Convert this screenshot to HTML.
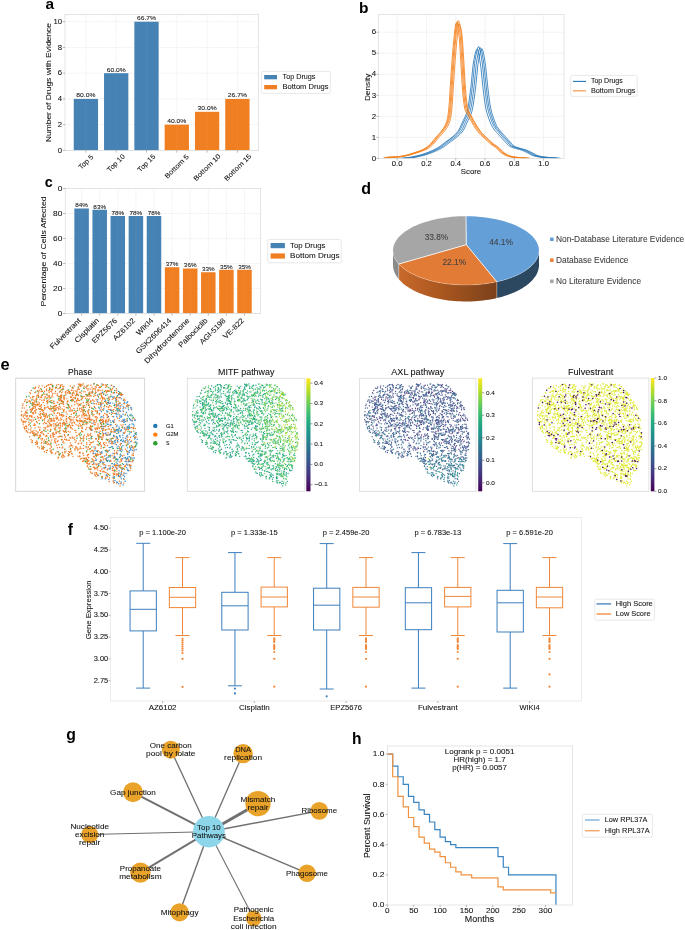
<!DOCTYPE html>
<html><head><meta charset="utf-8"><title>Figure</title>
<style>
html,body{margin:0;padding:0;background:#fff;width:685px;height:930px;overflow:hidden}
svg{display:block;will-change:transform;font-family:"Liberation Sans",sans-serif;fill:#111111}
text{stroke-width:0.07px}
</style></head><body>
<svg width="685" height="930" viewBox="0 0 685 930">
<defs>
<clipPath id="clipb"><rect x="378.5" y="10" width="185.6" height="148.4"/></clipPath>
<linearGradient id="og" x1="398" y1="0" x2="497" y2="0" gradientUnits="userSpaceOnUse"><stop offset="0" stop-color="#c86a2c"/><stop offset="0.45" stop-color="#a9561f"/><stop offset="1" stop-color="#7a401a"/></linearGradient>
<linearGradient id="vg1" x1="0" y1="1" x2="0" y2="0"><stop offset="0" stop-color="#440154"/><stop offset="0.1" stop-color="#482475"/><stop offset="0.2" stop-color="#414487"/><stop offset="0.3" stop-color="#355f8d"/><stop offset="0.4" stop-color="#2a788e"/><stop offset="0.5" stop-color="#21918c"/><stop offset="0.6" stop-color="#22a884"/><stop offset="0.7" stop-color="#44bf70"/><stop offset="0.8" stop-color="#7ad151"/><stop offset="0.9" stop-color="#bddf26"/><stop offset="1" stop-color="#fde725"/></linearGradient>
<linearGradient id="vg2" x1="0" y1="1" x2="0" y2="0"><stop offset="0" stop-color="#440154"/><stop offset="0.1" stop-color="#482475"/><stop offset="0.2" stop-color="#414487"/><stop offset="0.3" stop-color="#355f8d"/><stop offset="0.4" stop-color="#2a788e"/><stop offset="0.5" stop-color="#21918c"/><stop offset="0.6" stop-color="#22a884"/><stop offset="0.7" stop-color="#44bf70"/><stop offset="0.8" stop-color="#7ad151"/><stop offset="0.9" stop-color="#bddf26"/><stop offset="1" stop-color="#fde725"/></linearGradient>
<linearGradient id="vg3" x1="0" y1="1" x2="0" y2="0"><stop offset="0" stop-color="#440154"/><stop offset="0.1" stop-color="#482475"/><stop offset="0.2" stop-color="#414487"/><stop offset="0.3" stop-color="#355f8d"/><stop offset="0.4" stop-color="#2a788e"/><stop offset="0.5" stop-color="#21918c"/><stop offset="0.6" stop-color="#22a884"/><stop offset="0.7" stop-color="#44bf70"/><stop offset="0.8" stop-color="#7ad151"/><stop offset="0.9" stop-color="#bddf26"/><stop offset="1" stop-color="#fde725"/></linearGradient>
</defs>
<rect width="685" height="930" fill="#fff"/>
<line x1="65" y1="150.4" x2="258.4" y2="150.4" stroke="#e2e2e2" stroke-width="0.6" stroke-dasharray="1 0.8"/>
<line x1="65" y1="124.66" x2="258.4" y2="124.66" stroke="#e2e2e2" stroke-width="0.6" stroke-dasharray="1 0.8"/>
<line x1="65" y1="98.92" x2="258.4" y2="98.92" stroke="#e2e2e2" stroke-width="0.6" stroke-dasharray="1 0.8"/>
<line x1="65" y1="73.18" x2="258.4" y2="73.18" stroke="#e2e2e2" stroke-width="0.6" stroke-dasharray="1 0.8"/>
<line x1="65" y1="47.44" x2="258.4" y2="47.44" stroke="#e2e2e2" stroke-width="0.6" stroke-dasharray="1 0.8"/>
<line x1="65" y1="21.7" x2="258.4" y2="21.7" stroke="#e2e2e2" stroke-width="0.6" stroke-dasharray="1 0.8"/>
<line x1="85.9" y1="14.5" x2="85.9" y2="150.4" stroke="#e2e2e2" stroke-width="0.6" stroke-dasharray="1 0.8"/>
<line x1="116.2" y1="14.5" x2="116.2" y2="150.4" stroke="#e2e2e2" stroke-width="0.6" stroke-dasharray="1 0.8"/>
<line x1="146.5" y1="14.5" x2="146.5" y2="150.4" stroke="#e2e2e2" stroke-width="0.6" stroke-dasharray="1 0.8"/>
<line x1="176.8" y1="14.5" x2="176.8" y2="150.4" stroke="#e2e2e2" stroke-width="0.6" stroke-dasharray="1 0.8"/>
<line x1="207.1" y1="14.5" x2="207.1" y2="150.4" stroke="#e2e2e2" stroke-width="0.6" stroke-dasharray="1 0.8"/>
<line x1="237.4" y1="14.5" x2="237.4" y2="150.4" stroke="#e2e2e2" stroke-width="0.6" stroke-dasharray="1 0.8"/>
<rect x="73.75" y="98.92" width="24.3" height="51.48" fill="#4682b4"/>
<line x1="85.9" y1="98.92" x2="85.9" y2="150.4" stroke="#ffffff" stroke-width="0.5" opacity="0.08"/>
<text x="85.9" y="97.42" font-size="6.18" text-anchor="middle" stroke="#111111" textLength="19.06" lengthAdjust="spacingAndGlyphs">80.0%</text>
<rect x="104.05" y="73.18" width="24.3" height="77.22" fill="#4682b4"/>
<line x1="116.2" y1="73.18" x2="116.2" y2="150.4" stroke="#ffffff" stroke-width="0.5" opacity="0.08"/>
<text x="116.2" y="71.68" font-size="6.18" text-anchor="middle" stroke="#111111" textLength="19.06" lengthAdjust="spacingAndGlyphs">60.0%</text>
<rect x="134.35" y="21.7" width="24.3" height="128.7" fill="#4682b4"/>
<line x1="146.5" y1="21.7" x2="146.5" y2="150.4" stroke="#ffffff" stroke-width="0.5" opacity="0.08"/>
<text x="146.5" y="20.2" font-size="6.18" text-anchor="middle" stroke="#111111" textLength="19.06" lengthAdjust="spacingAndGlyphs">66.7%</text>
<rect x="164.65" y="124.66" width="24.3" height="25.74" fill="#f07f22"/>
<line x1="176.8" y1="124.66" x2="176.8" y2="150.4" stroke="#ffffff" stroke-width="0.5" opacity="0.08"/>
<text x="176.8" y="123.16" font-size="6.18" text-anchor="middle" stroke="#111111" textLength="19.06" lengthAdjust="spacingAndGlyphs">40.0%</text>
<rect x="194.95" y="111.79" width="24.3" height="38.61" fill="#f07f22"/>
<line x1="207.1" y1="111.79" x2="207.1" y2="150.4" stroke="#ffffff" stroke-width="0.5" opacity="0.08"/>
<text x="207.1" y="110.29" font-size="6.18" text-anchor="middle" stroke="#111111" textLength="19.06" lengthAdjust="spacingAndGlyphs">30.0%</text>
<rect x="225.25" y="98.92" width="24.3" height="51.48" fill="#f07f22"/>
<line x1="237.4" y1="98.92" x2="237.4" y2="150.4" stroke="#ffffff" stroke-width="0.5" opacity="0.08"/>
<text x="237.4" y="97.42" font-size="6.18" text-anchor="middle" stroke="#111111" textLength="19.06" lengthAdjust="spacingAndGlyphs">26.7%</text>
<rect x="65" y="14.5" width="193.4" height="135.9" fill="none" stroke="#dedede" stroke-width="0.8"/>
<line x1="62.8" y1="150.4" x2="65" y2="150.4" stroke="#8a8a8a" stroke-width="0.6"/>
<text x="62.2" y="152.58" font-size="7" text-anchor="end" stroke="#111111" textLength="4.33" lengthAdjust="spacingAndGlyphs">0</text>
<line x1="62.8" y1="124.66" x2="65" y2="124.66" stroke="#8a8a8a" stroke-width="0.6"/>
<text x="62.2" y="126.84" font-size="7" text-anchor="end" stroke="#111111" textLength="4.33" lengthAdjust="spacingAndGlyphs">2</text>
<line x1="62.8" y1="98.92" x2="65" y2="98.92" stroke="#8a8a8a" stroke-width="0.6"/>
<text x="62.2" y="101.1" font-size="7" text-anchor="end" stroke="#111111" textLength="4.33" lengthAdjust="spacingAndGlyphs">4</text>
<line x1="62.8" y1="73.18" x2="65" y2="73.18" stroke="#8a8a8a" stroke-width="0.6"/>
<text x="62.2" y="75.36" font-size="7" text-anchor="end" stroke="#111111" textLength="4.33" lengthAdjust="spacingAndGlyphs">6</text>
<line x1="62.8" y1="47.44" x2="65" y2="47.44" stroke="#8a8a8a" stroke-width="0.6"/>
<text x="62.2" y="49.62" font-size="7" text-anchor="end" stroke="#111111" textLength="4.33" lengthAdjust="spacingAndGlyphs">8</text>
<line x1="62.8" y1="21.7" x2="65" y2="21.7" stroke="#8a8a8a" stroke-width="0.6"/>
<text x="62.2" y="23.88" font-size="7" text-anchor="end" stroke="#111111" textLength="8.65" lengthAdjust="spacingAndGlyphs">10</text>
<line x1="85.9" y1="150.4" x2="85.9" y2="152.6" stroke="#8a8a8a" stroke-width="0.6"/>
<text x="85.8" y="164.25" font-size="6.9" text-anchor="middle" stroke="#111111" textLength="17.7" lengthAdjust="spacingAndGlyphs" transform="rotate(-45 85.8 161.8)">Top 5</text>
<line x1="116.2" y1="150.4" x2="116.2" y2="152.6" stroke="#8a8a8a" stroke-width="0.6"/>
<text x="115.9" y="165.35" font-size="6.9" text-anchor="middle" stroke="#111111" textLength="21.96" lengthAdjust="spacingAndGlyphs" transform="rotate(-45 115.9 162.9)">Top 10</text>
<line x1="146.5" y1="150.4" x2="146.5" y2="152.6" stroke="#8a8a8a" stroke-width="0.6"/>
<text x="146.4" y="165.35" font-size="6.9" text-anchor="middle" stroke="#111111" textLength="21.96" lengthAdjust="spacingAndGlyphs" transform="rotate(-45 146.4 162.9)">Top 15</text>
<line x1="176.8" y1="150.4" x2="176.8" y2="152.6" stroke="#8a8a8a" stroke-width="0.6"/>
<text x="176.7" y="168.75" font-size="6.9" text-anchor="middle" stroke="#111111" textLength="30.97" lengthAdjust="spacingAndGlyphs" transform="rotate(-45 176.7 166.3)">Bottom 5</text>
<line x1="207.1" y1="150.4" x2="207.1" y2="152.6" stroke="#8a8a8a" stroke-width="0.6"/>
<text x="206.9" y="169.75" font-size="6.9" text-anchor="middle" stroke="#111111" textLength="35.23" lengthAdjust="spacingAndGlyphs" transform="rotate(-45 206.9 167.3)">Bottom 10</text>
<line x1="237.4" y1="150.4" x2="237.4" y2="152.6" stroke="#8a8a8a" stroke-width="0.6"/>
<text x="237.6" y="169.75" font-size="6.9" text-anchor="middle" stroke="#111111" textLength="35.23" lengthAdjust="spacingAndGlyphs" transform="rotate(-45 237.6 167.3)">Bottom 15</text>
<text x="48.4" y="85.34" font-size="7.73" text-anchor="middle" stroke="#111111" textLength="119.21" lengthAdjust="spacingAndGlyphs" transform="rotate(-90 48.4 82.6)">Number of Drugs with Evidence</text>
<rect x="261.5" y="71.5" width="68.9" height="21.9" rx="1.5" fill="#fff" stroke="#e0e0e0" stroke-width="0.7"/>
<rect x="264.2" y="75" width="12.8" height="4.3" fill="#4682b4"/>
<rect x="264.2" y="85" width="12.8" height="4.3" fill="#f07f22"/>
<text x="282.6" y="78.91" font-size="6.8" stroke="#111111" textLength="32.84" lengthAdjust="spacingAndGlyphs">Top Drugs</text>
<text x="282.6" y="89.01" font-size="6.8" stroke="#111111" textLength="45.91" lengthAdjust="spacingAndGlyphs">Bottom Drugs</text>
<text x="45.44" y="9.25" font-size="15.4" font-weight="bold" fill="#000">a</text>
<line x1="397.2" y1="14.4" x2="397.2" y2="158.4" stroke="#ebebeb" stroke-width="0.6"/>
<line x1="426.48" y1="14.4" x2="426.48" y2="158.4" stroke="#ebebeb" stroke-width="0.6"/>
<line x1="455.76" y1="14.4" x2="455.76" y2="158.4" stroke="#ebebeb" stroke-width="0.6"/>
<line x1="485.04" y1="14.4" x2="485.04" y2="158.4" stroke="#ebebeb" stroke-width="0.6"/>
<line x1="514.32" y1="14.4" x2="514.32" y2="158.4" stroke="#ebebeb" stroke-width="0.6"/>
<line x1="543.6" y1="14.4" x2="543.6" y2="158.4" stroke="#ebebeb" stroke-width="0.6"/>
<line x1="378.5" y1="158.4" x2="564.1" y2="158.4" stroke="#ebebeb" stroke-width="0.6"/>
<line x1="378.5" y1="137.37" x2="564.1" y2="137.37" stroke="#ebebeb" stroke-width="0.6"/>
<line x1="378.5" y1="116.34" x2="564.1" y2="116.34" stroke="#ebebeb" stroke-width="0.6"/>
<line x1="378.5" y1="95.31" x2="564.1" y2="95.31" stroke="#ebebeb" stroke-width="0.6"/>
<line x1="378.5" y1="74.28" x2="564.1" y2="74.28" stroke="#ebebeb" stroke-width="0.6"/>
<line x1="378.5" y1="53.25" x2="564.1" y2="53.25" stroke="#ebebeb" stroke-width="0.6"/>
<line x1="378.5" y1="32.22" x2="564.1" y2="32.22" stroke="#ebebeb" stroke-width="0.6"/>
<g clip-path="url(#clipb)">
<path d="M399.1 158.4 L400.09 158.36 L401.07 158.3 L402.06 158.24 L403.04 158.16 L404.03 158.07 L405.01 157.98 L406 157.88 L406.98 157.75 L407.97 157.62 L408.96 157.47 L409.94 157.3 L410.93 157.13 L411.91 156.94 L412.9 156.74 L413.88 156.53 L414.87 156.31 L415.85 156.09 L416.84 155.86 L417.82 155.62 L418.81 155.38 L419.79 155.13 L420.78 154.86 L421.76 154.57 L422.75 154.26 L423.73 153.93 L424.72 153.58 L425.7 153.22 L426.69 152.85 L427.67 152.47 L428.66 152.07 L429.64 151.67 L430.63 151.26 L431.62 150.83 L432.6 150.38 L433.59 149.91 L434.57 149.42 L435.56 148.91 L436.54 148.37 L437.53 147.81 L438.51 147.23 L439.5 146.58 L440.48 145.88 L441.47 145.14 L442.45 144.38 L443.44 143.61 L444.42 142.84 L445.41 142.1 L446.39 141.39 L447.38 140.69 L448.36 139.98 L449.35 139.26 L450.33 138.52 L451.32 137.73 L452.3 136.92 L453.29 136.12 L454.27 135.28 L455.26 134.38 L456.25 133.38 L457.23 132.25 L458.22 130.88 L459.2 129.17 L460.19 127.2 L461.17 125.08 L462.16 122.9 L463.14 120.78 L464.13 118.83 L465.11 116.82 L466.1 114.47 L467.08 111.51 L468.07 107.18 L469.05 101.07 L470.04 93.81 L471.02 86.01 L472.01 75.84 L472.99 65.67 L473.98 59.63 L474.96 54.53 L475.95 50.79 L476.93 49.24 L477.92 50.77 L478.91 54.94 L479.89 60.54 L480.88 67.19 L481.86 77.03 L482.85 86.44 L483.83 94.83 L484.82 102.35 L485.8 108.41 L486.79 112.4 L487.77 115.57 L488.76 118.37 L489.74 121.08 L490.73 123.56 L491.71 125.73 L492.7 127.46 L493.68 128.91 L494.67 130.18 L495.65 131.32 L496.64 132.41 L497.62 133.49 L498.61 134.62 L499.59 135.74 L500.58 136.84 L501.56 137.91 L502.55 138.97 L503.54 140.02 L504.52 141.07 L505.51 142.2 L506.49 143.36 L507.48 144.47 L508.46 145.44 L509.45 146.19 L510.43 146.71 L511.42 147.12 L512.4 147.48 L513.39 147.79 L514.37 148.08 L515.36 148.37 L516.34 148.67 L517.33 148.94 L518.31 149.19 L519.3 149.45 L520.28 149.73 L521.27 150.04 L522.25 150.4 L523.24 150.82 L524.22 151.27 L525.21 151.75 L526.19 152.24 L527.18 152.73 L528.17 153.22 L529.15 153.76 L530.14 154.32 L531.12 154.85 L532.11 155.31 L533.09 155.67 L534.08 155.95 L535.06 156.2 L536.05 156.43 L537.03 156.63 L538.02 156.81 L539 156.96 L539.99 157.1 L540.97 157.2 L541.96 157.3 L542.94 157.38 L543.93 157.45 L544.91 157.51 L545.9 157.57 L546.88 157.62 L547.87 157.68 L548.85 157.74 L549.84 157.8 L550.83 157.87 L551.81 157.95 L552.8 158.04 L553.78 158.15 L554.77 158.27 L555.75 158.4" fill="none" stroke="#2a7ab9" stroke-width="0.85" stroke-linejoin="round"/>
<path d="M400.71 158.4 L401.7 158.36 L402.68 158.3 L403.67 158.23 L404.65 158.15 L405.64 158.06 L406.62 157.97 L407.61 157.86 L408.6 157.74 L409.58 157.6 L410.57 157.44 L411.55 157.27 L412.54 157.09 L413.52 156.9 L414.51 156.7 L415.49 156.48 L416.48 156.26 L417.46 156.03 L418.45 155.79 L419.43 155.55 L420.42 155.3 L421.4 155.05 L422.39 154.77 L423.37 154.47 L424.36 154.15 L425.34 153.81 L426.33 153.46 L427.31 153.09 L428.3 152.71 L429.28 152.32 L430.27 151.91 L431.26 151.5 L432.24 151.08 L433.23 150.64 L434.21 150.18 L435.2 149.69 L436.18 149.19 L437.17 148.67 L438.15 148.12 L439.14 147.54 L440.12 146.94 L441.11 146.28 L442.09 145.56 L443.08 144.8 L444.06 144.02 L445.05 143.23 L446.03 142.45 L447.02 141.69 L448 140.96 L448.99 140.24 L449.97 139.52 L450.96 138.78 L451.94 138.01 L452.93 137.2 L453.91 136.37 L454.9 135.55 L455.89 134.7 L456.87 133.77 L457.86 132.75 L458.84 131.58 L459.83 130.19 L460.81 128.43 L461.8 126.41 L462.78 124.23 L463.77 122 L464.75 119.83 L465.74 117.82 L466.72 115.76 L467.71 113.35 L468.69 110.32 L469.68 105.88 L470.66 99.62 L471.65 92.17 L472.63 84.17 L473.62 73.74 L474.6 63.31 L475.59 57.12 L476.57 51.9 L477.56 48.06 L478.54 46.47 L479.53 48.03 L480.52 52.32 L481.5 58.05 L482.49 64.88 L483.47 74.96 L484.46 84.62 L485.44 93.21 L486.43 100.92 L487.41 107.14 L488.4 111.23 L489.38 114.48 L490.37 117.36 L491.35 120.13 L492.34 122.68 L493.32 124.9 L494.31 126.68 L495.29 128.16 L496.28 129.46 L497.26 130.64 L498.25 131.75 L499.23 132.86 L500.22 134.02 L501.2 135.16 L502.19 136.29 L503.18 137.39 L504.16 138.48 L505.15 139.55 L506.13 140.63 L507.12 141.79 L508.1 142.98 L509.09 144.11 L510.07 145.11 L511.06 145.88 L512.04 146.41 L513.03 146.84 L514.01 147.2 L515 147.52 L515.98 147.81 L516.97 148.12 L517.95 148.42 L518.94 148.7 L519.92 148.96 L520.91 149.22 L521.89 149.51 L522.88 149.82 L523.86 150.2 L524.85 150.62 L525.83 151.09 L526.82 151.59 L527.81 152.09 L528.79 152.58 L529.78 153.09 L530.76 153.65 L531.75 154.21 L532.73 154.76 L533.72 155.23 L534.7 155.6 L535.69 155.89 L536.67 156.14 L537.66 156.38 L538.64 156.58 L539.63 156.77 L540.61 156.93 L541.6 157.06 L542.58 157.17 L543.57 157.27 L544.55 157.35 L545.54 157.42 L546.52 157.49 L547.51 157.55 L548.49 157.6 L549.48 157.66 L550.47 157.72 L551.45 157.78 L552.44 157.85 L553.42 157.94 L554.41 158.03 L555.39 158.14 L556.38 158.27 L557.36 158.4" fill="none" stroke="#2a7ab9" stroke-width="0.85" stroke-linejoin="round"/>
<path d="M402.32 158.4 L403.31 158.36 L404.29 158.3 L405.28 158.23 L406.26 158.15 L407.25 158.07 L408.24 157.97 L409.22 157.87 L410.21 157.74 L411.19 157.61 L412.18 157.45 L413.16 157.29 L414.15 157.11 L415.13 156.91 L416.12 156.71 L417.1 156.5 L418.09 156.28 L419.07 156.05 L420.06 155.82 L421.04 155.58 L422.03 155.33 L423.01 155.08 L424 154.81 L424.98 154.51 L425.97 154.19 L426.95 153.86 L427.94 153.51 L428.92 153.14 L429.91 152.77 L430.9 152.38 L431.88 151.98 L432.87 151.57 L433.85 151.15 L434.84 150.71 L435.82 150.26 L436.81 149.78 L437.79 149.28 L438.78 148.76 L439.76 148.22 L440.75 147.65 L441.73 147.06 L442.72 146.4 L443.7 145.69 L444.69 144.94 L445.67 144.16 L446.66 143.38 L447.64 142.61 L448.63 141.86 L449.61 141.13 L450.6 140.42 L451.58 139.7 L452.57 138.97 L453.55 138.21 L454.54 137.41 L455.53 136.59 L456.51 135.78 L457.5 134.93 L458.48 134.02 L459.47 133 L460.45 131.85 L461.44 130.46 L462.42 128.73 L463.41 126.73 L464.39 124.57 L465.38 122.36 L466.36 120.21 L467.35 118.23 L468.33 116.18 L469.32 113.8 L470.3 110.79 L471.29 106.4 L472.27 100.2 L473.26 92.82 L474.24 84.91 L475.23 74.58 L476.21 64.26 L477.2 58.12 L478.18 52.95 L479.17 49.15 L480.16 47.58 L481.14 49.13 L482.13 53.37 L483.11 59.05 L484.1 65.8 L485.08 75.79 L486.07 85.35 L487.05 93.86 L488.04 101.49 L489.02 107.65 L490.01 111.7 L490.99 114.92 L491.98 117.76 L492.96 120.51 L493.95 123.03 L494.93 125.23 L495.92 126.99 L496.9 128.46 L497.89 129.75 L498.87 130.91 L499.86 132.01 L500.84 133.11 L501.83 134.26 L502.82 135.39 L503.8 136.51 L504.79 137.6 L505.77 138.68 L506.76 139.74 L507.74 140.81 L508.73 141.96 L509.71 143.13 L510.7 144.25 L511.68 145.24 L512.67 146.01 L513.65 146.53 L514.64 146.95 L515.62 147.31 L516.61 147.62 L517.59 147.92 L518.58 148.22 L519.56 148.52 L520.55 148.79 L521.53 149.05 L522.52 149.32 L523.5 149.59 L524.49 149.91 L525.47 150.28 L526.46 150.7 L527.45 151.16 L528.43 151.65 L529.42 152.15 L530.4 152.64 L531.39 153.14 L532.37 153.69 L533.36 154.25 L534.34 154.79 L535.33 155.26 L536.31 155.63 L537.3 155.91 L538.28 156.17 L539.27 156.4 L540.25 156.6 L541.24 156.78 L542.22 156.94 L543.21 157.08 L544.19 157.19 L545.18 157.28 L546.16 157.36 L547.15 157.43 L548.13 157.5 L549.12 157.55 L550.11 157.61 L551.09 157.67 L552.08 157.72 L553.06 157.79 L554.05 157.86 L555.03 157.94 L556.02 158.04 L557 158.15 L557.99 158.27 L558.97 158.4" fill="none" stroke="#2a7ab9" stroke-width="0.85" stroke-linejoin="round"/>
<path d="M403.93 158.4 L404.92 158.36 L405.9 158.3 L406.89 158.23 L407.88 158.16 L408.86 158.07 L409.85 157.98 L410.83 157.87 L411.82 157.75 L412.8 157.61 L413.79 157.46 L414.77 157.3 L415.76 157.12 L416.74 156.93 L417.73 156.73 L418.71 156.52 L419.7 156.3 L420.68 156.08 L421.67 155.85 L422.65 155.61 L423.64 155.36 L424.62 155.11 L425.61 154.84 L426.59 154.55 L427.58 154.24 L428.56 153.9 L429.55 153.56 L430.54 153.2 L431.52 152.82 L432.51 152.44 L433.49 152.04 L434.48 151.64 L435.46 151.22 L436.45 150.79 L437.43 150.34 L438.42 149.87 L439.4 149.37 L440.39 148.86 L441.37 148.32 L442.36 147.76 L443.34 147.17 L444.33 146.52 L445.31 145.82 L446.3 145.07 L447.28 144.31 L448.27 143.53 L449.25 142.76 L450.24 142.02 L451.22 141.3 L452.21 140.6 L453.19 139.89 L454.18 139.17 L455.17 138.41 L456.15 137.62 L457.14 136.81 L458.12 136 L459.11 135.17 L460.09 134.26 L461.08 133.26 L462.06 132.11 L463.05 130.74 L464.03 129.02 L465.02 127.05 L466 124.91 L466.99 122.72 L467.97 120.59 L468.96 118.63 L469.94 116.61 L470.93 114.25 L471.91 111.27 L472.9 106.92 L473.88 100.78 L474.87 93.48 L475.85 85.64 L476.84 75.42 L477.82 65.2 L478.81 59.13 L479.8 54.01 L480.78 50.24 L481.77 48.68 L482.75 50.22 L483.74 54.42 L484.72 60.04 L485.71 66.73 L486.69 76.61 L487.68 86.08 L488.66 94.5 L489.65 102.06 L490.63 108.15 L491.62 112.17 L492.6 115.35 L493.59 118.17 L494.57 120.89 L495.56 123.39 L496.54 125.56 L497.53 127.31 L498.51 128.76 L499.5 130.03 L500.48 131.19 L501.47 132.28 L502.46 133.36 L503.44 134.5 L504.43 135.62 L505.41 136.73 L506.4 137.81 L507.38 138.87 L508.37 139.93 L509.35 140.98 L510.34 142.12 L511.32 143.29 L512.31 144.4 L513.29 145.37 L514.28 146.13 L515.26 146.65 L516.25 147.07 L517.23 147.42 L518.22 147.73 L519.2 148.02 L520.19 148.32 L521.17 148.62 L522.16 148.89 L523.14 149.15 L524.13 149.41 L525.11 149.68 L526.1 149.99 L527.09 150.36 L528.07 150.78 L529.06 151.24 L530.04 151.72 L531.03 152.21 L532.01 152.7 L533 153.19 L533.98 153.74 L534.97 154.3 L535.95 154.83 L536.94 155.29 L537.92 155.66 L538.91 155.94 L539.89 156.19 L540.88 156.42 L541.86 156.62 L542.85 156.8 L543.83 156.96 L544.82 157.09 L545.8 157.2 L546.79 157.29 L547.77 157.37 L548.76 157.44 L549.75 157.5 L550.73 157.56 L551.72 157.62 L552.7 157.67 L553.69 157.73 L554.67 157.79 L555.66 157.86 L556.64 157.95 L557.63 158.04 L558.61 158.15 L559.6 158.27 L560.58 158.4" fill="none" stroke="#2a7ab9" stroke-width="0.85" stroke-linejoin="round"/>
<path d="M383.15 158.4 L384.05 157.81 L384.96 157.53 L385.87 157.43 L386.77 157.36 L387.68 157.3 L388.59 157.25 L389.49 157.22 L390.4 157.19 L391.31 157.16 L392.22 157.13 L393.12 157.09 L394.03 157.05 L394.94 156.99 L395.84 156.92 L396.75 156.83 L397.66 156.73 L398.56 156.61 L399.47 156.48 L400.38 156.33 L401.28 156.18 L402.19 156.01 L403.1 155.84 L404.01 155.66 L404.91 155.47 L405.82 155.28 L406.73 155.07 L407.63 154.84 L408.54 154.58 L409.45 154.31 L410.35 154.02 L411.26 153.72 L412.17 153.41 L413.07 153.1 L413.98 152.79 L414.89 152.48 L415.8 152.18 L416.7 151.88 L417.61 151.58 L418.52 151.27 L419.42 150.95 L420.33 150.61 L421.24 150.24 L422.14 149.85 L423.05 149.42 L423.96 148.94 L424.86 148.4 L425.77 147.8 L426.68 147.14 L427.59 146.42 L428.49 145.66 L429.4 144.86 L430.31 144.02 L431.21 143.07 L432.12 141.98 L433.03 140.81 L433.93 139.62 L434.84 138.45 L435.75 137.36 L436.66 136.36 L437.56 135.41 L438.47 134.47 L439.38 133.49 L440.28 132.44 L441.19 131.28 L442.1 130.08 L443 128.8 L443.91 127.37 L444.82 125.71 L445.72 123.78 L446.63 121.47 L447.54 118.22 L448.45 112.32 L449.35 101.94 L450.26 86.82 L451.17 72.66 L452.07 59.97 L452.98 48.95 L453.89 39.05 L454.79 29.54 L455.7 23.66 L456.61 23.58 L457.51 26.27 L458.42 30.57 L459.33 38.16 L460.24 52.27 L461.14 66.99 L462.05 83.14 L462.96 95.38 L463.86 103.56 L464.77 108.83 L465.68 111.35 L466.58 113.08 L467.49 114.48 L468.4 116.02 L469.31 117.76 L470.21 119.5 L471.12 121.2 L472.03 122.83 L472.93 124.36 L473.84 125.82 L474.75 127.25 L475.65 128.62 L476.56 129.94 L477.47 131.17 L478.37 132.32 L479.28 133.37 L480.19 134.34 L481.1 135.26 L482 136.13 L482.91 136.98 L483.82 137.82 L484.72 138.67 L485.63 139.51 L486.54 140.36 L487.44 141.19 L488.35 142.01 L489.26 142.81 L490.16 143.58 L491.07 144.32 L491.98 145.02 L492.89 145.65 L493.79 146.23 L494.7 146.82 L495.61 147.46 L496.51 148.21 L497.42 149.13 L498.33 150.12 L499.23 151.09 L500.14 151.94 L501.05 152.63 L501.96 153.27 L502.86 153.88 L503.77 154.44 L504.68 154.94 L505.58 155.37 L506.49 155.72 L507.4 156.02 L508.3 156.3 L509.21 156.56 L510.12 156.78 L511.02 156.96 L511.93 157.11 L512.84 157.22 L513.75 157.31 L514.65 157.38 L515.56 157.45 L516.47 157.51 L517.37 157.57 L518.28 157.62 L519.19 157.67 L520.09 157.72 L521 157.77 L521.91 157.83 L522.81 157.9 L523.72 157.97 L524.63 158.06 L525.54 158.17 L526.44 158.28 L527.35 158.4" fill="none" stroke="#f47f1a" stroke-width="0.85" stroke-linejoin="round"/>
<path d="M384.17 158.4 L385.08 157.8 L385.98 157.52 L386.89 157.42 L387.8 157.35 L388.71 157.29 L389.61 157.24 L390.52 157.2 L391.43 157.17 L392.33 157.15 L393.24 157.12 L394.15 157.08 L395.05 157.04 L395.96 156.98 L396.87 156.91 L397.77 156.81 L398.68 156.71 L399.59 156.59 L400.5 156.46 L401.4 156.31 L402.31 156.15 L403.22 155.99 L404.12 155.81 L405.03 155.63 L405.94 155.44 L406.84 155.25 L407.75 155.04 L408.66 154.8 L409.56 154.55 L410.47 154.27 L411.38 153.98 L412.29 153.67 L413.19 153.36 L414.1 153.05 L415.01 152.73 L415.91 152.42 L416.82 152.12 L417.73 151.81 L418.63 151.51 L419.54 151.2 L420.45 150.87 L421.36 150.53 L422.26 150.16 L423.17 149.76 L424.08 149.33 L424.98 148.85 L425.89 148.3 L426.8 147.69 L427.7 147.02 L428.61 146.3 L429.52 145.53 L430.42 144.72 L431.33 143.87 L432.24 142.91 L433.15 141.81 L434.05 140.63 L434.96 139.43 L435.87 138.25 L436.77 137.15 L437.68 136.14 L438.59 135.18 L439.49 134.23 L440.4 133.24 L441.31 132.17 L442.21 131 L443.12 129.79 L444.03 128.5 L444.94 127.05 L445.84 125.38 L446.75 123.43 L447.66 121.09 L448.56 117.81 L449.47 111.85 L450.38 101.37 L451.28 86.09 L452.19 71.79 L453.1 58.98 L454.01 47.85 L454.91 37.84 L455.82 28.23 L456.73 22.3 L457.63 22.22 L458.54 24.93 L459.45 29.28 L460.35 36.95 L461.26 51.2 L462.17 66.06 L463.07 82.38 L463.98 94.74 L464.89 103.01 L465.8 108.33 L466.7 110.87 L467.61 112.62 L468.52 114.04 L469.42 115.59 L470.33 117.35 L471.24 119.11 L472.14 120.83 L473.05 122.47 L473.96 124.02 L474.86 125.5 L475.77 126.94 L476.68 128.32 L477.59 129.65 L478.49 130.89 L479.4 132.05 L480.31 133.11 L481.21 134.1 L482.12 135.03 L483.03 135.91 L483.93 136.76 L484.84 137.61 L485.75 138.47 L486.66 139.32 L487.56 140.18 L488.47 141.02 L489.38 141.85 L490.28 142.65 L491.19 143.43 L492.1 144.18 L493 144.89 L493.91 145.52 L494.82 146.11 L495.72 146.7 L496.63 147.35 L497.54 148.11 L498.45 149.04 L499.35 150.04 L500.26 151.02 L501.17 151.87 L502.07 152.57 L502.98 153.22 L503.89 153.83 L504.79 154.4 L505.7 154.9 L506.61 155.34 L507.51 155.69 L508.42 156 L509.33 156.28 L510.24 156.54 L511.14 156.76 L512.05 156.95 L512.96 157.09 L513.86 157.2 L514.77 157.3 L515.68 157.37 L516.58 157.44 L517.49 157.5 L518.4 157.56 L519.3 157.61 L520.21 157.66 L521.12 157.71 L522.03 157.76 L522.93 157.82 L523.84 157.89 L524.75 157.97 L525.65 158.06 L526.56 158.17 L527.47 158.28 L528.37 158.4" fill="none" stroke="#f47f1a" stroke-width="0.85" stroke-linejoin="round"/>
<path d="M385.2 158.4 L386.1 157.8 L387.01 157.51 L387.92 157.41 L388.82 157.34 L389.73 157.28 L390.64 157.23 L391.54 157.19 L392.45 157.16 L393.36 157.13 L394.26 157.1 L395.17 157.07 L396.08 157.02 L396.99 156.97 L397.89 156.89 L398.8 156.8 L399.71 156.69 L400.61 156.57 L401.52 156.44 L402.43 156.29 L403.33 156.13 L404.24 155.96 L405.15 155.79 L406.05 155.6 L406.96 155.41 L407.87 155.22 L408.78 155.01 L409.68 154.77 L410.59 154.51 L411.5 154.23 L412.4 153.93 L413.31 153.63 L414.22 153.31 L415.12 152.99 L416.03 152.68 L416.94 152.36 L417.85 152.05 L418.75 151.75 L419.66 151.44 L420.57 151.12 L421.47 150.8 L422.38 150.45 L423.29 150.08 L424.19 149.67 L425.1 149.24 L426.01 148.75 L426.91 148.2 L427.82 147.58 L428.73 146.91 L429.64 146.18 L430.54 145.4 L431.45 144.58 L432.36 143.72 L433.26 142.76 L434.17 141.65 L435.08 140.46 L435.98 139.24 L436.89 138.04 L437.8 136.93 L438.7 135.92 L439.61 134.95 L440.52 133.98 L441.43 132.99 L442.33 131.91 L443.24 130.73 L444.15 129.51 L445.05 128.2 L445.96 126.74 L446.87 125.05 L447.77 123.08 L448.68 120.72 L449.59 117.41 L450.5 111.39 L451.4 100.8 L452.31 85.37 L453.22 70.92 L454.12 57.98 L455.03 46.74 L455.94 36.64 L456.84 26.93 L457.75 20.94 L458.66 20.86 L459.56 23.6 L460.47 27.99 L461.38 35.73 L462.29 50.13 L463.19 65.14 L464.1 81.62 L465.01 94.1 L465.91 102.45 L466.82 107.83 L467.73 110.4 L468.63 112.16 L469.54 113.6 L470.45 115.16 L471.35 116.94 L472.26 118.71 L473.17 120.45 L474.08 122.11 L474.98 123.67 L475.89 125.17 L476.8 126.62 L477.7 128.02 L478.61 129.36 L479.52 130.62 L480.42 131.79 L481.33 132.86 L482.24 133.86 L483.15 134.79 L484.05 135.68 L484.96 136.55 L485.87 137.4 L486.77 138.27 L487.68 139.13 L488.59 139.99 L489.49 140.84 L490.4 141.68 L491.31 142.49 L492.21 143.28 L493.12 144.03 L494.03 144.75 L494.94 145.39 L495.84 145.99 L496.75 146.58 L497.66 147.24 L498.56 148.01 L499.47 148.94 L500.38 149.96 L501.28 150.95 L502.19 151.81 L503.1 152.51 L504 153.17 L504.91 153.79 L505.82 154.36 L506.73 154.87 L507.63 155.31 L508.54 155.67 L509.45 155.98 L510.35 156.26 L511.26 156.52 L512.17 156.74 L513.07 156.93 L513.98 157.08 L514.89 157.19 L515.8 157.28 L516.7 157.36 L517.61 157.43 L518.52 157.49 L519.42 157.55 L520.33 157.6 L521.24 157.65 L522.14 157.7 L523.05 157.76 L523.96 157.82 L524.86 157.89 L525.77 157.96 L526.68 158.06 L527.59 158.16 L528.49 158.28 L529.4 158.4" fill="none" stroke="#f47f1a" stroke-width="0.85" stroke-linejoin="round"/>
<path d="M386.22 158.4 L387.13 157.81 L388.03 157.54 L388.94 157.44 L389.85 157.36 L390.75 157.3 L391.66 157.26 L392.57 157.22 L393.48 157.19 L394.38 157.16 L395.29 157.13 L396.2 157.1 L397.1 157.06 L398.01 157 L398.92 156.93 L399.82 156.84 L400.73 156.73 L401.64 156.62 L402.54 156.49 L403.45 156.34 L404.36 156.19 L405.27 156.03 L406.17 155.85 L407.08 155.67 L407.99 155.49 L408.89 155.3 L409.8 155.09 L410.71 154.86 L411.61 154.6 L412.52 154.33 L413.43 154.04 L414.34 153.74 L415.24 153.44 L416.15 153.13 L417.06 152.82 L417.96 152.51 L418.87 152.21 L419.78 151.91 L420.68 151.61 L421.59 151.3 L422.5 150.98 L423.4 150.64 L424.31 150.28 L425.22 149.89 L426.13 149.46 L427.03 148.99 L427.94 148.45 L428.85 147.85 L429.75 147.19 L430.66 146.48 L431.57 145.72 L432.47 144.92 L433.38 144.09 L434.29 143.14 L435.19 142.06 L436.1 140.9 L437.01 139.71 L437.92 138.55 L438.82 137.47 L439.73 136.47 L440.64 135.53 L441.54 134.59 L442.45 133.62 L443.36 132.57 L444.26 131.42 L445.17 130.22 L446.08 128.95 L446.99 127.52 L447.89 125.87 L448.8 123.96 L449.71 121.65 L450.61 118.42 L451.52 112.55 L452.43 102.22 L453.33 87.18 L454.24 73.09 L455.15 60.47 L456.05 49.51 L456.96 39.65 L457.87 30.19 L458.78 24.34 L459.68 24.26 L460.59 26.94 L461.5 31.22 L462.4 38.77 L463.31 52.81 L464.22 67.45 L465.12 83.52 L466.03 95.7 L466.94 103.84 L467.84 109.08 L468.75 111.59 L469.66 113.31 L470.57 114.7 L471.47 116.23 L472.38 117.96 L473.29 119.69 L474.19 121.39 L475.1 123.01 L476.01 124.53 L476.91 125.99 L477.82 127.41 L478.73 128.78 L479.64 130.08 L480.54 131.31 L481.45 132.45 L482.36 133.49 L483.26 134.46 L484.17 135.38 L485.08 136.24 L485.98 137.09 L486.89 137.92 L487.8 138.76 L488.7 139.61 L489.61 140.45 L490.52 141.28 L491.43 142.09 L492.33 142.89 L493.24 143.65 L494.15 144.39 L495.05 145.09 L495.96 145.71 L496.87 146.29 L497.77 146.88 L498.68 147.51 L499.59 148.27 L500.49 149.18 L501.4 150.17 L502.31 151.13 L503.22 151.97 L504.12 152.65 L505.03 153.3 L505.94 153.9 L506.84 154.46 L507.75 154.95 L508.66 155.38 L509.56 155.73 L510.47 156.04 L511.38 156.32 L512.29 156.57 L513.19 156.79 L514.1 156.97 L515.01 157.11 L515.91 157.22 L516.82 157.31 L517.73 157.39 L518.63 157.46 L519.54 157.52 L520.45 157.57 L521.35 157.62 L522.26 157.67 L523.17 157.72 L524.08 157.77 L524.98 157.83 L525.89 157.9 L526.8 157.98 L527.7 158.07 L528.61 158.17 L529.52 158.28 L530.42 158.4" fill="none" stroke="#f47f1a" stroke-width="0.85" stroke-linejoin="round"/>
</g>
<rect x="378.5" y="14.4" width="185.6" height="144" fill="none" stroke="#dedede" stroke-width="0.8"/>
<line x1="376.3" y1="158.4" x2="378.5" y2="158.4" stroke="#8a8a8a" stroke-width="0.6"/>
<text x="376.2" y="160.61" font-size="7.11" text-anchor="end" stroke="#111111" textLength="4.39" lengthAdjust="spacingAndGlyphs">0</text>
<line x1="376.3" y1="137.37" x2="378.5" y2="137.37" stroke="#8a8a8a" stroke-width="0.6"/>
<text x="376.2" y="139.58" font-size="7.11" text-anchor="end" stroke="#111111" textLength="4.39" lengthAdjust="spacingAndGlyphs">1</text>
<line x1="376.3" y1="116.34" x2="378.5" y2="116.34" stroke="#8a8a8a" stroke-width="0.6"/>
<text x="376.2" y="118.55" font-size="7.11" text-anchor="end" stroke="#111111" textLength="4.39" lengthAdjust="spacingAndGlyphs">2</text>
<line x1="376.3" y1="95.31" x2="378.5" y2="95.31" stroke="#8a8a8a" stroke-width="0.6"/>
<text x="376.2" y="97.52" font-size="7.11" text-anchor="end" stroke="#111111" textLength="4.39" lengthAdjust="spacingAndGlyphs">3</text>
<line x1="376.3" y1="74.28" x2="378.5" y2="74.28" stroke="#8a8a8a" stroke-width="0.6"/>
<text x="376.2" y="76.49" font-size="7.11" text-anchor="end" stroke="#111111" textLength="4.39" lengthAdjust="spacingAndGlyphs">4</text>
<line x1="376.3" y1="53.25" x2="378.5" y2="53.25" stroke="#8a8a8a" stroke-width="0.6"/>
<text x="376.2" y="55.46" font-size="7.11" text-anchor="end" stroke="#111111" textLength="4.39" lengthAdjust="spacingAndGlyphs">5</text>
<line x1="376.3" y1="32.22" x2="378.5" y2="32.22" stroke="#8a8a8a" stroke-width="0.6"/>
<text x="376.2" y="34.43" font-size="7.11" text-anchor="end" stroke="#111111" textLength="4.39" lengthAdjust="spacingAndGlyphs">6</text>
<line x1="397.2" y1="158.4" x2="397.2" y2="160.6" stroke="#8a8a8a" stroke-width="0.6"/>
<text x="397.2" y="165.54" font-size="6.9" text-anchor="middle" stroke="#111111" textLength="10.66" lengthAdjust="spacingAndGlyphs">0.0</text>
<line x1="426.48" y1="158.4" x2="426.48" y2="160.6" stroke="#8a8a8a" stroke-width="0.6"/>
<text x="426.48" y="165.54" font-size="6.9" text-anchor="middle" stroke="#111111" textLength="10.66" lengthAdjust="spacingAndGlyphs">0.2</text>
<line x1="455.76" y1="158.4" x2="455.76" y2="160.6" stroke="#8a8a8a" stroke-width="0.6"/>
<text x="455.76" y="165.54" font-size="6.9" text-anchor="middle" stroke="#111111" textLength="10.66" lengthAdjust="spacingAndGlyphs">0.4</text>
<line x1="485.04" y1="158.4" x2="485.04" y2="160.6" stroke="#8a8a8a" stroke-width="0.6"/>
<text x="485.04" y="165.54" font-size="6.9" text-anchor="middle" stroke="#111111" textLength="10.66" lengthAdjust="spacingAndGlyphs">0.6</text>
<line x1="514.32" y1="158.4" x2="514.32" y2="160.6" stroke="#8a8a8a" stroke-width="0.6"/>
<text x="514.32" y="165.54" font-size="6.9" text-anchor="middle" stroke="#111111" textLength="10.66" lengthAdjust="spacingAndGlyphs">0.8</text>
<line x1="543.6" y1="158.4" x2="543.6" y2="160.6" stroke="#8a8a8a" stroke-width="0.6"/>
<text x="543.6" y="165.54" font-size="6.9" text-anchor="middle" stroke="#111111" textLength="10.66" lengthAdjust="spacingAndGlyphs">1.0</text>
<text x="471" y="173.94" font-size="7.52" text-anchor="middle" stroke="#111111" textLength="20.45" lengthAdjust="spacingAndGlyphs">Score</text>
<text x="367.2" y="89.93" font-size="7.42" text-anchor="middle" stroke="#111111" textLength="27.37" lengthAdjust="spacingAndGlyphs" transform="rotate(-90 367.2 87.3)">Density</text>
<rect x="570.6" y="75.4" width="66.6" height="21" rx="1.5" fill="#fff" stroke="#e0e0e0" stroke-width="0.7"/>
<line x1="572.9" y1="81.4" x2="586" y2="81.4" stroke="#1f77b4" stroke-width="1.1"/>
<line x1="572.9" y1="90.8" x2="586" y2="90.8" stroke="#f5a868" stroke-width="1.4"/>
<text x="590.9" y="83.45" font-size="6.59" stroke="#111111" textLength="31.85" lengthAdjust="spacingAndGlyphs">Top Drugs</text>
<text x="590.9" y="92.85" font-size="6.59" stroke="#111111" textLength="44.52" lengthAdjust="spacingAndGlyphs">Bottom Drugs</text>
<text x="358.99" y="12.75" font-size="15.5" font-weight="bold" fill="#000">b</text>
<line x1="65.3" y1="313.5" x2="260.5" y2="313.5" stroke="#e2e2e2" stroke-width="0.6" stroke-dasharray="1 0.8"/>
<line x1="65.3" y1="288.5" x2="260.5" y2="288.5" stroke="#e2e2e2" stroke-width="0.6" stroke-dasharray="1 0.8"/>
<line x1="65.3" y1="263.5" x2="260.5" y2="263.5" stroke="#e2e2e2" stroke-width="0.6" stroke-dasharray="1 0.8"/>
<line x1="65.3" y1="238.5" x2="260.5" y2="238.5" stroke="#e2e2e2" stroke-width="0.6" stroke-dasharray="1 0.8"/>
<line x1="65.3" y1="213.5" x2="260.5" y2="213.5" stroke="#e2e2e2" stroke-width="0.6" stroke-dasharray="1 0.8"/>
<line x1="65.3" y1="188.5" x2="260.5" y2="188.5" stroke="#e2e2e2" stroke-width="0.6" stroke-dasharray="1 0.8"/>
<line x1="81.6" y1="188.5" x2="81.6" y2="313.5" stroke="#e2e2e2" stroke-width="0.6" stroke-dasharray="1 0.8"/>
<line x1="99.7" y1="188.5" x2="99.7" y2="313.5" stroke="#e2e2e2" stroke-width="0.6" stroke-dasharray="1 0.8"/>
<line x1="117.8" y1="188.5" x2="117.8" y2="313.5" stroke="#e2e2e2" stroke-width="0.6" stroke-dasharray="1 0.8"/>
<line x1="135.9" y1="188.5" x2="135.9" y2="313.5" stroke="#e2e2e2" stroke-width="0.6" stroke-dasharray="1 0.8"/>
<line x1="154" y1="188.5" x2="154" y2="313.5" stroke="#e2e2e2" stroke-width="0.6" stroke-dasharray="1 0.8"/>
<line x1="172.1" y1="188.5" x2="172.1" y2="313.5" stroke="#e2e2e2" stroke-width="0.6" stroke-dasharray="1 0.8"/>
<line x1="190.2" y1="188.5" x2="190.2" y2="313.5" stroke="#e2e2e2" stroke-width="0.6" stroke-dasharray="1 0.8"/>
<line x1="208.3" y1="188.5" x2="208.3" y2="313.5" stroke="#e2e2e2" stroke-width="0.6" stroke-dasharray="1 0.8"/>
<line x1="226.4" y1="188.5" x2="226.4" y2="313.5" stroke="#e2e2e2" stroke-width="0.6" stroke-dasharray="1 0.8"/>
<line x1="244.5" y1="188.5" x2="244.5" y2="313.5" stroke="#e2e2e2" stroke-width="0.6" stroke-dasharray="1 0.8"/>
<rect x="74.35" y="208.5" width="14.5" height="105" fill="#4682b4"/>
<line x1="81.6" y1="208.5" x2="81.6" y2="313.5" stroke="#ffffff" stroke-width="0.5" opacity="0.08"/>
<text x="81.6" y="207.4" font-size="5.87" text-anchor="middle" stroke="#111111" textLength="12.67" lengthAdjust="spacingAndGlyphs">84%</text>
<rect x="92.45" y="209.75" width="14.5" height="103.75" fill="#4682b4"/>
<line x1="99.7" y1="209.75" x2="99.7" y2="313.5" stroke="#ffffff" stroke-width="0.5" opacity="0.08"/>
<text x="99.7" y="208.65" font-size="5.87" text-anchor="middle" stroke="#111111" textLength="12.67" lengthAdjust="spacingAndGlyphs">83%</text>
<rect x="110.55" y="216" width="14.5" height="97.5" fill="#4682b4"/>
<line x1="117.8" y1="216" x2="117.8" y2="313.5" stroke="#ffffff" stroke-width="0.5" opacity="0.08"/>
<text x="117.8" y="214.9" font-size="5.87" text-anchor="middle" stroke="#111111" textLength="12.67" lengthAdjust="spacingAndGlyphs">78%</text>
<rect x="128.65" y="216" width="14.5" height="97.5" fill="#4682b4"/>
<line x1="135.9" y1="216" x2="135.9" y2="313.5" stroke="#ffffff" stroke-width="0.5" opacity="0.08"/>
<text x="135.9" y="214.9" font-size="5.87" text-anchor="middle" stroke="#111111" textLength="12.67" lengthAdjust="spacingAndGlyphs">78%</text>
<rect x="146.75" y="216" width="14.5" height="97.5" fill="#4682b4"/>
<line x1="154" y1="216" x2="154" y2="313.5" stroke="#ffffff" stroke-width="0.5" opacity="0.08"/>
<text x="154" y="214.9" font-size="5.87" text-anchor="middle" stroke="#111111" textLength="12.67" lengthAdjust="spacingAndGlyphs">78%</text>
<rect x="164.85" y="267.25" width="14.5" height="46.25" fill="#f07f22"/>
<line x1="172.1" y1="267.25" x2="172.1" y2="313.5" stroke="#ffffff" stroke-width="0.5" opacity="0.08"/>
<text x="172.1" y="266.15" font-size="5.87" text-anchor="middle" stroke="#111111" textLength="12.67" lengthAdjust="spacingAndGlyphs">37%</text>
<rect x="182.95" y="268.5" width="14.5" height="45" fill="#f07f22"/>
<line x1="190.2" y1="268.5" x2="190.2" y2="313.5" stroke="#ffffff" stroke-width="0.5" opacity="0.08"/>
<text x="190.2" y="267.4" font-size="5.87" text-anchor="middle" stroke="#111111" textLength="12.67" lengthAdjust="spacingAndGlyphs">36%</text>
<rect x="201.05" y="272.25" width="14.5" height="41.25" fill="#f07f22"/>
<line x1="208.3" y1="272.25" x2="208.3" y2="313.5" stroke="#ffffff" stroke-width="0.5" opacity="0.08"/>
<text x="208.3" y="271.15" font-size="5.87" text-anchor="middle" stroke="#111111" textLength="12.67" lengthAdjust="spacingAndGlyphs">33%</text>
<rect x="219.15" y="269.75" width="14.5" height="43.75" fill="#f07f22"/>
<line x1="226.4" y1="269.75" x2="226.4" y2="313.5" stroke="#ffffff" stroke-width="0.5" opacity="0.08"/>
<text x="226.4" y="268.65" font-size="5.87" text-anchor="middle" stroke="#111111" textLength="12.67" lengthAdjust="spacingAndGlyphs">35%</text>
<rect x="237.25" y="269.75" width="14.5" height="43.75" fill="#f07f22"/>
<line x1="244.5" y1="269.75" x2="244.5" y2="313.5" stroke="#ffffff" stroke-width="0.5" opacity="0.08"/>
<text x="244.5" y="268.65" font-size="5.87" text-anchor="middle" stroke="#111111" textLength="12.67" lengthAdjust="spacingAndGlyphs">35%</text>
<rect x="65.3" y="188.5" width="195.2" height="125" fill="none" stroke="#dedede" stroke-width="0.8"/>
<line x1="63.1" y1="313.5" x2="65.3" y2="313.5" stroke="#8a8a8a" stroke-width="0.6"/>
<text x="62.4" y="315.84" font-size="7.52" text-anchor="end" stroke="#111111" textLength="4.64" lengthAdjust="spacingAndGlyphs">0</text>
<line x1="63.1" y1="288.5" x2="65.3" y2="288.5" stroke="#8a8a8a" stroke-width="0.6"/>
<text x="62.4" y="290.84" font-size="7.52" text-anchor="end" stroke="#111111" textLength="9.29" lengthAdjust="spacingAndGlyphs">20</text>
<line x1="63.1" y1="263.5" x2="65.3" y2="263.5" stroke="#8a8a8a" stroke-width="0.6"/>
<text x="62.4" y="265.84" font-size="7.52" text-anchor="end" stroke="#111111" textLength="9.29" lengthAdjust="spacingAndGlyphs">40</text>
<line x1="63.1" y1="238.5" x2="65.3" y2="238.5" stroke="#8a8a8a" stroke-width="0.6"/>
<text x="62.4" y="240.84" font-size="7.52" text-anchor="end" stroke="#111111" textLength="9.29" lengthAdjust="spacingAndGlyphs">60</text>
<line x1="63.1" y1="213.5" x2="65.3" y2="213.5" stroke="#8a8a8a" stroke-width="0.6"/>
<text x="62.4" y="215.84" font-size="7.52" text-anchor="end" stroke="#111111" textLength="9.29" lengthAdjust="spacingAndGlyphs">80</text>
<line x1="63.1" y1="188.5" x2="65.3" y2="188.5" stroke="#8a8a8a" stroke-width="0.6"/>
<text x="62.4" y="190.84" font-size="7.52" text-anchor="end" stroke="#111111" textLength="4.64" lengthAdjust="spacingAndGlyphs">0</text>
<line x1="81.6" y1="313.5" x2="81.6" y2="315.7" stroke="#8a8a8a" stroke-width="0.6"/>
<text x="81.4" y="321.1" font-size="7.42" text-anchor="end" stroke="#111111" textLength="40.33" lengthAdjust="spacingAndGlyphs" transform="rotate(-45 81.4 321.1)">Fulvestrant</text>
<line x1="99.7" y1="313.5" x2="99.7" y2="315.7" stroke="#8a8a8a" stroke-width="0.6"/>
<text x="99.5" y="321.1" font-size="7.42" text-anchor="end" stroke="#111111" textLength="31.15" lengthAdjust="spacingAndGlyphs" transform="rotate(-45 99.5 321.1)">Cisplatin</text>
<line x1="117.8" y1="313.5" x2="117.8" y2="315.7" stroke="#8a8a8a" stroke-width="0.6"/>
<text x="117.6" y="321.1" font-size="7.42" text-anchor="end" stroke="#111111" textLength="32.15" lengthAdjust="spacingAndGlyphs" transform="rotate(-45 117.6 321.1)">EPZ5676</text>
<line x1="135.9" y1="313.5" x2="135.9" y2="315.7" stroke="#8a8a8a" stroke-width="0.6"/>
<text x="135.7" y="321.1" font-size="7.42" text-anchor="end" stroke="#111111" textLength="28.18" lengthAdjust="spacingAndGlyphs" transform="rotate(-45 135.7 321.1)">AZ6102</text>
<line x1="154" y1="313.5" x2="154" y2="315.7" stroke="#8a8a8a" stroke-width="0.6"/>
<text x="153.8" y="321.1" font-size="7.42" text-anchor="end" stroke="#111111" textLength="20.67" lengthAdjust="spacingAndGlyphs" transform="rotate(-45 153.8 321.1)">WIKI4</text>
<line x1="172.1" y1="313.5" x2="172.1" y2="315.7" stroke="#8a8a8a" stroke-width="0.6"/>
<text x="171.9" y="321.1" font-size="7.42" text-anchor="end" stroke="#111111" textLength="46.94" lengthAdjust="spacingAndGlyphs" transform="rotate(-45 171.9 321.1)">GSK2606414</text>
<line x1="190.2" y1="313.5" x2="190.2" y2="315.7" stroke="#8a8a8a" stroke-width="0.6"/>
<text x="190" y="321.1" font-size="7.42" text-anchor="end" stroke="#111111" textLength="60.57" lengthAdjust="spacingAndGlyphs" transform="rotate(-45 190 321.1)">Dihydrorotenone</text>
<line x1="208.3" y1="313.5" x2="208.3" y2="315.7" stroke="#8a8a8a" stroke-width="0.6"/>
<text x="208.1" y="321.1" font-size="7.42" text-anchor="end" stroke="#111111" textLength="37.9" lengthAdjust="spacingAndGlyphs" transform="rotate(-45 208.1 321.1)">Palbociclib</text>
<line x1="226.4" y1="313.5" x2="226.4" y2="315.7" stroke="#8a8a8a" stroke-width="0.6"/>
<text x="226.2" y="321.1" font-size="7.42" text-anchor="end" stroke="#111111" textLength="33.42" lengthAdjust="spacingAndGlyphs" transform="rotate(-45 226.2 321.1)">AGI-5198</text>
<line x1="244.5" y1="313.5" x2="244.5" y2="315.7" stroke="#8a8a8a" stroke-width="0.6"/>
<text x="244.3" y="321.1" font-size="7.42" text-anchor="end" stroke="#111111" textLength="25.82" lengthAdjust="spacingAndGlyphs" transform="rotate(-45 244.3 321.1)">VE-822</text>
<text x="43.3" y="254.25" font-size="8.03" text-anchor="middle" stroke="#111111" textLength="110.08" lengthAdjust="spacingAndGlyphs" transform="rotate(-90 43.3 251.4)">Percentage of Cells Affected</text>
<rect x="267.7" y="239.5" width="73.5" height="23.3" rx="1.5" fill="#fff" stroke="#e0e0e0" stroke-width="0.7"/>
<rect x="270.6" y="243" width="14.3" height="5.2" fill="#4682b4"/>
<rect x="270.6" y="253.4" width="14.3" height="5.2" fill="#f07f22"/>
<text x="290.1" y="247.87" font-size="7.31" stroke="#111111" textLength="35.33" lengthAdjust="spacingAndGlyphs">Top Drugs</text>
<text x="290.1" y="258.27" font-size="7.31" stroke="#111111" textLength="49.39" lengthAdjust="spacingAndGlyphs">Bottom Drugs</text>
<text x="44.73" y="186.7" font-size="14.3" font-weight="bold" fill="#000">c</text>
<path d="M539 250.6 L538.97 251.58 L538.88 252.55 L538.74 253.52 L538.53 254.49 L538.27 255.46 L537.95 256.43 L537.57 257.38 L537.13 258.34 L536.63 259.29 L536.08 260.23 L535.48 261.16 L534.81 262.08 L534.09 263 L533.32 263.9 L532.49 264.8 L531.61 265.68 L530.68 266.55 L529.69 267.41 L528.66 268.25 L527.57 269.08 L526.43 269.9 L525.24 270.7 L524.01 271.48 L522.73 272.25 L521.41 273 L520.04 273.73 L518.62 274.44 L517.17 275.14 L515.67 275.81 L514.13 276.46 L512.56 277.1 L510.94 277.71 L509.29 278.3 L507.61 278.86 L505.89 279.41 L504.14 279.93 L502.36 280.43 L500.55 280.9 L498.71 281.35 L496.85 281.78 L496.85 298.07 L498.71 297.62 L500.55 297.14 L502.36 296.64 L504.14 296.11 L505.89 295.55 L507.61 294.97 L509.29 294.37 L510.94 293.74 L512.56 293.09 L514.13 292.42 L515.67 291.72 L517.17 291 L518.62 290.27 L520.04 289.51 L521.41 288.73 L522.73 287.93 L524.01 287.12 L525.24 286.28 L526.43 285.43 L527.57 284.57 L528.66 283.68 L529.69 282.78 L530.68 281.87 L531.61 280.94 L532.49 280.01 L533.32 279.05 L534.09 278.09 L534.81 277.12 L535.48 276.13 L536.08 275.14 L536.63 274.14 L537.13 273.13 L537.57 272.12 L537.95 271.1 L538.27 270.07 L538.53 269.04 L538.74 268.01 L538.88 266.97 L538.97 265.94 L539 264.9Z" fill="#2c4760" stroke="none" stroke-width="1"/>
<path d="M496.85 281.78 L494.17 282.34 L491.45 282.84 L488.68 283.3 L485.88 283.7 L483.04 284.05 L480.18 284.34 L477.29 284.59 L474.39 284.77 L471.47 284.9 L468.55 284.98 L465.62 285 L462.69 284.96 L459.76 284.87 L456.85 284.73 L453.95 284.53 L451.07 284.27 L448.22 283.96 L445.39 283.6 L442.6 283.18 L439.84 282.72 L437.13 282.19 L434.46 281.62 L431.84 281 L429.28 280.33 L426.78 279.61 L424.34 278.85 L421.97 278.04 L419.66 277.18 L417.44 276.28 L415.29 275.35 L413.22 274.37 L411.24 273.35 L409.35 272.3 L407.55 271.21 L405.84 270.08 L404.23 268.93 L402.72 267.75 L401.31 266.54 L400 265.3 L398.8 264.04 L398.8 279.2 L400 280.54 L401.31 281.86 L402.72 283.14 L404.23 284.4 L405.84 285.63 L407.55 286.82 L409.35 287.98 L411.24 289.1 L413.22 290.19 L415.29 291.23 L417.44 292.23 L419.66 293.18 L421.97 294.09 L424.34 294.95 L426.78 295.77 L429.28 296.53 L431.84 297.25 L434.46 297.91 L437.13 298.52 L439.84 299.07 L442.6 299.57 L445.39 300.01 L448.22 300.4 L451.07 300.73 L453.95 301 L456.85 301.21 L459.76 301.37 L462.69 301.46 L465.62 301.5 L468.55 301.48 L471.47 301.4 L474.39 301.26 L477.29 301.06 L480.18 300.8 L483.04 300.49 L485.88 300.12 L488.68 299.69 L491.45 299.2 L494.17 298.66 L496.85 298.07Z" fill="url(#og)" stroke="none" stroke-width="1"/>
<path d="M398.8 264.04 L398.52 263.72 L398.24 263.4 L397.97 263.08 L397.71 262.76 L397.46 262.44 L397.21 262.11 L396.97 261.79 L396.73 261.46 L396.5 261.13 L396.28 260.8 L396.07 260.47 L395.86 260.14 L395.66 259.81 L395.47 259.47 L395.29 259.14 L395.11 258.81 L394.94 258.47 L394.77 258.13 L394.62 257.8 L394.47 257.46 L394.32 257.12 L394.19 256.78 L394.06 256.44 L393.94 256.1 L393.83 255.76 L393.72 255.42 L393.62 255.08 L393.53 254.73 L393.44 254.39 L393.37 254.05 L393.3 253.7 L393.24 253.36 L393.18 253.01 L393.13 252.67 L393.09 252.33 L393.06 251.98 L393.03 251.64 L393.01 251.29 L393 250.95 L393 250.6 L393 264.9 L393 265.27 L393.01 265.63 L393.03 266 L393.06 266.37 L393.09 266.74 L393.13 267.1 L393.18 267.47 L393.24 267.84 L393.3 268.2 L393.37 268.57 L393.44 268.93 L393.53 269.3 L393.62 269.66 L393.72 270.03 L393.83 270.39 L393.94 270.75 L394.06 271.11 L394.19 271.48 L394.32 271.84 L394.47 272.2 L394.62 272.56 L394.77 272.92 L394.94 273.27 L395.11 273.63 L395.29 273.99 L395.47 274.34 L395.66 274.7 L395.86 275.05 L396.07 275.4 L396.28 275.75 L396.5 276.1 L396.73 276.45 L396.97 276.8 L397.21 277.15 L397.46 277.49 L397.71 277.84 L397.97 278.18 L398.24 278.52 L398.52 278.86 L398.8 279.2Z" fill="#8a8a8a" stroke="none" stroke-width="1"/>
<path d="M466.3 244.7 L466 216.2 L470.93 216.28 L475.84 216.51 L480.71 216.91 L485.51 217.45 L490.22 218.15 L494.82 218.99 L499.28 219.98 L503.6 221.11 L507.74 222.38 L511.69 223.77 L515.44 225.29 L518.95 226.92 L522.23 228.66 L525.24 230.5 L527.99 232.43 L530.46 234.45 L532.62 236.54 L534.49 238.69 L536.04 240.9 L537.27 243.15 L538.17 245.44 L538.75 247.75 L538.99 250.07 L538.9 252.4 L538.48 254.72 L537.72 257.02 L536.63 259.29 L535.23 261.52 L533.5 263.69 L531.47 265.81 L529.14 267.86 L526.52 269.84 L523.62 271.72 L520.46 273.51 L517.05 275.19 L513.41 276.76 L509.55 278.21 L505.49 279.53 L501.25 280.72 L496.85 281.78Z" fill="#649fd8" stroke="none" stroke-width="1"/>
<path d="M466.3 244.7 L496.85 281.78 L494.17 282.34 L491.45 282.84 L488.68 283.3 L485.88 283.7 L483.04 284.05 L480.18 284.34 L477.29 284.59 L474.39 284.77 L471.47 284.9 L468.55 284.98 L465.62 285 L462.69 284.96 L459.76 284.87 L456.85 284.73 L453.95 284.53 L451.07 284.27 L448.22 283.96 L445.39 283.6 L442.6 283.18 L439.84 282.72 L437.13 282.19 L434.46 281.62 L431.84 281 L429.28 280.33 L426.78 279.61 L424.34 278.85 L421.97 278.04 L419.66 277.18 L417.44 276.28 L415.29 275.35 L413.22 274.37 L411.24 273.35 L409.35 272.3 L407.55 271.21 L405.84 270.08 L404.23 268.93 L402.72 267.75 L401.31 266.54 L400 265.3 L398.8 264.04Z" fill="#e27b36" stroke="none" stroke-width="1"/>
<path d="M466.3 244.7 L398.8 264.04 L397.48 262.46 L396.32 260.86 L395.33 259.23 L394.52 257.58 L393.87 255.91 L393.41 254.23 L393.12 252.54 L393 250.84 L393.07 249.14 L393.31 247.45 L393.72 245.77 L394.32 244.1 L395.08 242.44 L396.02 240.8 L397.13 239.19 L398.41 237.6 L399.85 236.05 L401.46 234.53 L403.21 233.05 L405.13 231.61 L407.19 230.22 L409.39 228.88 L411.73 227.59 L414.2 226.36 L416.8 225.19 L419.52 224.08 L422.35 223.03 L425.28 222.05 L428.32 221.14 L431.45 220.3 L434.66 219.53 L437.95 218.84 L441.3 218.23 L444.72 217.69 L448.19 217.24 L451.7 216.87 L455.24 216.58 L458.81 216.37 L462.4 216.24 L466 216.2Z" fill="#a6a6a6" stroke="none" stroke-width="1"/>
<line x1="466.3" y1="244.7" x2="466" y2="216.2" stroke="#ffffff" stroke-width="0.8"/>
<line x1="466.3" y1="244.7" x2="496.85" y2="281.78" stroke="#ffffff" stroke-width="0.8"/>
<line x1="466.3" y1="244.7" x2="398.8" y2="264.04" stroke="#ffffff" stroke-width="0.8"/>
<line x1="496.85" y1="281.78" x2="496.85" y2="298.07" stroke="#ffffff" stroke-width="0.5" opacity="0.6"/>
<line x1="398.8" y1="264.04" x2="398.8" y2="279.2" stroke="#ffffff" stroke-width="0.5" opacity="0.6"/>
<path d="M539 250.6 L538.77 253.3 L538.1 255.98 L536.98 258.63 L535.43 261.23 L533.44 263.76 L531.04 266.22 L528.24 268.57 L525.06 270.82 L521.51 272.94 L517.62 274.92 L513.41 276.76 L508.91 278.43 L504.14 279.93 L499.14 281.25 L493.94 282.38 L488.56 283.32 L483.04 284.05 L477.42 284.58 L471.73 284.89 L466 285 L460.27 284.89 L454.58 284.58 L448.96 284.05 L443.44 283.32 L438.06 282.38 L432.86 281.25 L427.86 279.93 L423.09 278.43 L418.59 276.76 L414.38 274.92 L410.49 272.94 L406.94 270.82 L403.76 268.57 L400.96 266.22 L398.56 263.76 L396.57 261.23 L395.02 258.63 L393.9 255.98 L393.23 253.3 L393 250.6" fill="none" stroke="#ffffff" stroke-width="0.5" opacity="0.5"/>
<text x="436.4" y="239.96" font-size="8.3" text-anchor="middle" fill="#404040" stroke="#404040">33.8%</text>
<text x="501" y="245.29" font-size="8.4" text-anchor="middle" fill="#404040" stroke="#404040">44.1%</text>
<text x="454.3" y="264.79" font-size="8.4" text-anchor="middle" fill="#404040" stroke="#404040">22.1%</text>
<rect x="550.1" y="237.55" width="3.5" height="3.5" fill="#5b9bd5"/>
<text x="556" y="241.98" font-size="8.37" fill="#404040" stroke="#404040">Non-Database Literature Evidence</text>
<rect x="550.1" y="258.45" width="3.5" height="3.5" fill="#ed7d31"/>
<text x="556" y="262.88" font-size="8.37" fill="#404040" stroke="#404040">Database Evidence</text>
<rect x="550.1" y="279.55" width="3.5" height="3.5" fill="#a5a5a5"/>
<text x="556" y="283.98" font-size="8.37" fill="#404040" stroke="#404040">No Literature Evidence</text>
<text x="361.16" y="194.05" font-size="16" font-weight="bold" fill="#000">d</text>
<rect x="15.7" y="378.2" width="128.7" height="113.1" fill="none" stroke="#d9d9d9" stroke-width="0.8"/>
<path d="M113.21 458.26h0M56.17 409.2h0M27.33 415.87h0M109.06 403.01h0M116.94 397.57h0M82.81 412.71h0M28.57 429.14h0M124.42 466.63h0M98.94 389.89h0M116.45 397.66h0" stroke="#ef7b26" stroke-width="1.45" stroke-linecap="round" fill="none"/>
<path d="M127.24 435.42h0M110.23 420.81h0" stroke="#3d8bcb" stroke-width="1.45" stroke-linecap="round" fill="none"/>
<path d="M117.22 410.05h0M30.21 422.96h0M120.68 440.47h0" stroke="#3aa845" stroke-width="1.45" stroke-linecap="round" fill="none"/>
<path d="M94.71 403.71h0M77.46 420.48h0M102.86 435.27h0M96.81 399.93h0M93.58 384.03h0M64.23 409.46h0M80.05 408.62h0M72.11 409.93h0" stroke="#ef7b26" stroke-width="1.45" stroke-linecap="round" fill="none"/>
<path d="M93.14 403.3h0" stroke="#3d8bcb" stroke-width="1.45" stroke-linecap="round" fill="none"/>
<path d="M32.28 442.35h0M60.72 399.51h0M61.81 397.89h0M90.52 426.37h0M120.02 454.74h0M38.26 393.7h0M80.42 458.95h0M124 455.26h0" stroke="#ef7b26" stroke-width="1.45" stroke-linecap="round" fill="none"/>
<path d="M42.83 447.77h0M92.88 392.37h0M116.81 433.58h0M35.9 391.91h0" stroke="#3aa845" stroke-width="1.45" stroke-linecap="round" fill="none"/>
<path d="M123.11 408.65h0M127.57 453.84h0M133.35 436.25h0M116.39 444.73h0" stroke="#3d8bcb" stroke-width="1.45" stroke-linecap="round" fill="none"/>
<path d="M108.28 402.74h0M33.02 413.44h0M131.5 441.08h0M62.16 408.95h0" stroke="#ef7b26" stroke-width="1.45" stroke-linecap="round" fill="none"/>
<path d="M75.42 398.52h0M80.7 385.12h0M85.9 422.07h0M38.26 397.22h0" stroke="#3aa845" stroke-width="1.45" stroke-linecap="round" fill="none"/>
<path d="M47.64 401.74h0M97.25 428.51h0M75.18 450.03h0M84.14 396.41h0M91.12 461.89h0M98.14 454.82h0M79.46 452.53h0M45.45 443.35h0M50.4 444.87h0" stroke="#ef7b26" stroke-width="1.45" stroke-linecap="round" fill="none"/>
<path d="M120.96 483.48h0M97.54 395.09h0M129.52 464.92h0" stroke="#3d8bcb" stroke-width="1.45" stroke-linecap="round" fill="none"/>
<path d="M33.23 435.6h0M53.75 401.33h0M91.46 403.36h0" stroke="#3aa845" stroke-width="1.45" stroke-linecap="round" fill="none"/>
<path d="M68.57 455.4h0M108.9 468.86h0M46.66 401.3h0M114.48 469.68h0M32.01 410.19h0M30 433.04h0M33.85 404.18h0M58.52 424.24h0M76.32 440.85h0" stroke="#ef7b26" stroke-width="1.45" stroke-linecap="round" fill="none"/>
<path d="M121.01 415.4h0M100.01 410.18h0" stroke="#3d8bcb" stroke-width="1.45" stroke-linecap="round" fill="none"/>
<path d="M98.98 437.62h0M49.21 401.83h0" stroke="#3aa845" stroke-width="1.45" stroke-linecap="round" fill="none"/>
<path d="M132.1 461.79h0M105.82 477.33h0M106.59 406.49h0M57.16 422.36h0M72.75 387.72h0M51.09 420.27h0M34.56 425.39h0M75.14 397.39h0" stroke="#ef7b26" stroke-width="1.45" stroke-linecap="round" fill="none"/>
<path d="M121.05 473.98h0" stroke="#3d8bcb" stroke-width="1.45" stroke-linecap="round" fill="none"/>
<path d="M90.98 427.24h0M107.64 450.85h0M126.14 461.05h0M96.89 431.7h0M79.64 423.19h0M96.52 404.05h0M63.02 388.47h0M69.8 419.01h0M108.57 455.69h0M93.65 456.51h0M37.1 442.29h0" stroke="#ef7b26" stroke-width="1.45" stroke-linecap="round" fill="none"/>
<path d="M110.65 394.85h0M91.64 450.74h0M58.85 427.69h0M81.99 421.9h0M46.35 413.68h0M78.49 384.13h0M47.89 395.43h0" stroke="#ef7b26" stroke-width="1.45" stroke-linecap="round" fill="none"/>
<path d="M101.85 419.89h0M118.81 465.22h0" stroke="#3d8bcb" stroke-width="1.45" stroke-linecap="round" fill="none"/>
<path d="M98.92 407.33h0M86.84 385.96h0M104.7 401.6h0" stroke="#3aa845" stroke-width="1.45" stroke-linecap="round" fill="none"/>
<path d="M133.86 431.11h0" stroke="#3aa845" stroke-width="1.45" stroke-linecap="round" fill="none"/>
<path d="M77.38 389.8h0M42.59 394.71h0M51.74 384.29h0M89.08 415.06h0M37.63 446.65h0M27.91 418.91h0" stroke="#ef7b26" stroke-width="1.45" stroke-linecap="round" fill="none"/>
<path d="M109.81 461.38h0M111.51 440.12h0M120.97 440.49h0M127.49 458.18h0M106.85 422.93h0" stroke="#3d8bcb" stroke-width="1.45" stroke-linecap="round" fill="none"/>
<path d="M52.41 394.98h0M37.84 404.36h0M41.45 445.92h0M131.27 409.53h0M70.76 438.34h0M47.09 385.58h0M39.19 437.11h0M44.5 408.74h0" stroke="#ef7b26" stroke-width="1.45" stroke-linecap="round" fill="none"/>
<path d="M42.53 420.58h0M116.14 461.99h0" stroke="#3aa845" stroke-width="1.45" stroke-linecap="round" fill="none"/>
<path d="M132.71 450.58h0M107.81 411.4h0" stroke="#3d8bcb" stroke-width="1.45" stroke-linecap="round" fill="none"/>
<path d="M112.86 448.24h0" stroke="#3d8bcb" stroke-width="1.45" stroke-linecap="round" fill="none"/>
<path d="M41.42 442.95h0M29.89 415.89h0M34.79 434.55h0M45.21 416.62h0M83.31 406.08h0M77.79 398.57h0M101.94 403.29h0M86.56 463.11h0" stroke="#ef7b26" stroke-width="1.45" stroke-linecap="round" fill="none"/>
<path d="M110.2 388.3h0M101.54 424.56h0M65.91 427.24h0" stroke="#3aa845" stroke-width="1.45" stroke-linecap="round" fill="none"/>
<path d="M73.28 400.25h0M135.54 442.05h0M100.41 403.15h0M58.06 425.5h0" stroke="#3aa845" stroke-width="1.45" stroke-linecap="round" fill="none"/>
<path d="M100.91 405.33h0M108.75 442.05h0M71.07 416.78h0M125.18 466.47h0M26.93 419.21h0M29.64 436.67h0M113.46 386.65h0M97.17 410.64h0" stroke="#ef7b26" stroke-width="1.45" stroke-linecap="round" fill="none"/>
<path d="M98.72 404.57h0M83.69 422.2h0M77.77 421.55h0M60.55 407.1h0M34.54 404.45h0M53.89 403.53h0M36.83 405.57h0M44.26 447.5h0" stroke="#ef7b26" stroke-width="1.45" stroke-linecap="round" fill="none"/>
<path d="M101.78 451.76h0M130.96 432.5h0" stroke="#3d8bcb" stroke-width="1.45" stroke-linecap="round" fill="none"/>
<path d="M98.48 397.06h0M49.9 418.32h0" stroke="#3aa845" stroke-width="1.45" stroke-linecap="round" fill="none"/>
<path d="M89.78 393.55h0M51.04 450.95h0M89.89 392.67h0M71.41 444.91h0M89.41 448.96h0M59.5 414.95h0M90.03 392.05h0M116.18 407.74h0" stroke="#ef7b26" stroke-width="1.45" stroke-linecap="round" fill="none"/>
<path d="M113.9 443.46h0M91.13 437.38h0" stroke="#3d8bcb" stroke-width="1.45" stroke-linecap="round" fill="none"/>
<path d="M91.94 414.52h0M72.82 393.17h0" stroke="#3aa845" stroke-width="1.45" stroke-linecap="round" fill="none"/>
<path d="M123.46 464.43h0" stroke="#3d8bcb" stroke-width="1.45" stroke-linecap="round" fill="none"/>
<path d="M60.93 390.25h0M107.47 439.69h0M81.93 415.22h0M116.63 482.97h0M48.77 390.41h0M33.41 412.66h0M85.67 418.81h0M45.95 423.41h0M113.8 409.52h0" stroke="#ef7b26" stroke-width="1.45" stroke-linecap="round" fill="none"/>
<path d="M65.73 431.46h0M123.6 468.47h0" stroke="#3aa845" stroke-width="1.45" stroke-linecap="round" fill="none"/>
<path d="M121.86 467.56h0M101.4 445.91h0M47.18 442.01h0M86.61 451.67h0M123.42 411.58h0M33.79 404.61h0M90.86 400.79h0M129.86 465.85h0M91.58 407.89h0M88.83 394.32h0" stroke="#ef7b26" stroke-width="1.45" stroke-linecap="round" fill="none"/>
<path d="M94.36 383.79h0" stroke="#3aa845" stroke-width="1.45" stroke-linecap="round" fill="none"/>
<path d="M100.4 462.61h0" stroke="#3d8bcb" stroke-width="1.45" stroke-linecap="round" fill="none"/>
<path d="M70.21 445.44h0M116.93 437.32h0M91.16 419.89h0M83.15 422.97h0M95.57 390.98h0M118.27 413.09h0M120.02 394.63h0M95.56 468.54h0M86.6 423.99h0" stroke="#ef7b26" stroke-width="1.45" stroke-linecap="round" fill="none"/>
<path d="M97.3 451.03h0M118.46 391.39h0M108.54 416.43h0" stroke="#3d8bcb" stroke-width="1.45" stroke-linecap="round" fill="none"/>
<path d="M50.02 448.83h0M72.17 394.22h0M35.51 407.91h0M70.2 425.65h0M41.63 448.16h0M76.81 391.97h0M49.01 399.1h0M97.98 463.9h0M50.72 418.63h0M54.96 410.41h0M75.61 395.7h0M21.9 420.8h0" stroke="#ef7b26" stroke-width="1.45" stroke-linecap="round" fill="none"/>
<path d="M125.29 442.06h0M92.63 426.18h0" stroke="#3aa845" stroke-width="1.45" stroke-linecap="round" fill="none"/>
<path d="M47.83 421.48h0M94.88 388.82h0M119.5 465.41h0M64.17 399.77h0M58.7 409.85h0M133.14 427.37h0M134.61 437.22h0M133.46 455.59h0" stroke="#ef7b26" stroke-width="1.45" stroke-linecap="round" fill="none"/>
<path d="M120.62 430.79h0M117.4 438.17h0" stroke="#3d8bcb" stroke-width="1.45" stroke-linecap="round" fill="none"/>
<path d="M60.9 400.87h0M42.44 391.28h0M85.36 407.29h0M112.48 388.58h0M63.08 455.61h0M105.67 401.91h0M55.96 407.94h0M48.52 384.89h0M113.46 431.94h0" stroke="#ef7b26" stroke-width="1.45" stroke-linecap="round" fill="none"/>
<path d="M126.55 412.48h0M111.32 385.38h0" stroke="#3d8bcb" stroke-width="1.45" stroke-linecap="round" fill="none"/>
<path d="M119.79 393.58h0" stroke="#3aa845" stroke-width="1.45" stroke-linecap="round" fill="none"/>
<path d="M51.74 439.96h0M61.84 403.58h0M53.72 423.8h0M81.21 396.48h0M134.97 446.83h0M104.96 399.28h0M61.17 414.42h0M88.09 446.91h0M129.56 405.53h0M62.57 386.55h0" stroke="#ef7b26" stroke-width="1.45" stroke-linecap="round" fill="none"/>
<path d="M108.85 401.86h0" stroke="#3d8bcb" stroke-width="1.45" stroke-linecap="round" fill="none"/>
<path d="M127.03 451.56h0" stroke="#3aa845" stroke-width="1.45" stroke-linecap="round" fill="none"/>
<path d="M128.91 443.02h0M121.43 429.36h0" stroke="#3d8bcb" stroke-width="1.45" stroke-linecap="round" fill="none"/>
<path d="M46.95 394.01h0M79.27 434.27h0M95.24 410.46h0M30.81 432.55h0M120.51 483.47h0M33.68 419.92h0M125.47 449.22h0M98.16 437.04h0M89.07 438.59h0" stroke="#ef7b26" stroke-width="1.45" stroke-linecap="round" fill="none"/>
<path d="M56.1 425.78h0" stroke="#3aa845" stroke-width="1.45" stroke-linecap="round" fill="none"/>
<path d="M42.83 394.61h0M22.86 421.89h0M115.81 466h0M135.46 432.98h0M34.99 404.38h0M73.07 399.45h0M54.34 413.28h0" stroke="#ef7b26" stroke-width="1.45" stroke-linecap="round" fill="none"/>
<path d="M74.38 410.36h0M128.45 407.87h0" stroke="#3aa845" stroke-width="1.45" stroke-linecap="round" fill="none"/>
<path d="M117.85 441.36h0M119.36 428.39h0M118.29 432.93h0" stroke="#3d8bcb" stroke-width="1.45" stroke-linecap="round" fill="none"/>
<path d="M124.53 427.66h0" stroke="#3d8bcb" stroke-width="1.45" stroke-linecap="round" fill="none"/>
<path d="M135.42 446.75h0M69.63 416.47h0" stroke="#3aa845" stroke-width="1.45" stroke-linecap="round" fill="none"/>
<path d="M36.46 409.6h0M79.5 409.89h0M123.71 482.94h0M70.96 420.71h0M40.07 427.61h0M53.02 435.74h0M102.82 426.16h0M52.31 433.44h0M55.93 452.85h0" stroke="#ef7b26" stroke-width="1.45" stroke-linecap="round" fill="none"/>
<path d="M111.16 391.62h0M124.93 429.15h0" stroke="#3d8bcb" stroke-width="1.45" stroke-linecap="round" fill="none"/>
<path d="M85.49 398.14h0M25.21 422.6h0M64.61 439.31h0M81.32 443.64h0M28.65 424.98h0M58.88 444.63h0M83.98 413.59h0M62.85 424.69h0M79.76 420.47h0M106.27 435.33h0" stroke="#ef7b26" stroke-width="1.45" stroke-linecap="round" fill="none"/>
<path d="M113.87 435.9h0M97.41 401.83h0M95.32 453.6h0M111.65 446.7h0M107.79 402.51h0M123.47 440.17h0" stroke="#3d8bcb" stroke-width="1.45" stroke-linecap="round" fill="none"/>
<path d="M89.54 407.46h0M127.7 404.38h0M36.54 401.76h0M60.28 387.56h0M56.95 418.33h0" stroke="#ef7b26" stroke-width="1.45" stroke-linecap="round" fill="none"/>
<path d="M64.78 449.55h0" stroke="#3aa845" stroke-width="1.45" stroke-linecap="round" fill="none"/>
<path d="M126.64 406.03h0M68.41 431.51h0M62.85 454.21h0M26.87 416.69h0M41.83 409.63h0M93.3 467.36h0M33.34 404.38h0M48.19 433.39h0M88.36 412.95h0M111.63 442.06h0" stroke="#ef7b26" stroke-width="1.45" stroke-linecap="round" fill="none"/>
<path d="M137.23 439.24h0M113.64 435.42h0" stroke="#3d8bcb" stroke-width="1.45" stroke-linecap="round" fill="none"/>
<path d="M73.54 413.24h0M91.11 426.56h0M51.71 453.36h0M78.78 405.74h0M115.04 432.62h0M31.02 428.05h0M116.52 401.98h0M114.95 436.68h0M88.12 461.38h0" stroke="#ef7b26" stroke-width="1.45" stroke-linecap="round" fill="none"/>
<path d="M133.52 424.27h0" stroke="#3d8bcb" stroke-width="1.45" stroke-linecap="round" fill="none"/>
<path d="M96.56 385.01h0M64.17 395.65h0" stroke="#3aa845" stroke-width="1.45" stroke-linecap="round" fill="none"/>
<path d="M115.84 410.65h0M47.26 417.27h0M70.53 426.91h0M45.97 441.85h0M81.26 393.61h0M33.84 425.39h0M66.12 451.11h0M126.46 459.19h0M129.67 439.71h0M67.97 435.48h0M95.39 455.29h0M83.53 436.76h0" stroke="#ef7b26" stroke-width="1.45" stroke-linecap="round" fill="none"/>
<path d="M100.8 461.49h0" stroke="#3d8bcb" stroke-width="1.45" stroke-linecap="round" fill="none"/>
<path d="M81.45 434.71h0M92 461.48h0M90.4 448.84h0" stroke="#3aa845" stroke-width="1.45" stroke-linecap="round" fill="none"/>
<path d="M121.34 474h0M124 399.31h0M96 439.06h0M47.96 407.01h0M63.47 410.72h0M34.09 400.44h0M57.2 451.65h0M121.07 393.36h0" stroke="#ef7b26" stroke-width="1.45" stroke-linecap="round" fill="none"/>
<path d="M127.3 443.07h0M60.42 386.63h0M49.62 423.41h0M107.4 473.37h0M95.75 422.82h0M83.28 402.69h0M32.77 412.86h0M117.2 450.67h0M91.86 429.14h0" stroke="#ef7b26" stroke-width="1.45" stroke-linecap="round" fill="none"/>
<path d="M105.14 426.23h0M111.13 424.7h0M113.64 421.42h0" stroke="#3d8bcb" stroke-width="1.45" stroke-linecap="round" fill="none"/>
<path d="M114.69 453.33h0M95.71 417h0M71.29 414.22h0M26.63 430.65h0M63.75 411.72h0M49.38 416.7h0M114.24 453.57h0M88.12 417.11h0M106.29 460.87h0" stroke="#ef7b26" stroke-width="1.45" stroke-linecap="round" fill="none"/>
<path d="M121.28 472.36h0M126.03 473.52h0M127.37 458.77h0" stroke="#3d8bcb" stroke-width="1.45" stroke-linecap="round" fill="none"/>
<path d="M125.24 424.43h0M132.26 420.4h0M136.08 445.04h0M94.72 407.39h0" stroke="#3d8bcb" stroke-width="1.45" stroke-linecap="round" fill="none"/>
<path d="M70.07 392.45h0M79.62 385.81h0M121.35 394.84h0M104.7 467.53h0M69.3 393.52h0M59.31 404.39h0M131.63 431.82h0" stroke="#ef7b26" stroke-width="1.45" stroke-linecap="round" fill="none"/>
<path d="M103.14 410.28h0" stroke="#3aa845" stroke-width="1.45" stroke-linecap="round" fill="none"/>
<path d="M81.72 409.3h0M79.7 404.1h0M26.71 428.35h0M106.28 392.84h0M46.04 407.4h0M24.31 413.87h0" stroke="#ef7b26" stroke-width="1.45" stroke-linecap="round" fill="none"/>
<path d="M50.97 443.78h0M110.08 434.5h0M101.37 386.26h0" stroke="#3aa845" stroke-width="1.45" stroke-linecap="round" fill="none"/>
<path d="M130.76 441.77h0M121.28 430.74h0M99.27 408.14h0" stroke="#3d8bcb" stroke-width="1.45" stroke-linecap="round" fill="none"/>
<path d="M97.31 412.53h0" stroke="#3aa845" stroke-width="1.45" stroke-linecap="round" fill="none"/>
<path d="M46.58 439.1h0M102.62 398.22h0M35.55 410.17h0M85.97 414.37h0M90.84 419.22h0M95.05 428.18h0M70.51 427.57h0M46.64 390.54h0M66.32 407.44h0M118.28 475.81h0M127.23 439.35h0" stroke="#ef7b26" stroke-width="1.45" stroke-linecap="round" fill="none"/>
<path d="M118.76 476.25h0M115.34 398.5h0M116.45 413.25h0" stroke="#3d8bcb" stroke-width="1.45" stroke-linecap="round" fill="none"/>
<path d="M99.32 443.53h0M104.57 391.51h0M51.62 408.65h0" stroke="#3aa845" stroke-width="1.45" stroke-linecap="round" fill="none"/>
<path d="M45.74 441.54h0M67.04 414.04h0M108.6 390.94h0M21.57 415.76h0M117.59 442.28h0M89.36 421.17h0" stroke="#ef7b26" stroke-width="1.45" stroke-linecap="round" fill="none"/>
<path d="M110.28 455.2h0M130.98 414.15h0" stroke="#3d8bcb" stroke-width="1.45" stroke-linecap="round" fill="none"/>
<path d="M87.45 459.84h0M35.66 419.22h0" stroke="#3aa845" stroke-width="1.45" stroke-linecap="round" fill="none"/>
<path d="M50.29 384.53h0M134.21 442.47h0M25.76 411.41h0M25.52 426.29h0M45.24 396.77h0M74.39 412.67h0M105.72 422.74h0M42.2 413.71h0" stroke="#ef7b26" stroke-width="1.45" stroke-linecap="round" fill="none"/>
<path d="M108.81 479.47h0M105.28 478.74h0" stroke="#3d8bcb" stroke-width="1.45" stroke-linecap="round" fill="none"/>
<path d="M83.47 407.7h0M126.76 419.97h0M31.83 419.96h0M98.56 466.38h0M50.07 388.46h0M71.67 397.19h0M51.68 406.61h0M51.61 389.5h0M100.32 454.5h0M65.97 393.68h0" stroke="#ef7b26" stroke-width="1.45" stroke-linecap="round" fill="none"/>
<path d="M63.86 431.45h0M32.2 431.57h0M85.11 415.39h0M90.4 429.07h0M130.85 458.09h0M125.11 440.6h0M91.54 436.16h0M37.6 395.19h0M74.17 393.86h0M39.03 420.19h0M100.18 390.61h0" stroke="#ef7b26" stroke-width="1.45" stroke-linecap="round" fill="none"/>
<path d="M129.59 424.58h0" stroke="#3d8bcb" stroke-width="1.45" stroke-linecap="round" fill="none"/>
<path d="M90.53 471.92h0M37.68 442.81h0M87.25 419.62h0M95.98 399.1h0M61.42 392.61h0M94.11 401.3h0M37.33 404.96h0M55.11 408.82h0M38.5 426.93h0" stroke="#ef7b26" stroke-width="1.45" stroke-linecap="round" fill="none"/>
<path d="M115.66 413.74h0M103.84 408.71h0" stroke="#3d8bcb" stroke-width="1.45" stroke-linecap="round" fill="none"/>
<path d="M68.19 408.85h0" stroke="#3aa845" stroke-width="1.45" stroke-linecap="round" fill="none"/>
<path d="M114.97 457.2h0M117.64 459.13h0" stroke="#3d8bcb" stroke-width="1.45" stroke-linecap="round" fill="none"/>
<path d="M80.93 395.84h0" stroke="#3aa845" stroke-width="1.45" stroke-linecap="round" fill="none"/>
<path d="M55.08 405.46h0M66.88 440.32h0M113.67 428.32h0M122.49 456.01h0M58.62 457.33h0M26.03 412.44h0M29.38 400.7h0M81.86 409.48h0M102.16 390.16h0" stroke="#ef7b26" stroke-width="1.45" stroke-linecap="round" fill="none"/>
<path d="M86.14 461.65h0M94.22 422.06h0M105.6 421.44h0M118.94 397.68h0M104.81 413.49h0M56.87 445.23h0M33.67 406.65h0" stroke="#ef7b26" stroke-width="1.45" stroke-linecap="round" fill="none"/>
<path d="M121.3 421.12h0M117.25 410.9h0M98.43 475.27h0M113.04 420.72h0M110.61 410.05h0" stroke="#3d8bcb" stroke-width="1.45" stroke-linecap="round" fill="none"/>
<path d="M50.33 401.02h0M39.47 409.26h0M97.53 411.21h0M87.37 398.85h0M75.78 390.92h0M97.38 385.17h0M111.12 406.45h0M116.76 399.26h0" stroke="#ef7b26" stroke-width="1.45" stroke-linecap="round" fill="none"/>
<path d="M116.41 429.9h0M102.8 462.31h0M128.6 461.8h0" stroke="#3d8bcb" stroke-width="1.45" stroke-linecap="round" fill="none"/>
<path d="M35.42 434.77h0" stroke="#3aa845" stroke-width="1.45" stroke-linecap="round" fill="none"/>
<path d="M97.68 451.65h0" stroke="#3aa845" stroke-width="1.45" stroke-linecap="round" fill="none"/>
<path d="M116.79 414.84h0" stroke="#3d8bcb" stroke-width="1.45" stroke-linecap="round" fill="none"/>
<path d="M86.37 458.55h0M86.03 423.71h0M44.12 427.79h0M125.3 465.5h0M128.45 405.44h0M54.37 428.38h0M135.28 428.51h0M80.1 384.31h0M86.51 396.01h0M102.18 397.67h0" stroke="#ef7b26" stroke-width="1.45" stroke-linecap="round" fill="none"/>
<path d="M101.4 436.9h0M99.42 413.52h0M58.49 424.19h0M59.86 428.77h0M88.1 418.84h0M124.49 469.22h0M103.12 422.57h0M114.78 471.74h0M40.62 432.58h0" stroke="#ef7b26" stroke-width="1.45" stroke-linecap="round" fill="none"/>
<path d="M103.45 423.84h0" stroke="#3aa845" stroke-width="1.45" stroke-linecap="round" fill="none"/>
<path d="M117.62 430.08h0M101.56 404.23h0" stroke="#3d8bcb" stroke-width="1.45" stroke-linecap="round" fill="none"/>
<path d="M97.09 467.14h0M102.03 477.53h0M102.45 463.87h0" stroke="#3aa845" stroke-width="1.45" stroke-linecap="round" fill="none"/>
<path d="M100.26 398.55h0M83.78 460.18h0M63.57 401.65h0M66.98 398.86h0M69.14 410.9h0M43.64 447.63h0" stroke="#ef7b26" stroke-width="1.45" stroke-linecap="round" fill="none"/>
<path d="M107.64 461.57h0M109.6 440.94h0M119.01 426.93h0" stroke="#3d8bcb" stroke-width="1.45" stroke-linecap="round" fill="none"/>
<path d="M61.47 396.87h0M83 458.13h0M87.92 395.31h0M97.54 475.42h0M24.39 427.68h0M36.56 421.43h0M56.07 431.99h0M66.85 407.68h0M21.25 414.89h0M57.31 413.23h0M121.25 449.36h0" stroke="#ef7b26" stroke-width="1.45" stroke-linecap="round" fill="none"/>
<path d="M108.99 403.47h0" stroke="#3d8bcb" stroke-width="1.45" stroke-linecap="round" fill="none"/>
<path d="M113.92 441.86h0" stroke="#3d8bcb" stroke-width="1.45" stroke-linecap="round" fill="none"/>
<path d="M46.38 386.56h0M62.36 452.43h0M111.74 385.16h0M116.1 473.74h0M62.5 391.89h0M62.12 414.78h0M31.36 411.56h0M120.19 449.25h0M42.28 431.77h0" stroke="#ef7b26" stroke-width="1.45" stroke-linecap="round" fill="none"/>
<path d="M60.13 391.47h0M32.46 409.24h0" stroke="#3aa845" stroke-width="1.45" stroke-linecap="round" fill="none"/>
<path d="M92.98 453.27h0M87.72 435.04h0M103.35 421.85h0M88.88 468.08h0M35.02 428.09h0" stroke="#ef7b26" stroke-width="1.45" stroke-linecap="round" fill="none"/>
<path d="M108.52 397.94h0M119.83 397.81h0M113.51 481.13h0M96.26 438.83h0" stroke="#3d8bcb" stroke-width="1.45" stroke-linecap="round" fill="none"/>
<path d="M46.78 394.86h0M113.23 448.49h0M69.03 454.55h0" stroke="#3aa845" stroke-width="1.45" stroke-linecap="round" fill="none"/>
<path d="M83.21 441.02h0" stroke="#3aa845" stroke-width="1.45" stroke-linecap="round" fill="none"/>
<path d="M99.71 451.89h0M38.6 404.78h0M101.57 420.18h0M90.14 442.71h0M129.63 446.19h0M38.74 387.64h0M72.21 425.41h0M38.87 391.91h0M40.23 411.71h0M44.5 420.1h0" stroke="#ef7b26" stroke-width="1.45" stroke-linecap="round" fill="none"/>
<path d="M117.52 440.42h0" stroke="#3d8bcb" stroke-width="1.45" stroke-linecap="round" fill="none"/>
<path d="M135.94 436.85h0M120.63 445.13h0M94.55 467.62h0M95.59 447.11h0" stroke="#ef7b26" stroke-width="1.45" stroke-linecap="round" fill="none"/>
<path d="M132.26 415.84h0M122.96 414.28h0M123.02 410.87h0M129 428.23h0M118.12 410.03h0" stroke="#3d8bcb" stroke-width="1.45" stroke-linecap="round" fill="none"/>
<path d="M90.08 422.16h0M86.69 415.45h0M113.84 422.43h0" stroke="#3aa845" stroke-width="1.45" stroke-linecap="round" fill="none"/>
<path d="M95.07 393.44h0" stroke="#3aa845" stroke-width="1.45" stroke-linecap="round" fill="none"/>
<path d="M63.92 398.41h0M60.8 395.52h0M52.24 385.56h0M54.07 421.37h0M79.37 434.13h0M77.82 399.8h0M125.13 400.29h0M104.69 464.38h0M96.56 428.08h0" stroke="#ef7b26" stroke-width="1.45" stroke-linecap="round" fill="none"/>
<path d="M122.09 450.09h0M113 453.4h0" stroke="#3d8bcb" stroke-width="1.45" stroke-linecap="round" fill="none"/>
<path d="M27.13 431.86h0M44.95 394.28h0M121.15 394.82h0M51.96 419.97h0M93.72 467.13h0M106.08 429.8h0M72.1 422.45h0M64.52 432.03h0M108.48 474.57h0M69.24 392.81h0" stroke="#ef7b26" stroke-width="1.45" stroke-linecap="round" fill="none"/>
<path d="M52.67 386.53h0M106.27 439.29h0" stroke="#3aa845" stroke-width="1.45" stroke-linecap="round" fill="none"/>
<path d="M47.55 402.3h0M88.86 460.68h0M93.58 461.93h0M57.22 393.71h0M108.3 407.16h0M66.38 432.41h0M90.42 426.63h0M84.05 410.3h0M94.61 469.06h0" stroke="#ef7b26" stroke-width="1.45" stroke-linecap="round" fill="none"/>
<path d="M61.39 439.84h0" stroke="#3aa845" stroke-width="1.45" stroke-linecap="round" fill="none"/>
<path d="M119.04 414.8h0M110.34 433.81h0" stroke="#3d8bcb" stroke-width="1.45" stroke-linecap="round" fill="none"/>
<path d="M116.88 471.1h0M76.09 448.13h0M69.19 440.34h0M116.18 426.89h0M98.49 385.62h0M92.64 399.9h0M99.32 387.56h0M50 419.81h0" stroke="#ef7b26" stroke-width="1.45" stroke-linecap="round" fill="none"/>
<path d="M81.97 438.42h0M112.42 441.7h0M53.19 449.25h0" stroke="#3aa845" stroke-width="1.45" stroke-linecap="round" fill="none"/>
<path d="M114.95 458.11h0" stroke="#3d8bcb" stroke-width="1.45" stroke-linecap="round" fill="none"/>
<path d="M119.66 392.34h0M32.05 403.79h0M29.22 420.1h0" stroke="#3aa845" stroke-width="1.45" stroke-linecap="round" fill="none"/>
<path d="M67.51 392.74h0M96.06 476.6h0M87.55 419.3h0M56.23 415.74h0M79.85 392.27h0M44.49 440.08h0M87.91 433.9h0M86.64 436.67h0M25.29 415.03h0" stroke="#ef7b26" stroke-width="1.45" stroke-linecap="round" fill="none"/>
<path d="M113.85 435.79h0" stroke="#3d8bcb" stroke-width="1.45" stroke-linecap="round" fill="none"/>
<path d="M77.03 438.24h0M86.48 402.57h0M103.3 447.84h0" stroke="#3aa845" stroke-width="1.45" stroke-linecap="round" fill="none"/>
<path d="M83.11 383.74h0M103.11 397.7h0M80.13 385.37h0M51.74 449.96h0M36.8 399.27h0M127 420.93h0M35.45 412.01h0M80.99 411.54h0" stroke="#ef7b26" stroke-width="1.45" stroke-linecap="round" fill="none"/>
<path d="M127.92 431.31h0" stroke="#3aa845" stroke-width="1.45" stroke-linecap="round" fill="none"/>
<path d="M44.82 397.9h0M28.77 422.22h0M103.1 435.85h0M103.17 402.94h0M130.87 465.3h0M66.57 428.81h0M108.1 432.76h0M21.79 414.63h0M59.76 422.91h0M54.64 434.19h0" stroke="#ef7b26" stroke-width="1.45" stroke-linecap="round" fill="none"/>
<path d="M118.71 476.23h0" stroke="#3d8bcb" stroke-width="1.45" stroke-linecap="round" fill="none"/>
<path d="M46.46 452.45h0M54.19 408.16h0M90.44 451.77h0M36.15 430.99h0M106.15 420h0M55.34 428.08h0M108.9 407.09h0M41.3 407.33h0M43.48 423.84h0M58.1 458.05h0M92.04 387.2h0" stroke="#ef7b26" stroke-width="1.45" stroke-linecap="round" fill="none"/>
<path d="M118.59 432.31h0" stroke="#3d8bcb" stroke-width="1.45" stroke-linecap="round" fill="none"/>
<path d="M64.8 397.88h0M101.5 426.13h0M49.98 391.51h0M98.2 402.72h0M49.72 409.01h0M90.24 435.35h0M47.18 403.83h0M79.92 448.81h0M113.31 476.07h0M69.66 452.38h0" stroke="#ef7b26" stroke-width="1.45" stroke-linecap="round" fill="none"/>
<path d="M134.98 433.63h0" stroke="#3d8bcb" stroke-width="1.45" stroke-linecap="round" fill="none"/>
<path d="M46.77 398.83h0" stroke="#3aa845" stroke-width="1.45" stroke-linecap="round" fill="none"/>
<path d="M77.72 450.02h0M69.45 391.43h0M83.24 411.7h0M49.81 414.35h0M93.99 414.45h0" stroke="#ef7b26" stroke-width="1.45" stroke-linecap="round" fill="none"/>
<path d="M107.12 394.85h0M41.98 395.14h0M86.73 400h0" stroke="#3aa845" stroke-width="1.45" stroke-linecap="round" fill="none"/>
<path d="M100.65 417.1h0M103.92 462.38h0M94.97 450.67h0M114.23 386.69h0" stroke="#3d8bcb" stroke-width="1.45" stroke-linecap="round" fill="none"/>
<path d="M130.87 408.08h0M114.61 405.49h0M102.5 430.95h0M121.95 469.55h0M123.19 406.63h0" stroke="#3d8bcb" stroke-width="1.45" stroke-linecap="round" fill="none"/>
<path d="M130.1 467.02h0M68.93 440.27h0M109.35 390.95h0M99.16 387.63h0M104.88 468.41h0" stroke="#ef7b26" stroke-width="1.45" stroke-linecap="round" fill="none"/>
<path d="M52.78 415.28h0M89.71 428.39h0" stroke="#3aa845" stroke-width="1.45" stroke-linecap="round" fill="none"/>
<path d="M101.66 439.15h0" stroke="#3aa845" stroke-width="1.45" stroke-linecap="round" fill="none"/>
<path d="M117.6 405.08h0" stroke="#3d8bcb" stroke-width="1.45" stroke-linecap="round" fill="none"/>
<path d="M131.81 420.34h0M93.47 420.97h0M66.04 419.72h0M34.03 434.91h0M50.58 408.25h0M94.27 456.94h0M52.52 389.78h0M105.68 420.47h0M91.61 430.04h0M114.2 455.1h0" stroke="#ef7b26" stroke-width="1.45" stroke-linecap="round" fill="none"/>
<path d="M112.27 399.35h0M39.71 429.48h0M105.78 458.72h0M126.62 450.72h0M35.96 444.5h0M76.42 395.6h0M51.84 402.38h0M63.28 388.78h0M122.98 428.12h0" stroke="#ef7b26" stroke-width="1.45" stroke-linecap="round" fill="none"/>
<path d="M78.72 428.18h0M114.4 478.08h0" stroke="#3aa845" stroke-width="1.45" stroke-linecap="round" fill="none"/>
<path d="M128.48 470.76h0" stroke="#3d8bcb" stroke-width="1.45" stroke-linecap="round" fill="none"/>
<path d="M93.32 453.8h0M37.08 444.04h0M80 418.66h0M80.19 421.22h0M91.68 447.07h0M126.55 464.48h0M84.54 405.61h0M43.35 433.95h0M100.09 431.34h0" stroke="#ef7b26" stroke-width="1.45" stroke-linecap="round" fill="none"/>
<path d="M101.11 460.83h0M125.3 457.58h0M121.25 478.71h0" stroke="#3d8bcb" stroke-width="1.45" stroke-linecap="round" fill="none"/>
<path d="M55.92 417.9h0M40.02 399.12h0M39.05 437.51h0M124.03 472.65h0M46.25 450.38h0M30.55 393.6h0M84.09 410.65h0M55.5 391.29h0M121.74 471.37h0" stroke="#ef7b26" stroke-width="1.45" stroke-linecap="round" fill="none"/>
<path d="M121.65 416.78h0M129.31 433.98h0M112.85 466.58h0" stroke="#3d8bcb" stroke-width="1.45" stroke-linecap="round" fill="none"/>
<path d="M119.49 481.2h0M134.37 446.49h0M64.74 449.11h0M107.03 417.85h0M60.27 384.99h0M79.54 405.05h0" stroke="#ef7b26" stroke-width="1.45" stroke-linecap="round" fill="none"/>
<path d="M127.55 470.34h0M107.48 469.84h0" stroke="#3d8bcb" stroke-width="1.45" stroke-linecap="round" fill="none"/>
<path d="M58.4 451.67h0M60.54 387.55h0M112.28 463.53h0M58.74 396.67h0" stroke="#3aa845" stroke-width="1.45" stroke-linecap="round" fill="none"/>
<path d="M34.65 388.48h0M59.08 400.29h0M62.16 448.03h0M89.11 396.18h0M65.85 391.64h0M43.88 434.69h0M62.78 442.27h0M25.36 399.82h0" stroke="#ef7b26" stroke-width="1.45" stroke-linecap="round" fill="none"/>
<path d="M52.85 385.65h0" stroke="#3aa845" stroke-width="1.45" stroke-linecap="round" fill="none"/>
<path d="M103.26 467.99h0M127.35 401.98h0M121.73 447h0" stroke="#3d8bcb" stroke-width="1.45" stroke-linecap="round" fill="none"/>
<path d="M40.16 397.19h0M45.24 415.57h0M84.19 415.97h0M88.46 435.84h0M95.79 392.53h0M89.05 440.68h0M90.79 433.53h0M91.59 410.96h0M73.05 388.26h0" stroke="#ef7b26" stroke-width="1.45" stroke-linecap="round" fill="none"/>
<path d="M63.17 402.64h0" stroke="#3aa845" stroke-width="1.45" stroke-linecap="round" fill="none"/>
<path d="M114.63 404.32h0M101.91 384.07h0" stroke="#3d8bcb" stroke-width="1.45" stroke-linecap="round" fill="none"/>
<path d="M107.72 391.4h0" stroke="#3aa845" stroke-width="1.45" stroke-linecap="round" fill="none"/>
<path d="M42.07 410.49h0M38.46 395.79h0M49.13 392.41h0M62.85 447.07h0M55.29 453.84h0M119.82 462.08h0M114.37 474.24h0M49.56 388.11h0" stroke="#ef7b26" stroke-width="1.45" stroke-linecap="round" fill="none"/>
<path d="M127.49 420.87h0M117.82 395.43h0M126.64 436.53h0" stroke="#3d8bcb" stroke-width="1.45" stroke-linecap="round" fill="none"/>
<path d="M40.19 436.6h0M58.16 384.42h0M34.32 424.05h0M121.52 471.22h0M104.66 447.17h0M77.14 403.75h0M69.93 437.41h0M59.25 400.8h0M23.3 422.72h0M95.78 458.31h0" stroke="#ef7b26" stroke-width="1.45" stroke-linecap="round" fill="none"/>
<path d="M105.58 467.45h0M136.22 449.58h0" stroke="#3d8bcb" stroke-width="1.45" stroke-linecap="round" fill="none"/>
<path d="M118.02 466.02h0M125.47 438.31h0M113.22 477.5h0M96.96 454.73h0" stroke="#3d8bcb" stroke-width="1.45" stroke-linecap="round" fill="none"/>
<path d="M127.27 427.72h0M124.15 433.43h0M117.65 418.32h0M49.91 444.69h0M94.53 467.38h0M71.8 419.52h0M72.39 428.95h0M127.81 441.17h0" stroke="#ef7b26" stroke-width="1.45" stroke-linecap="round" fill="none"/>
<path d="M112.35 446.75h0" stroke="#3d8bcb" stroke-width="1.45" stroke-linecap="round" fill="none"/>
<path d="M80.63 404.88h0M129.68 431.67h0M55.87 430.05h0" stroke="#3aa845" stroke-width="1.45" stroke-linecap="round" fill="none"/>
<path d="M34.89 392.48h0M67.27 401.46h0M84.18 388.42h0M52.08 452.67h0M57.15 417.31h0M41 408.9h0M52.97 396.86h0M43.44 414.94h0" stroke="#ef7b26" stroke-width="1.45" stroke-linecap="round" fill="none"/>
<path d="M126.4 459.05h0M131.09 447.46h0" stroke="#3d8bcb" stroke-width="1.45" stroke-linecap="round" fill="none"/>
<path d="M68.19 453.43h0M66.68 418.9h0M76.28 436.07h0M116.45 392.59h0M91.91 423.16h0M50.78 437.23h0M53.54 401.64h0M83.99 410h0M52.91 407.5h0M108.92 397.06h0" stroke="#ef7b26" stroke-width="1.45" stroke-linecap="round" fill="none"/>
<path d="M106.18 474.92h0M107.25 398.73h0" stroke="#3aa845" stroke-width="1.45" stroke-linecap="round" fill="none"/>
<path d="M29.27 424.3h0M95.07 472.63h0M124.34 432.71h0M67.21 390.57h0M88.57 454.49h0M122.39 426.75h0M96.52 472.75h0M84.76 410.1h0M33.79 430.73h0M78.08 394.11h0" stroke="#ef7b26" stroke-width="1.45" stroke-linecap="round" fill="none"/>
<path d="M106.88 410.68h0M130.81 449.71h0" stroke="#3d8bcb" stroke-width="1.45" stroke-linecap="round" fill="none"/>
<path d="M92.03 393.18h0M113.2 473.32h0M97.91 450.84h0M105.43 429.9h0M43.28 446.44h0M67.76 401.78h0M82.56 410.62h0" stroke="#ef7b26" stroke-width="1.45" stroke-linecap="round" fill="none"/>
<path d="M32.43 404.43h0M38.24 438.46h0M41.43 389.45h0" stroke="#3aa845" stroke-width="1.45" stroke-linecap="round" fill="none"/>
<path d="M84.27 458.43h0M33.13 388.02h0" stroke="#3aa845" stroke-width="1.45" stroke-linecap="round" fill="none"/>
<path d="M34.42 435.58h0M83.34 414.89h0M96.3 387.15h0M133.21 453.19h0M121.33 459.08h0M37.95 433h0M82.6 461.33h0M60.89 400.61h0M90.13 389.06h0M50.89 451.98h0" stroke="#ef7b26" stroke-width="1.45" stroke-linecap="round" fill="none"/>
<path d="M85.92 461.45h0" stroke="#3aa845" stroke-width="1.45" stroke-linecap="round" fill="none"/>
<path d="M102.69 421.38h0M88.13 411.88h0M44.45 430.69h0M88.49 447.1h0M50.04 408.65h0M54.6 403.37h0M115.72 459.25h0M76.68 417.39h0M110.8 431.21h0M33.72 433.77h0M37.13 435.5h0" stroke="#ef7b26" stroke-width="1.45" stroke-linecap="round" fill="none"/>
<path d="M106 425.14h0M81.34 399.76h0" stroke="#3aa845" stroke-width="1.45" stroke-linecap="round" fill="none"/>
<path d="M128.05 440.87h0M123.43 421.91h0" stroke="#3d8bcb" stroke-width="1.45" stroke-linecap="round" fill="none"/>
<path d="M78 456.34h0M32.24 409h0M39.15 403.94h0M60.08 409.07h0M86.4 401.98h0M112.94 413.3h0M54.79 438.94h0M42.03 449.02h0" stroke="#ef7b26" stroke-width="1.45" stroke-linecap="round" fill="none"/>
<path d="M116.35 459h0M30.54 426.07h0M45.05 442.94h0" stroke="#3aa845" stroke-width="1.45" stroke-linecap="round" fill="none"/>
<path d="M102.54 397.1h0M36.93 434.42h0M103.42 420.38h0M72.59 392.91h0M34.13 432.83h0M81.71 396.71h0M43.16 448.7h0M82.97 420.95h0M106.86 391.43h0" stroke="#ef7b26" stroke-width="1.45" stroke-linecap="round" fill="none"/>
<path d="M51.91 420.88h0M58.03 437.08h0M34.83 401.94h0M84.51 420.63h0M114.06 422.07h0M32.22 408.4h0M40.69 413.7h0M36.73 440.98h0M32.4 440.66h0M109.09 419.23h0M63.06 455.53h0" stroke="#ef7b26" stroke-width="1.45" stroke-linecap="round" fill="none"/>
<path d="M111.8 396.34h0" stroke="#3d8bcb" stroke-width="1.45" stroke-linecap="round" fill="none"/>
<path d="M116.38 406.04h0M119.23 448.57h0" stroke="#3d8bcb" stroke-width="1.45" stroke-linecap="round" fill="none"/>
<path d="M130.62 465.48h0M60.75 417.95h0M86.01 457.78h0M91.27 430.16h0M130.29 461.49h0M49.13 397.08h0M56.55 385.22h0M93.35 441.72h0M30.19 415.9h0M108.36 426.48h0" stroke="#ef7b26" stroke-width="1.45" stroke-linecap="round" fill="none"/>
<path d="M69.6 418.18h0M66.98 403.24h0M47.2 397.42h0M77.33 447.96h0M58.29 420.06h0M108.16 428.9h0" stroke="#ef7b26" stroke-width="1.45" stroke-linecap="round" fill="none"/>
<path d="M77.37 394.83h0M83.9 410.09h0M66.97 425.55h0" stroke="#3aa845" stroke-width="1.45" stroke-linecap="round" fill="none"/>
<path d="M107.04 411.93h0M114.51 392.83h0M131.67 409.24h0" stroke="#3d8bcb" stroke-width="1.45" stroke-linecap="round" fill="none"/>
<path d="M31.13 439.73h0M80.98 448.38h0M115.62 424.36h0M44.5 405.35h0M37.15 404.05h0M91.89 458.77h0M96.17 419.74h0M33.21 433.51h0M108.88 398.8h0M82.72 431.67h0M97.39 454.74h0" stroke="#ef7b26" stroke-width="1.45" stroke-linecap="round" fill="none"/>
<path d="M115.91 467.54h0" stroke="#3d8bcb" stroke-width="1.45" stroke-linecap="round" fill="none"/>
<path d="M93.11 423.11h0" stroke="#3d8bcb" stroke-width="1.45" stroke-linecap="round" fill="none"/>
<path d="M55.74 409.99h0M90.58 429.79h0M22.09 408.04h0M73.98 421.9h0M63.22 423.66h0M73.89 408.39h0" stroke="#ef7b26" stroke-width="1.45" stroke-linecap="round" fill="none"/>
<path d="M98.94 444.7h0M50.49 405.88h0M93.66 408.93h0M72.79 387.13h0M83.77 407.49h0" stroke="#3aa845" stroke-width="1.45" stroke-linecap="round" fill="none"/>
<path d="M44.59 391.3h0M123.14 424.9h0M41.7 442.51h0M41.97 440.01h0M34.56 411h0M98.85 463.64h0M72.71 400.35h0M61.59 419.59h0" stroke="#ef7b26" stroke-width="1.45" stroke-linecap="round" fill="none"/>
<path d="M108.14 400.53h0M133.39 428.58h0M103.77 424.09h0M43.57 430.11h0" stroke="#3aa845" stroke-width="1.45" stroke-linecap="round" fill="none"/>
<path d="M120.56 453.9h0M114.69 456.71h0" stroke="#3d8bcb" stroke-width="1.45" stroke-linecap="round" fill="none"/>
<path d="M132.93 418.24h0M131.58 445.75h0M96.25 455.35h0" stroke="#3aa845" stroke-width="1.45" stroke-linecap="round" fill="none"/>
<path d="M94.12 424.23h0M30.98 410.11h0M111.09 390.12h0M111.73 443.79h0M107.06 414.56h0M89.51 463.55h0M92.89 459.55h0" stroke="#ef7b26" stroke-width="1.45" stroke-linecap="round" fill="none"/>
<path d="M80.61 386.47h0M60.84 385.4h0M114.46 450.79h0M60.14 403.42h0M104.33 444.58h0M66.15 411.94h0M124.97 427.93h0M89.52 415.53h0M23.22 424.6h0M83.92 391.73h0" stroke="#ef7b26" stroke-width="1.45" stroke-linecap="round" fill="none"/>
<path d="M70.63 448.44h0" stroke="#3aa845" stroke-width="1.45" stroke-linecap="round" fill="none"/>
<path d="M129.95 428.09h0" stroke="#3d8bcb" stroke-width="1.45" stroke-linecap="round" fill="none"/>
<path d="M66.44 416.51h0M135.81 437.59h0M58.66 431.99h0M57.92 412.61h0M36.77 401.9h0M93.03 415.68h0M106.51 453.94h0M55.09 393.27h0M106.26 414.47h0M49.05 441.08h0M127.11 437.86h0" stroke="#ef7b26" stroke-width="1.45" stroke-linecap="round" fill="none"/>
<path d="M118.95 393.9h0" stroke="#3d8bcb" stroke-width="1.45" stroke-linecap="round" fill="none"/>
<path d="M103.11 416.98h0" stroke="#3d8bcb" stroke-width="1.45" stroke-linecap="round" fill="none"/>
<path d="M35.79 386.93h0M107.67 390.65h0M62.48 457.47h0M93.02 400.12h0M53.83 436.46h0M102.63 430.49h0M105.36 429.95h0M63.32 422.49h0M84.34 434.91h0" stroke="#ef7b26" stroke-width="1.45" stroke-linecap="round" fill="none"/>
<path d="M86.7 451.09h0M82.13 396.47h0" stroke="#3aa845" stroke-width="1.45" stroke-linecap="round" fill="none"/>
<path d="M123.87 407.7h0M26.54 427.06h0M59.07 436.57h0M95.28 475.38h0M46.32 413.97h0M87.59 461.85h0M107.77 417.34h0" stroke="#ef7b26" stroke-width="1.45" stroke-linecap="round" fill="none"/>
<path d="M45.77 441.65h0M50.24 431.28h0M61.67 401.46h0" stroke="#3aa845" stroke-width="1.45" stroke-linecap="round" fill="none"/>
<path d="M121.61 398.85h0M117.12 425.11h0" stroke="#3d8bcb" stroke-width="1.45" stroke-linecap="round" fill="none"/>
<path d="M110.62 409.92h0M115.21 440.57h0" stroke="#3aa845" stroke-width="1.45" stroke-linecap="round" fill="none"/>
<path d="M50.35 424.59h0M118.68 473.29h0M108.17 421.74h0M95.89 392.56h0M41.74 397.42h0M85.86 387.26h0M82.14 384.97h0M105.89 390.77h0M58.5 408.52h0M59.72 396.5h0" stroke="#ef7b26" stroke-width="1.45" stroke-linecap="round" fill="none"/>
<path d="M122.99 437.72h0M130.81 466.87h0" stroke="#3d8bcb" stroke-width="1.45" stroke-linecap="round" fill="none"/>
<path d="M101.25 407.82h0M51.22 447.15h0M39.47 448.09h0M90.84 385.15h0M61.96 439.64h0M63.23 430.72h0M76.42 394.53h0M57.06 425.75h0M72.07 401.19h0M31.8 442.16h0" stroke="#ef7b26" stroke-width="1.45" stroke-linecap="round" fill="none"/>
<path d="M100.47 387.5h0M70.95 396.12h0M51.38 425.86h0M42.23 385.85h0M75.94 432.45h0M95.19 386.74h0M116.83 465.48h0M72.39 437.05h0" stroke="#ef7b26" stroke-width="1.45" stroke-linecap="round" fill="none"/>
<path d="M29.66 406.98h0M64.96 425.02h0" stroke="#3aa845" stroke-width="1.45" stroke-linecap="round" fill="none"/>
<path d="M128.27 416.89h0M123.4 400.52h0" stroke="#3d8bcb" stroke-width="1.45" stroke-linecap="round" fill="none"/>
<path d="M118.1 431.34h0M88.55 405.36h0" stroke="#3aa845" stroke-width="1.45" stroke-linecap="round" fill="none"/>
<path d="M44.4 451.69h0M97.74 469.92h0M106.37 455.16h0M89.44 399.05h0M60.46 425.65h0M49.03 396.5h0M61.72 415.56h0M108.37 420.34h0M53.17 433.85h0" stroke="#ef7b26" stroke-width="1.45" stroke-linecap="round" fill="none"/>
<path d="M93.7 453.22h0" stroke="#3d8bcb" stroke-width="1.45" stroke-linecap="round" fill="none"/>
<path d="M106.93 475.02h0" stroke="#3d8bcb" stroke-width="1.45" stroke-linecap="round" fill="none"/>
<path d="M47.74 400.44h0M78.12 425.2h0M71.01 445.84h0M78.82 383.99h0M68.68 406h0M120.03 476.13h0M112.37 416.62h0M111.77 431.25h0M70.37 409.06h0" stroke="#ef7b26" stroke-width="1.45" stroke-linecap="round" fill="none"/>
<path d="M79.98 435.74h0M86.88 460.01h0" stroke="#3aa845" stroke-width="1.45" stroke-linecap="round" fill="none"/>
<path d="M110.93 422.46h0M68.67 405.47h0" stroke="#3aa845" stroke-width="1.45" stroke-linecap="round" fill="none"/>
<path d="M60.86 395.92h0M26.07 431.03h0M70.4 385.96h0M106.59 402.93h0M119.28 466.91h0M98.15 435.87h0M83.53 445.53h0M68.53 404.61h0M122.14 474.89h0M91.88 438.56h0" stroke="#ef7b26" stroke-width="1.45" stroke-linecap="round" fill="none"/>
<path d="M106.84 460.42h0M116.78 482.06h0M130.43 448.58h0" stroke="#3d8bcb" stroke-width="1.45" stroke-linecap="round" fill="none"/>
<path d="M100.59 471.03h0M107.51 476.52h0M108.14 451.16h0M41.63 391.49h0M41.77 432h0M31.38 390.38h0M44.09 399.72h0M54.83 429.52h0M30.77 409.44h0" stroke="#ef7b26" stroke-width="1.45" stroke-linecap="round" fill="none"/>
<path d="M124.17 403.28h0M123.79 420.77h0M91.18 396h0M53.11 436.92h0M71.76 405.94h0M40.38 408.85h0M71.2 451.11h0M122.23 421.27h0M116.89 429.36h0M127.14 405.86h0" stroke="#ef7b26" stroke-width="1.45" stroke-linecap="round" fill="none"/>
<path d="M107.19 404.21h0M92.24 391.2h0" stroke="#3aa845" stroke-width="1.45" stroke-linecap="round" fill="none"/>
<path d="M122.39 468.7h0" stroke="#3d8bcb" stroke-width="1.45" stroke-linecap="round" fill="none"/>
<path d="M51.77 400.45h0M113.83 482.72h0M88.2 385.12h0M107.1 435.15h0M114.75 453.6h0M100.73 409.76h0M95.85 454.71h0M35.75 413.08h0M120.02 485.89h0M79.08 389.19h0" stroke="#ef7b26" stroke-width="1.45" stroke-linecap="round" fill="none"/>
<path d="M37.86 391.36h0" stroke="#3aa845" stroke-width="1.45" stroke-linecap="round" fill="none"/>
<path d="M93.81 463.3h0M134.05 426.02h0" stroke="#3d8bcb" stroke-width="1.45" stroke-linecap="round" fill="none"/>
<path d="M98.75 465.55h0M111.09 432.36h0" stroke="#3aa845" stroke-width="1.45" stroke-linecap="round" fill="none"/>
<path d="M74.09 412.91h0M94.71 474.17h0M97.02 474.21h0M27.12 399.87h0M105.74 478.54h0M71.03 410.9h0M85.83 429.42h0M110.21 465.84h0" stroke="#ef7b26" stroke-width="1.45" stroke-linecap="round" fill="none"/>
<path d="M94.97 449.03h0M33.87 403.04h0M77.09 415.87h0M50.88 421.53h0M32.72 433.16h0" stroke="#ef7b26" stroke-width="1.45" stroke-linecap="round" fill="none"/>
<path d="M135.41 437.88h0M127.78 454.59h0M121.18 481.96h0" stroke="#3d8bcb" stroke-width="1.45" stroke-linecap="round" fill="none"/>
<path d="M52.94 408.13h0M110.31 447.37h0M82.67 424.55h0M65.72 424.07h0" stroke="#3aa845" stroke-width="1.45" stroke-linecap="round" fill="none"/>
<path d="M30.41 403.28h0M120.31 465.05h0M50.48 398h0" stroke="#3aa845" stroke-width="1.45" stroke-linecap="round" fill="none"/>
<path d="M55.28 424.29h0M63.82 420.72h0M74.72 401.6h0M50.91 410.12h0M71.99 445.43h0M114.44 482.63h0M33.81 413.61h0M103.54 415.31h0M56.3 387.61h0" stroke="#ef7b26" stroke-width="1.45" stroke-linecap="round" fill="none"/>
<path d="M105.26 450.57h0M110.3 396.97h0M58.42 399.03h0" stroke="#3aa845" stroke-width="1.45" stroke-linecap="round" fill="none"/>
<path d="M105.67 395.26h0M122.81 435.27h0M118.73 483.69h0" stroke="#3d8bcb" stroke-width="1.45" stroke-linecap="round" fill="none"/>
<path d="M43.97 412.89h0M72.83 425.41h0M78.76 426.33h0M63.79 396.51h0M84.12 386.25h0M26.45 405.64h0" stroke="#ef7b26" stroke-width="1.45" stroke-linecap="round" fill="none"/>
<path d="M108.28 387.49h0" stroke="#3aa845" stroke-width="1.45" stroke-linecap="round" fill="none"/>
<path d="M83.74 438.2h0M76.23 424.63h0M95.8 408.37h0M47.89 425.25h0M61.51 456.17h0M114.2 461.06h0M87.38 463.29h0M57.33 402.32h0M119.82 410.67h0M90.24 395.52h0" stroke="#ef7b26" stroke-width="1.45" stroke-linecap="round" fill="none"/>
<path d="M112.76 397.25h0" stroke="#3d8bcb" stroke-width="1.45" stroke-linecap="round" fill="none"/>
<path d="M127.72 469.13h0M105.45 433.38h0" stroke="#3d8bcb" stroke-width="1.45" stroke-linecap="round" fill="none"/>
<path d="M80.96 438.44h0M69.18 446.89h0M116.71 392.6h0M44.57 387.33h0M88.09 418.46h0M76.7 401.69h0M101.67 428.53h0M98.04 390.95h0M97.17 429.23h0" stroke="#ef7b26" stroke-width="1.45" stroke-linecap="round" fill="none"/>
<path d="M42.92 414.39h0" stroke="#3aa845" stroke-width="1.45" stroke-linecap="round" fill="none"/>
<path d="M28.93 396.3h0M103.7 394.31h0" stroke="#3aa845" stroke-width="1.45" stroke-linecap="round" fill="none"/>
<path d="M99.8 461.65h0M120.11 392.76h0M80.35 447.06h0M42.91 419.6h0M100.05 470.78h0M95.21 416.84h0M29.5 416.09h0M44.54 422.19h0" stroke="#ef7b26" stroke-width="1.45" stroke-linecap="round" fill="none"/>
<path d="M129.4 450.71h0M117.08 468.39h0" stroke="#3d8bcb" stroke-width="1.45" stroke-linecap="round" fill="none"/>
<path d="M116.76 426h0M99 432.45h0M132.9 457.88h0M113.79 396.86h0M127.08 428.9h0" stroke="#3d8bcb" stroke-width="1.45" stroke-linecap="round" fill="none"/>
<path d="M70 410.85h0M110.7 441.11h0M57.13 407.46h0M109.37 399.68h0M105.55 387.14h0M83.19 448.43h0M73.1 419.91h0" stroke="#ef7b26" stroke-width="1.45" stroke-linecap="round" fill="none"/>
<path d="M114.72 390.39h0M101.3 426.52h0M92 436.35h0" stroke="#3aa845" stroke-width="1.45" stroke-linecap="round" fill="none"/>
<path d="M97.37 417.74h0M114.85 413.42h0M105.25 433.85h0M61.81 395.03h0M92.61 391.17h0M45.47 417.04h0M82.01 427.59h0M81.91 428.28h0M100.57 427.02h0" stroke="#ef7b26" stroke-width="1.45" stroke-linecap="round" fill="none"/>
<path d="M125.66 408.05h0M118.34 473.45h0M136.18 434.59h0M123.8 475.19h0" stroke="#3d8bcb" stroke-width="1.45" stroke-linecap="round" fill="none"/>
<path d="M111.33 429.48h0M51.47 418.65h0M92.5 473.3h0M71.65 390.32h0M100.66 460.02h0M52.22 411.2h0M107.17 415.83h0M100.87 466.37h0" stroke="#ef7b26" stroke-width="1.45" stroke-linecap="round" fill="none"/>
<path d="M119.81 403.42h0M123.05 484.92h0M110.17 443.13h0" stroke="#3d8bcb" stroke-width="1.45" stroke-linecap="round" fill="none"/>
<path d="M101.89 469.17h0M79.85 452.93h0M107.58 445.57h0M93.46 388.62h0M119.47 446.99h0M32.97 399.17h0M88.82 393.09h0M89.82 444.65h0" stroke="#ef7b26" stroke-width="1.45" stroke-linecap="round" fill="none"/>
<path d="M59.36 431.71h0" stroke="#3aa845" stroke-width="1.45" stroke-linecap="round" fill="none"/>
<path d="M110.2 456.97h0M114.95 470.54h0M31.82 399.94h0" stroke="#3aa845" stroke-width="1.45" stroke-linecap="round" fill="none"/>
<path d="M118.76 405.26h0M116.3 429.76h0" stroke="#3d8bcb" stroke-width="1.45" stroke-linecap="round" fill="none"/>
<path d="M81.72 431.64h0M97.65 413.1h0M36.09 400.68h0M63.99 442.97h0M100.5 453.98h0M76.59 400.58h0M69.99 407.52h0" stroke="#ef7b26" stroke-width="1.45" stroke-linecap="round" fill="none"/>
<path d="M62.4 426.14h0M102.79 398.04h0M98.07 424.01h0M68.88 451.47h0M31.86 421.75h0M53.83 425.95h0M57.95 396.09h0M71.96 423.65h0M124.12 479.4h0" stroke="#ef7b26" stroke-width="1.45" stroke-linecap="round" fill="none"/>
<path d="M107.02 457.7h0M125.69 457.96h0" stroke="#3d8bcb" stroke-width="1.45" stroke-linecap="round" fill="none"/>
<path d="M118.24 429.17h0" stroke="#3aa845" stroke-width="1.45" stroke-linecap="round" fill="none"/>
<path d="M131.91 458.93h0M86.58 439.02h0M126.69 445.82h0M110.48 468.87h0M133.14 417.26h0" stroke="#3aa845" stroke-width="1.45" stroke-linecap="round" fill="none"/>
<path d="M71.96 387.87h0M78.18 449.17h0M103.18 430.03h0M87.82 390.14h0M104.73 398.34h0M60.03 398.49h0M83.06 406.22h0" stroke="#ef7b26" stroke-width="1.45" stroke-linecap="round" fill="none"/>
<path d="M99.94 421.14h0" stroke="#3aa845" stroke-width="1.45" stroke-linecap="round" fill="none"/>
<path d="M72.67 395.56h0M102.94 457.21h0M101.62 401.07h0M32.78 404.66h0M111.64 438.8h0M89.97 434.62h0M113.64 392.5h0M60.44 423.22h0M106.31 385.32h0" stroke="#ef7b26" stroke-width="1.45" stroke-linecap="round" fill="none"/>
<path d="M98.74 464.07h0M110.25 424.81h0" stroke="#3d8bcb" stroke-width="1.45" stroke-linecap="round" fill="none"/>
<path d="M45.95 431.16h0M133.32 460.23h0M52.06 403.01h0" stroke="#3aa845" stroke-width="1.45" stroke-linecap="round" fill="none"/>
<path d="M59.66 447.5h0M81.52 443.06h0M106.48 450.56h0M88.54 457.46h0M91.47 442.77h0M87.87 422.88h0M64.62 456.1h0M65 452.84h0" stroke="#ef7b26" stroke-width="1.45" stroke-linecap="round" fill="none"/>
<path d="M137.27 443.12h0" stroke="#3d8bcb" stroke-width="1.45" stroke-linecap="round" fill="none"/>
<path d="M120.07 431.6h0M60.13 436.58h0M115.9 400.27h0M40.35 417.67h0M31.68 416.4h0M70.13 421.91h0M98.06 425.97h0M98.9 435.06h0" stroke="#ef7b26" stroke-width="1.45" stroke-linecap="round" fill="none"/>
<path d="M121.44 443.45h0M100.66 406.02h0M123.32 432.97h0" stroke="#3d8bcb" stroke-width="1.45" stroke-linecap="round" fill="none"/>
<path d="M116.03 402h0" stroke="#3aa845" stroke-width="1.45" stroke-linecap="round" fill="none"/>
<path d="M41.14 416.82h0M103.23 459.82h0M48.31 420.3h0M40.74 418.29h0M48.71 408.24h0M79.73 408.26h0M100.6 420.26h0M96.77 474.08h0" stroke="#ef7b26" stroke-width="1.45" stroke-linecap="round" fill="none"/>
<path d="M113.5 411.23h0M100.37 473.65h0M120.97 393.11h0M65.48 429.06h0" stroke="#3aa845" stroke-width="1.45" stroke-linecap="round" fill="none"/>
<path d="M121.15 455.42h0M126.87 463.93h0" stroke="#3d8bcb" stroke-width="1.45" stroke-linecap="round" fill="none"/>
<path d="M85.55 411.72h0M89.14 469.2h0" stroke="#3aa845" stroke-width="1.45" stroke-linecap="round" fill="none"/>
<path d="M29.95 392.52h0M115.93 404.86h0M65.46 436.96h0M102.27 476.36h0M99.67 433.47h0M110.72 460.52h0M40.67 417.95h0M75.68 411.19h0" stroke="#ef7b26" stroke-width="1.45" stroke-linecap="round" fill="none"/>
<path d="M133.07 460.43h0M116.73 436.48h0M127.47 447.87h0M117.74 429.67h0" stroke="#3d8bcb" stroke-width="1.45" stroke-linecap="round" fill="none"/>
<path d="M64.79 424.76h0M32.52 402.57h0M32.47 397h0M59.42 388.07h0M89.41 419.17h0M43.3 449.01h0M32.59 404.42h0M81.28 384.84h0" stroke="#ef7b26" stroke-width="1.45" stroke-linecap="round" fill="none"/>
<path d="M130.99 450.12h0M132.17 424.08h0M119.49 435.54h0M122.21 468.45h0" stroke="#3d8bcb" stroke-width="1.45" stroke-linecap="round" fill="none"/>
<path d="M85.39 391.87h0M87.71 410.97h0M77.99 416.71h0M70.44 449.57h0M102.74 409.84h0M113.39 398.49h0M35.27 388.06h0" stroke="#ef7b26" stroke-width="1.45" stroke-linecap="round" fill="none"/>
<path d="M96.8 432.1h0" stroke="#3aa845" stroke-width="1.45" stroke-linecap="round" fill="none"/>
<path d="M48.38 438.01h0M27.58 412.86h0" stroke="#3aa845" stroke-width="1.45" stroke-linecap="round" fill="none"/>
<path d="M64.86 423.54h0M103.94 458.88h0M86.68 388.15h0M111.65 431.8h0M27.07 410.28h0M26.83 401.94h0M56.37 405.48h0M101.68 396.71h0M40.05 406.44h0M116.91 469.26h0" stroke="#ef7b26" stroke-width="1.45" stroke-linecap="round" fill="none"/>
<path d="M127.22 418.82h0M107.4 439.69h0M117.13 396.17h0M99.46 420.43h0" stroke="#3aa845" stroke-width="1.45" stroke-linecap="round" fill="none"/>
<path d="M35.53 442.56h0M120.98 461.49h0M63.4 404.55h0M70.35 419.84h0M40.21 414.64h0M78.23 443.76h0M38.82 417.62h0" stroke="#ef7b26" stroke-width="1.45" stroke-linecap="round" fill="none"/>
<path d="M129.41 426.67h0" stroke="#3d8bcb" stroke-width="1.45" stroke-linecap="round" fill="none"/>
<path d="M30.51 401.36h0M43.53 413.03h0M26.32 416.26h0M83.51 437.11h0M49.32 395.36h0M37.81 432.07h0M89.63 416.32h0" stroke="#ef7b26" stroke-width="1.45" stroke-linecap="round" fill="none"/>
<path d="M30.89 412.25h0M122.28 427.35h0M100.6 433.71h0" stroke="#3aa845" stroke-width="1.45" stroke-linecap="round" fill="none"/>
<path d="M123.53 478.76h0M129.42 461.2h0" stroke="#3d8bcb" stroke-width="1.45" stroke-linecap="round" fill="none"/>
<path d="M116.64 405.41h0M42.52 438.81h0M96.64 464.12h0M52.84 387.69h0M109.47 413.17h0M46.49 423.52h0M47.3 416.66h0M81.65 430.78h0M106.06 443h0" stroke="#ef7b26" stroke-width="1.45" stroke-linecap="round" fill="none"/>
<path d="M109.24 447.53h0M97.9 399.83h0" stroke="#3d8bcb" stroke-width="1.45" stroke-linecap="round" fill="none"/>
<path d="M98.47 441.66h0" stroke="#3aa845" stroke-width="1.45" stroke-linecap="round" fill="none"/>
<path d="M80.33 432.94h0" stroke="#3aa845" stroke-width="1.45" stroke-linecap="round" fill="none"/>
<path d="M133.81 451h0M68.52 417.8h0M32.75 397.05h0M87.68 459.94h0M49.24 396.94h0" stroke="#ef7b26" stroke-width="1.45" stroke-linecap="round" fill="none"/>
<path d="M121.84 404.87h0M123.05 420.06h0M118.08 446.21h0M124.13 441.98h0M124.4 422.15h0M129.51 456.77h0" stroke="#3d8bcb" stroke-width="1.45" stroke-linecap="round" fill="none"/>
<path d="M106.88 403.51h0M106.19 459.33h0M116.94 453.15h0M65.75 430.47h0M87.3 395.9h0M60.66 414.97h0M104.03 426.49h0M39.48 406.26h0M99.94 393.48h0M98.59 439.39h0" stroke="#ef7b26" stroke-width="1.45" stroke-linecap="round" fill="none"/>
<path d="M84.13 421.89h0" stroke="#3aa845" stroke-width="1.45" stroke-linecap="round" fill="none"/>
<path d="M118.61 475.51h0" stroke="#3d8bcb" stroke-width="1.45" stroke-linecap="round" fill="none"/>
<path d="M77.38 408.16h0M86.18 459.23h0M61.52 389.6h0M83.58 461.1h0M81.77 458.54h0M114.46 474.03h0M100.93 394.46h0M112.19 443.41h0M55.99 439.03h0M66.75 421.21h0" stroke="#ef7b26" stroke-width="1.45" stroke-linecap="round" fill="none"/>
<path d="M118.99 394.25h0M128.64 425.99h0" stroke="#3d8bcb" stroke-width="1.45" stroke-linecap="round" fill="none"/>
<path d="M57.77 431.52h0M89.85 406.1h0M109.66 405.39h0M47.86 444.42h0M118.16 401.27h0M84.59 413.66h0M64.95 431.42h0M45.9 427.46h0M81 403.64h0M106.88 450.02h0" stroke="#ef7b26" stroke-width="1.45" stroke-linecap="round" fill="none"/>
<path d="M70.77 400.46h0M81.67 390.91h0" stroke="#3aa845" stroke-width="1.45" stroke-linecap="round" fill="none"/>
<path d="M99.42 436.56h0M93.2 451.16h0M83.55 439.98h0M120.73 465.66h0M86.59 404.8h0M72.44 410.72h0M51.52 390.11h0" stroke="#ef7b26" stroke-width="1.45" stroke-linecap="round" fill="none"/>
<path d="M110.94 410.42h0M129.14 452.59h0M123.97 473.86h0M124.55 476.65h0" stroke="#3d8bcb" stroke-width="1.45" stroke-linecap="round" fill="none"/>
<path d="M76.3 413.82h0" stroke="#3aa845" stroke-width="1.45" stroke-linecap="round" fill="none"/>
<path d="M55.87 426.98h0M118.49 393.68h0M99.91 386.98h0M31.94 431.47h0M41.08 391.22h0M87.68 463.73h0M102.97 384.53h0M111.8 389.84h0M51.57 391.82h0M58.75 408.08h0" stroke="#ef7b26" stroke-width="1.45" stroke-linecap="round" fill="none"/>
<path d="M125.3 421.5h0M114.72 440.86h0" stroke="#3d8bcb" stroke-width="1.45" stroke-linecap="round" fill="none"/>
<path d="M116.31 474.92h0M107.48 469.21h0M83.12 453.73h0M95.69 395.37h0M74.19 386.09h0M60.01 436.14h0M113.2 480.98h0M79.15 415.54h0M121.72 460.53h0M37.56 416.74h0" stroke="#ef7b26" stroke-width="1.45" stroke-linecap="round" fill="none"/>
<path d="M111.9 463.84h0M130.64 420.09h0" stroke="#3d8bcb" stroke-width="1.45" stroke-linecap="round" fill="none"/>
<path d="M113.92 429.7h0M62.08 412.63h0" stroke="#3aa845" stroke-width="1.45" stroke-linecap="round" fill="none"/>
<path d="M54.73 440.8h0M38.44 408.61h0M109.84 409.52h0M107.73 417.18h0M119.66 416.14h0M103.94 442.58h0" stroke="#ef7b26" stroke-width="1.45" stroke-linecap="round" fill="none"/>
<path d="M115.94 400.27h0M128.16 451.89h0M103.69 433.43h0M130.68 457.43h0" stroke="#3d8bcb" stroke-width="1.45" stroke-linecap="round" fill="none"/>
<path d="M76.76 393.21h0M114.39 465.74h0M43.61 410.47h0M45.78 436.42h0M37.27 422.74h0M117.49 474.53h0M113.92 474.42h0M125.69 430.08h0M80.64 438.86h0M113.51 467.45h0M53.12 434.49h0" stroke="#ef7b26" stroke-width="1.45" stroke-linecap="round" fill="none"/>
<path d="M117.19 454.02h0" stroke="#3d8bcb" stroke-width="1.45" stroke-linecap="round" fill="none"/>
<path d="M51.3 414.1h0M78.75 388.97h0M43.86 441.76h0M39.26 435.49h0M55.97 424.06h0M33.12 413.76h0M26.71 412.94h0M78.01 403.91h0M127.14 406.49h0M40.88 405.38h0" stroke="#ef7b26" stroke-width="1.45" stroke-linecap="round" fill="none"/>
<path d="M120.73 416.95h0M127.26 427.74h0" stroke="#3d8bcb" stroke-width="1.45" stroke-linecap="round" fill="none"/>
<path d="M119.28 409.8h0M118.99 429.92h0M124.44 419.92h0" stroke="#3d8bcb" stroke-width="1.45" stroke-linecap="round" fill="none"/>
<path d="M78.72 443.19h0M63.93 456.99h0M51.79 424.71h0M74.69 448.88h0M50.65 430.25h0M63.1 415.28h0M108.7 465.84h0" stroke="#ef7b26" stroke-width="1.45" stroke-linecap="round" fill="none"/>
<path d="M110.23 439.08h0M56.33 387.33h0" stroke="#3aa845" stroke-width="1.45" stroke-linecap="round" fill="none"/>
<path d="M127.91 436.86h0M100.6 419.18h0M49.48 387.42h0M73.76 392.6h0M104.26 472.05h0M93.16 464.41h0M87.85 449.29h0" stroke="#ef7b26" stroke-width="1.45" stroke-linecap="round" fill="none"/>
<path d="M125.13 414.99h0M130.97 415.78h0M111.46 414.6h0M104.65 405.32h0" stroke="#3aa845" stroke-width="1.45" stroke-linecap="round" fill="none"/>
<path d="M120.38 474.94h0" stroke="#3d8bcb" stroke-width="1.45" stroke-linecap="round" fill="none"/>
<path d="M127.89 444.54h0" stroke="#3aa845" stroke-width="1.45" stroke-linecap="round" fill="none"/>
<path d="M70.38 443.06h0M34.74 435.88h0M99.97 454.32h0M98.56 435.76h0M129.62 447.36h0M115.26 443.86h0M81.9 407.82h0M63.67 404.15h0" stroke="#ef7b26" stroke-width="1.45" stroke-linecap="round" fill="none"/>
<path d="M132.54 446.94h0M127.32 426.36h0M110.2 467.19h0" stroke="#3d8bcb" stroke-width="1.45" stroke-linecap="round" fill="none"/>
<path d="M78.4 386.88h0" stroke="#3aa845" stroke-width="1.45" stroke-linecap="round" fill="none"/>
<path d="M30.59 398.05h0M92.74 450.42h0M39.12 402.8h0M103.83 417.89h0M120.81 443.41h0M108.53 409.35h0M80.14 392.53h0M99 427.84h0M102.85 437.7h0M116.58 390.58h0M114.57 419.83h0" stroke="#ef7b26" stroke-width="1.45" stroke-linecap="round" fill="none"/>
<path d="M94.31 420.39h0M46.93 415.34h0M103.64 428.74h0M35.98 433.43h0M85 460.01h0M63.58 410.14h0M86.41 415.46h0M93.85 396.42h0M44.07 416.53h0" stroke="#ef7b26" stroke-width="1.45" stroke-linecap="round" fill="none"/>
<path d="M103.15 427.08h0M102.11 453.06h0" stroke="#3d8bcb" stroke-width="1.45" stroke-linecap="round" fill="none"/>
<path d="M61.81 444.68h0" stroke="#3aa845" stroke-width="1.45" stroke-linecap="round" fill="none"/>
<path d="M114.83 407.54h0M103.78 421.79h0M83.89 455.61h0M77.4 435.61h0M44 443.37h0M69.38 454.6h0M80.61 426.01h0M134.9 437.58h0M42.69 410.93h0M44.65 418.78h0" stroke="#ef7b26" stroke-width="1.45" stroke-linecap="round" fill="none"/>
<path d="M119.1 470.8h0M134.58 438.97h0" stroke="#3d8bcb" stroke-width="1.45" stroke-linecap="round" fill="none"/>
<path d="M86.75 421.77h0M79.87 456.72h0M99.29 414.76h0M102.72 399.71h0M88.02 401.58h0" stroke="#ef7b26" stroke-width="1.45" stroke-linecap="round" fill="none"/>
<path d="M114.28 457.33h0M110.59 403h0M109.03 435.14h0" stroke="#3d8bcb" stroke-width="1.45" stroke-linecap="round" fill="none"/>
<path d="M100.48 402.6h0M32.3 405.42h0M90.56 428.86h0M88.75 409.89h0" stroke="#3aa845" stroke-width="1.45" stroke-linecap="round" fill="none"/>
<path d="M106.99 475.62h0" stroke="#3d8bcb" stroke-width="1.45" stroke-linecap="round" fill="none"/>
<path d="M66.39 421.87h0M95.44 429.13h0M23.04 404.07h0M131.33 427.58h0M46.37 435.52h0M95.86 454.9h0M56.03 432.83h0M50.49 435.98h0M33.54 403.07h0" stroke="#ef7b26" stroke-width="1.45" stroke-linecap="round" fill="none"/>
<path d="M115.82 459.66h0M59.39 454.96h0" stroke="#3aa845" stroke-width="1.45" stroke-linecap="round" fill="none"/>
<path d="M98.75 438.44h0M90.63 469.56h0M94.15 394.94h0M98.33 445.46h0M49.81 425.97h0M101.14 446.11h0M23.81 415.4h0M93.03 460.6h0" stroke="#ef7b26" stroke-width="1.45" stroke-linecap="round" fill="none"/>
<path d="M67.48 404.54h0" stroke="#3aa845" stroke-width="1.45" stroke-linecap="round" fill="none"/>
<path d="M100.58 422.7h0M114.28 464.51h0M106.28 459.04h0" stroke="#3d8bcb" stroke-width="1.45" stroke-linecap="round" fill="none"/>
<path d="M91.19 429.31h0M53.36 408.31h0M102.15 456.58h0M31.71 415.61h0M101 393.55h0M115.34 429.86h0M39.04 414.1h0M40.03 435.32h0M113.09 393.09h0M32.61 408.77h0M96.54 419.12h0" stroke="#ef7b26" stroke-width="1.45" stroke-linecap="round" fill="none"/>
<path d="M111.44 391.92h0" stroke="#3aa845" stroke-width="1.45" stroke-linecap="round" fill="none"/>
<path d="M90.88 469.03h0M112.32 470.24h0M54.03 418.62h0M26.14 421.33h0M60.16 420.09h0M44.14 400.38h0M45.97 423.39h0M32.72 432.99h0M68.48 391.44h0" stroke="#ef7b26" stroke-width="1.45" stroke-linecap="round" fill="none"/>
<path d="M26.42 396.68h0" stroke="#3aa845" stroke-width="1.45" stroke-linecap="round" fill="none"/>
<path d="M128.4 409.72h0M136.24 432.76h0" stroke="#3d8bcb" stroke-width="1.45" stroke-linecap="round" fill="none"/>
<path d="M35.21 407.07h0M88.29 457.6h0M112.27 413.38h0M97.59 440.88h0M50.94 425.48h0M57.22 425.21h0" stroke="#ef7b26" stroke-width="1.45" stroke-linecap="round" fill="none"/>
<path d="M117.18 437.82h0M106.2 451.4h0M120.99 476.88h0" stroke="#3d8bcb" stroke-width="1.45" stroke-linecap="round" fill="none"/>
<path d="M83.78 387.9h0M120.36 467.68h0M60.87 397.21h0" stroke="#3aa845" stroke-width="1.45" stroke-linecap="round" fill="none"/>
<path d="M116.72 416.77h0M126.9 461.65h0" stroke="#3d8bcb" stroke-width="1.45" stroke-linecap="round" fill="none"/>
<path d="M92.29 413.62h0M75.32 397.93h0M74.65 430.38h0M105.64 390.53h0M80.12 384.39h0M88.33 403.87h0M124.01 400.05h0M46.69 443.17h0M112.07 455.76h0M33.05 407.14h0" stroke="#ef7b26" stroke-width="1.45" stroke-linecap="round" fill="none"/>
<path d="M120.54 411.15h0" stroke="#3d8bcb" stroke-width="1.45" stroke-linecap="round" fill="none"/>
<path d="M136.39 443.8h0M130.43 459.19h0" stroke="#3aa845" stroke-width="1.45" stroke-linecap="round" fill="none"/>
<path d="M70.48 397.27h0M78.38 395.46h0M102.47 456.79h0M96.59 416.89h0M87.44 465.9h0M76.19 412.09h0M94.97 431.82h0M54.53 420.54h0M21.68 411.58h0" stroke="#ef7b26" stroke-width="1.45" stroke-linecap="round" fill="none"/>
<path d="M101.79 476.67h0M58.74 454.61h0M133.78 428.02h0M94.36 460.85h0M75.92 447.01h0M108.25 439.67h0M61.95 439.41h0M101.08 452.98h0M70.22 451.82h0M26.77 402.59h0" stroke="#ef7b26" stroke-width="1.45" stroke-linecap="round" fill="none"/>
<path d="M107.68 424.38h0M129.61 461.39h0" stroke="#3d8bcb" stroke-width="1.45" stroke-linecap="round" fill="none"/>
<path d="M112.87 421.41h0" stroke="#3d8bcb" stroke-width="1.45" stroke-linecap="round" fill="none"/>
<path d="M61.29 436.28h0" stroke="#3aa845" stroke-width="1.45" stroke-linecap="round" fill="none"/>
<path d="M39.22 390.28h0M86.11 447.83h0M71.5 390.38h0M127.69 452.05h0M68.69 425.67h0M60.25 398.06h0M65.32 392.31h0M101.54 395.73h0M44.36 414.75h0M125.37 442.12h0" stroke="#ef7b26" stroke-width="1.45" stroke-linecap="round" fill="none"/>
<path d="M121.45 447.98h0M129.88 415.32h0" stroke="#3aa845" stroke-width="1.45" stroke-linecap="round" fill="none"/>
<path d="M134.25 458.01h0M115.24 442.32h0" stroke="#3d8bcb" stroke-width="1.45" stroke-linecap="round" fill="none"/>
<path d="M96.41 454.98h0M62.35 401.71h0M97.22 444.36h0M102.71 385.1h0M66.49 418.46h0M48.95 422.34h0M73.27 417.87h0M53.78 411.99h0" stroke="#ef7b26" stroke-width="1.45" stroke-linecap="round" fill="none"/>
<path d="M118.97 473.19h0" stroke="#3aa845" stroke-width="1.45" stroke-linecap="round" fill="none"/>
<path d="M109.26 481.45h0M116.59 464.91h0M37.43 390.82h0M128.51 429.59h0M55.8 442.9h0M37.98 418.18h0M50.19 450.94h0M46.47 388.93h0M92.08 442.4h0M132.39 446.71h0" stroke="#ef7b26" stroke-width="1.45" stroke-linecap="round" fill="none"/>
<path d="M134.98 420.02h0" stroke="#3d8bcb" stroke-width="1.45" stroke-linecap="round" fill="none"/>
<path d="M132.78 460.65h0M52.8 393.56h0M102.49 419.39h0M119.5 476.64h0M67.85 401.01h0M39.4 437.61h0M114.24 457.7h0M60.06 430.59h0" stroke="#ef7b26" stroke-width="1.45" stroke-linecap="round" fill="none"/>
<path d="M122.58 441.51h0" stroke="#3d8bcb" stroke-width="1.45" stroke-linecap="round" fill="none"/>
<path d="M90.49 466.53h0M27.15 402.56h0M112.66 438.34h0" stroke="#3aa845" stroke-width="1.45" stroke-linecap="round" fill="none"/>
<path d="M127.46 415.34h0M127.7 465.14h0M114.4 476.84h0M104.74 456.08h0" stroke="#3d8bcb" stroke-width="1.45" stroke-linecap="round" fill="none"/>
<path d="M53.31 432.67h0M116.69 452.53h0M42.17 409.38h0M128.53 460.77h0M85.17 420.81h0M133.88 447.84h0M128.4 459.3h0M59.39 413.27h0" stroke="#ef7b26" stroke-width="1.45" stroke-linecap="round" fill="none"/>
<path d="M119.51 403.14h0" stroke="#3aa845" stroke-width="1.45" stroke-linecap="round" fill="none"/>
<path d="M101.71 416.66h0M121.64 395.53h0M124.03 458.04h0" stroke="#3d8bcb" stroke-width="1.45" stroke-linecap="round" fill="none"/>
<path d="M82.36 398.49h0M82.45 428.36h0M50.75 429.26h0M85.96 394.54h0M86.1 415.58h0M133.08 455.25h0M68.15 426.94h0M47.58 426.72h0" stroke="#ef7b26" stroke-width="1.45" stroke-linecap="round" fill="none"/>
<path d="M43.57 392.94h0" stroke="#3aa845" stroke-width="1.45" stroke-linecap="round" fill="none"/>
<path d="M117.83 459.59h0M105.95 433.05h0" stroke="#3d8bcb" stroke-width="1.45" stroke-linecap="round" fill="none"/>
<path d="M86.59 427.79h0M108.98 434.71h0M87.35 385.97h0M67.03 423.33h0M109.54 477.7h0M130.75 468.56h0M68.36 425.21h0M57.97 388.7h0M116.55 403.99h0" stroke="#ef7b26" stroke-width="1.45" stroke-linecap="round" fill="none"/>
<path d="M120.24 437.04h0" stroke="#3d8bcb" stroke-width="1.45" stroke-linecap="round" fill="none"/>
<path d="M101.77 422.64h0M53.41 418.23h0M64.89 451.71h0M41.8 400.17h0M113.14 438.32h0M86.73 442.78h0M72.99 438.21h0M81.39 399.19h0M77.92 420.96h0M75.94 446.67h0M100.98 448.22h0" stroke="#ef7b26" stroke-width="1.45" stroke-linecap="round" fill="none"/>
<path d="M50.53 435.26h0M55.1 441.37h0M24.23 407.95h0M59.4 392.08h0M60.03 433.58h0M57.51 447.83h0M71.4 399.69h0M117.48 465.28h0M70.06 431.91h0" stroke="#ef7b26" stroke-width="1.45" stroke-linecap="round" fill="none"/>
<path d="M87.53 400.95h0M107.35 384.63h0M99.98 436.53h0" stroke="#3aa845" stroke-width="1.45" stroke-linecap="round" fill="none"/>
<path d="M53.18 420.27h0M86.72 444.52h0M104.12 406.69h0M89.68 417.76h0M44.55 407.83h0M71.29 427.99h0M97.66 428.14h0" stroke="#ef7b26" stroke-width="1.45" stroke-linecap="round" fill="none"/>
<path d="M130.1 419.84h0M122.33 458.73h0M134.62 449.89h0M128.03 456.88h0M105.45 400.55h0" stroke="#3d8bcb" stroke-width="1.45" stroke-linecap="round" fill="none"/>
<path d="M55.64 387.92h0M100.88 437.67h0M27.02 415.67h0M112.43 442.05h0M81.73 420.94h0M59.69 398.65h0M91.16 472.98h0M102.35 471.67h0M89.13 394.48h0M36.05 399.2h0" stroke="#ef7b26" stroke-width="1.45" stroke-linecap="round" fill="none"/>
<path d="M70.51 393.13h0M107.42 452.09h0" stroke="#3aa845" stroke-width="1.45" stroke-linecap="round" fill="none"/>
<path d="M114.21 457.09h0M115.95 430.92h0" stroke="#3d8bcb" stroke-width="1.45" stroke-linecap="round" fill="none"/>
<path d="M92.64 411.48h0M24.98 428.79h0M118.86 403.75h0M76.96 391.1h0M98.57 438.91h0M89.68 444.46h0M60.1 427.26h0" stroke="#ef7b26" stroke-width="1.45" stroke-linecap="round" fill="none"/>
<path d="M128.78 427.69h0M96.33 456.2h0M39.49 423.71h0" stroke="#3aa845" stroke-width="1.45" stroke-linecap="round" fill="none"/>
<path d="M112.78 403.1h0" stroke="#3d8bcb" stroke-width="1.45" stroke-linecap="round" fill="none"/>
<path d="M68.4 434.59h0M75.84 415.26h0M119 411.04h0M135.7 433.71h0" stroke="#3aa845" stroke-width="1.45" stroke-linecap="round" fill="none"/>
<path d="M81.94 416.9h0M78.41 400.61h0M100.08 402.8h0M122.7 394.44h0M90.12 428.51h0M120.75 405.69h0M88.16 388.72h0" stroke="#ef7b26" stroke-width="1.45" stroke-linecap="round" fill="none"/>
<path d="M114.2 405.45h0" stroke="#3aa845" stroke-width="1.45" stroke-linecap="round" fill="none"/>
<path d="M117.14 463.43h0" stroke="#3d8bcb" stroke-width="1.45" stroke-linecap="round" fill="none"/>
<path d="M63.45 441.11h0M56.44 433.27h0M101.83 393.31h0M101.94 456.86h0M92.02 419.63h0M62.74 403h0M95.42 448.37h0M103.75 393.88h0M40.33 435.21h0M64.42 434.66h0" stroke="#ef7b26" stroke-width="1.45" stroke-linecap="round" fill="none"/>
<path d="M114.65 430.29h0M99.27 428.47h0M97.62 455.01h0M53.67 406.49h0M95.96 411.34h0M66.15 439.71h0M55.49 387.54h0M115.22 465.19h0M36.51 398.31h0" stroke="#ef7b26" stroke-width="1.45" stroke-linecap="round" fill="none"/>
<path d="M136.03 441.92h0" stroke="#3d8bcb" stroke-width="1.45" stroke-linecap="round" fill="none"/>
<path d="M91.83 412.68h0M49.05 415.3h0" stroke="#3aa845" stroke-width="1.45" stroke-linecap="round" fill="none"/>
<path d="M89.12 427.6h0M116.28 388.8h0M59.31 406.16h0M83.03 397.02h0M97.15 413.35h0M51.29 446.1h0M119.17 420.53h0M60.98 396.68h0M117.96 406.1h0M96.61 420.92h0" stroke="#ef7b26" stroke-width="1.45" stroke-linecap="round" fill="none"/>
<path d="M49.61 389.49h0" stroke="#3aa845" stroke-width="1.45" stroke-linecap="round" fill="none"/>
<path d="M102.03 478.8h0" stroke="#3d8bcb" stroke-width="1.45" stroke-linecap="round" fill="none"/>
<path d="M88.9 464.19h0M74.46 416.9h0M45.32 429.03h0M97.63 467.19h0M57.13 395.13h0M107.29 440.25h0M123.95 403.67h0M27.76 432.52h0M51.37 396.95h0" stroke="#ef7b26" stroke-width="1.45" stroke-linecap="round" fill="none"/>
<path d="M91.99 430.01h0M96.57 460.02h0" stroke="#3d8bcb" stroke-width="1.45" stroke-linecap="round" fill="none"/>
<path d="M99.17 394.54h0" stroke="#3aa845" stroke-width="1.45" stroke-linecap="round" fill="none"/>
<path d="M103.11 435.69h0M133.33 428.5h0M48.64 443.77h0M87.68 402.7h0M120.07 444.35h0M82.94 453.25h0M33.71 408.35h0M60.53 425.31h0M71.56 453.41h0M37.05 443.59h0" stroke="#ef7b26" stroke-width="1.45" stroke-linecap="round" fill="none"/>
<path d="M135.12 420.15h0M109.14 450.32h0" stroke="#3d8bcb" stroke-width="1.45" stroke-linecap="round" fill="none"/>
<path d="M120.85 459.78h0M105.65 401.6h0M97.94 389.99h0M95.55 429.11h0M41.41 395.9h0M107.26 476.87h0M79.58 455.88h0M102.49 439.41h0M101.42 423.95h0" stroke="#ef7b26" stroke-width="1.45" stroke-linecap="round" fill="none"/>
<path d="M96.66 451.3h0M114.63 463.9h0" stroke="#3d8bcb" stroke-width="1.45" stroke-linecap="round" fill="none"/>
<path d="M100.97 457.15h0" stroke="#3aa845" stroke-width="1.45" stroke-linecap="round" fill="none"/>
<path d="M105.78 465.68h0M117.16 409.03h0M122.89 445.72h0M119.02 450.6h0" stroke="#3d8bcb" stroke-width="1.45" stroke-linecap="round" fill="none"/>
<path d="M64.59 422.68h0M122.13 468.51h0M133.08 448.63h0M98.16 396.16h0M28.88 418.1h0M74.87 402.08h0M65.56 394.98h0M48.25 426.58h0" stroke="#ef7b26" stroke-width="1.45" stroke-linecap="round" fill="none"/>
<path d="M109.45 468.67h0M123.28 419.97h0" stroke="#3d8bcb" stroke-width="1.45" stroke-linecap="round" fill="none"/>
<path d="M87.34 455.81h0M100.95 460.57h0M51.28 408.85h0M100.67 444.18h0M90.79 401.77h0M68.23 455.7h0M75.37 442.22h0M24.71 401.15h0M102.51 433.09h0" stroke="#ef7b26" stroke-width="1.45" stroke-linecap="round" fill="none"/>
<path d="M54.79 410.56h0" stroke="#3aa845" stroke-width="1.45" stroke-linecap="round" fill="none"/>
<path d="M126.37 403.01h0M113.55 416.84h0" stroke="#3d8bcb" stroke-width="1.45" stroke-linecap="round" fill="none"/>
<path d="M97.66 434.76h0M113.25 470.67h0M24.68 418.46h0M33.8 396.46h0M46.99 436.08h0M106.81 386.44h0M126.69 429.5h0M62.12 436.69h0M73 456.37h0" stroke="#ef7b26" stroke-width="1.45" stroke-linecap="round" fill="none"/>
<path d="M68.71 389.82h0" stroke="#3aa845" stroke-width="1.45" stroke-linecap="round" fill="none"/>
<path d="M71.11 400.43h0M102.93 392.12h0" stroke="#3aa845" stroke-width="1.45" stroke-linecap="round" fill="none"/>
<path d="M120.25 456.4h0" stroke="#3d8bcb" stroke-width="1.45" stroke-linecap="round" fill="none"/>
<path d="M69.29 407h0M79.01 433.99h0M95.16 464.05h0M75.77 430.57h0M91.86 392.58h0M40.96 438.73h0M74.55 422.92h0M24.67 428.7h0M80.18 440.77h0" stroke="#ef7b26" stroke-width="1.45" stroke-linecap="round" fill="none"/>
<path d="M131.02 407.39h0M102.5 392.58h0" stroke="#3d8bcb" stroke-width="1.45" stroke-linecap="round" fill="none"/>
<path d="M54.44 406.61h0" stroke="#3aa845" stroke-width="1.45" stroke-linecap="round" fill="none"/>
<path d="M64.52 428.47h0M88.92 404.35h0M94.76 424.44h0M41.88 433.6h0M43.36 402.42h0M90.77 425.69h0M55 406.31h0M132.18 454.97h0M51.02 442.15h0" stroke="#ef7b26" stroke-width="1.45" stroke-linecap="round" fill="none"/>
<path d="M103.45 434.24h0M129.14 464.7h0M23.32 417.06h0M40.67 388.63h0M76.84 420.51h0M105.58 384.89h0M120.19 408.46h0M110.24 389.72h0" stroke="#ef7b26" stroke-width="1.45" stroke-linecap="round" fill="none"/>
<path d="M119.47 418.2h0" stroke="#3d8bcb" stroke-width="1.45" stroke-linecap="round" fill="none"/>
<path d="M87.68 394.93h0M67.98 407.39h0M89.63 394.01h0" stroke="#3aa845" stroke-width="1.45" stroke-linecap="round" fill="none"/>
<path d="M116.06 439.11h0M103.65 471.29h0M39.09 385.88h0M62.84 416.51h0M107 434.86h0M120.27 397.81h0" stroke="#ef7b26" stroke-width="1.45" stroke-linecap="round" fill="none"/>
<path d="M120.12 407.09h0M117.85 460.96h0M126.54 467.7h0" stroke="#3d8bcb" stroke-width="1.45" stroke-linecap="round" fill="none"/>
<path d="M121.56 451.6h0M91.06 438.78h0M86.98 422.83h0" stroke="#3aa845" stroke-width="1.45" stroke-linecap="round" fill="none"/>
<path d="M117.04 408.53h0" stroke="#3aa845" stroke-width="1.45" stroke-linecap="round" fill="none"/>
<path d="M118.21 439.37h0M47.86 406.87h0M57.67 402.84h0M113.26 478.68h0M90.64 420h0M115.4 465.14h0M95.64 438.81h0M22.5 405.59h0M44.76 408.71h0" stroke="#ef7b26" stroke-width="1.45" stroke-linecap="round" fill="none"/>
<path d="M128.12 406.04h0M132.14 420.88h0" stroke="#3d8bcb" stroke-width="1.45" stroke-linecap="round" fill="none"/>
<path d="M109.62 455.96h0" stroke="#3aa845" stroke-width="1.45" stroke-linecap="round" fill="none"/>
<path d="M117.11 448.05h0" stroke="#3d8bcb" stroke-width="1.45" stroke-linecap="round" fill="none"/>
<path d="M89.36 418.68h0M80.09 452.28h0M61.28 395.7h0M74.28 437.76h0M30.2 409.58h0M103.28 463.69h0M126.19 445.04h0M47.82 429.98h0M57.5 418.51h0M39.73 430.27h0" stroke="#ef7b26" stroke-width="1.45" stroke-linecap="round" fill="none"/>
<path d="M95.72 460.33h0" stroke="#3d8bcb" stroke-width="1.45" stroke-linecap="round" fill="none"/>
<path d="M88.56 413.53h0M94.99 424.75h0M38.7 396.51h0M105.1 445.37h0M94.34 406.65h0M100.44 404.3h0M77.57 399.14h0M68.01 425.81h0" stroke="#ef7b26" stroke-width="1.45" stroke-linecap="round" fill="none"/>
<path d="M40.06 409.11h0M109.76 475.31h0M119.61 457.42h0" stroke="#3aa845" stroke-width="1.45" stroke-linecap="round" fill="none"/>
<path d="M120.49 450.7h0" stroke="#3d8bcb" stroke-width="1.45" stroke-linecap="round" fill="none"/>
<path d="M74.89 439.72h0M63.97 398.03h0M73.67 390.88h0M29.12 401.66h0M78.12 388.04h0M110.19 425.71h0M48.75 384.68h0M92.42 464.47h0M34.94 406.24h0M63.99 406.62h0M72.45 399.31h0" stroke="#ef7b26" stroke-width="1.45" stroke-linecap="round" fill="none"/>
<path d="M85.63 418.34h0M30.56 430.09h0M121.13 425.04h0M116.73 467.72h0M72.18 453.99h0M72.75 447.1h0M120.06 402.92h0M35.43 424.87h0M116.24 398.98h0" stroke="#ef7b26" stroke-width="1.45" stroke-linecap="round" fill="none"/>
<path d="M122.24 463.65h0" stroke="#3aa845" stroke-width="1.45" stroke-linecap="round" fill="none"/>
<path d="M117.33 482.4h0M107.05 434.94h0" stroke="#3d8bcb" stroke-width="1.45" stroke-linecap="round" fill="none"/>
<path d="M74.8 404.77h0M61.57 395.49h0M96.36 464.72h0M110.84 461.37h0M62.58 423.58h0M97.34 453.72h0M105 426.54h0M80.21 425.04h0M31.92 417.28h0M100.35 442.55h0" stroke="#ef7b26" stroke-width="1.45" stroke-linecap="round" fill="none"/>
<path d="M112.81 427.45h0" stroke="#3d8bcb" stroke-width="1.45" stroke-linecap="round" fill="none"/>
<path d="M85.2 461.8h0" stroke="#3aa845" stroke-width="1.45" stroke-linecap="round" fill="none"/>
<path d="M77.5 410.32h0" stroke="#3aa845" stroke-width="1.45" stroke-linecap="round" fill="none"/>
<path d="M111.82 410.33h0" stroke="#3d8bcb" stroke-width="1.45" stroke-linecap="round" fill="none"/>
<path d="M81.82 425.72h0M79.54 400.59h0M114.81 397.24h0M84.05 424.4h0M130.56 437.34h0M118.64 408.25h0M56.63 419.08h0M63.8 386.69h0M61.87 400.42h0M51.48 452.36h0" stroke="#ef7b26" stroke-width="1.45" stroke-linecap="round" fill="none"/>
<path d="M102.39 428.88h0" stroke="#3d8bcb" stroke-width="1.45" stroke-linecap="round" fill="none"/>
<path d="M92.29 389.1h0M106.96 420.96h0M23.55 421.29h0M47.38 450.31h0M36.63 396.18h0M87.44 466.49h0M24.79 421.43h0" stroke="#ef7b26" stroke-width="1.45" stroke-linecap="round" fill="none"/>
<path d="M48.42 440.27h0M60.24 453.69h0M135.79 445.93h0M62.82 389.53h0" stroke="#3aa845" stroke-width="1.45" stroke-linecap="round" fill="none"/>
<path d="M112.38 468.44h0M80.25 437.6h0M103.47 443.6h0M30.57 420.1h0" stroke="#ef7b26" stroke-width="1.45" stroke-linecap="round" fill="none"/>
<path d="M114.94 480.45h0M108.37 457.03h0M108.94 460.32h0M119.88 435.92h0M126.35 440.1h0M114.82 431.53h0" stroke="#3d8bcb" stroke-width="1.45" stroke-linecap="round" fill="none"/>
<path d="M59.44 404.43h0M88.56 399.97h0" stroke="#3aa845" stroke-width="1.45" stroke-linecap="round" fill="none"/>
<path d="M103.9 465.01h0M67.42 425.93h0M34.52 417.59h0M100.68 423.46h0M59.15 453.34h0M32.68 408.42h0M88.97 409.88h0M24.1 427.06h0M121.18 395.2h0" stroke="#ef7b26" stroke-width="1.45" stroke-linecap="round" fill="none"/>
<path d="M69.4 424.2h0M107.11 460.56h0" stroke="#3aa845" stroke-width="1.45" stroke-linecap="round" fill="none"/>
<path d="M124.63 419.33h0" stroke="#3d8bcb" stroke-width="1.45" stroke-linecap="round" fill="none"/>
<path d="M109.3 429.08h0M61.89 400.52h0M57.43 441.54h0M90.08 402.2h0M87.39 419.21h0M66.14 439.29h0M130 470.41h0" stroke="#ef7b26" stroke-width="1.45" stroke-linecap="round" fill="none"/>
<path d="M108.2 424.31h0M101.31 411.71h0M100.99 452.76h0" stroke="#3d8bcb" stroke-width="1.45" stroke-linecap="round" fill="none"/>
<path d="M117.8 448.6h0M86.18 394.86h0" stroke="#3aa845" stroke-width="1.45" stroke-linecap="round" fill="none"/>
<path d="M92.15 408.56h0" stroke="#3aa845" stroke-width="1.45" stroke-linecap="round" fill="none"/>
<path d="M84.06 458.3h0M96.84 468.43h0M95.32 389.13h0M120.13 448.49h0M125.47 414.17h0M83.63 414.27h0M26.59 425.88h0M21.32 419.3h0" stroke="#ef7b26" stroke-width="1.45" stroke-linecap="round" fill="none"/>
<path d="M124.4 402.31h0M125.17 461.43h0M121.53 439.72h0" stroke="#3d8bcb" stroke-width="1.45" stroke-linecap="round" fill="none"/>
<path d="M125.23 432.06h0M62.09 384.7h0M112.09 410.3h0M41.55 404.84h0M58.12 440.69h0M80.52 421.06h0M35.53 404.88h0M73.77 397.54h0" stroke="#ef7b26" stroke-width="1.45" stroke-linecap="round" fill="none"/>
<path d="M36.45 401.14h0" stroke="#3aa845" stroke-width="1.45" stroke-linecap="round" fill="none"/>
<path d="M134.24 435.49h0M127.67 401.87h0M129.65 418.47h0" stroke="#3d8bcb" stroke-width="1.45" stroke-linecap="round" fill="none"/>
<path d="M86 446.62h0M50.66 402.17h0" stroke="#3aa845" stroke-width="1.45" stroke-linecap="round" fill="none"/>
<path d="M125.15 481.31h0M111.56 412.15h0" stroke="#3d8bcb" stroke-width="1.45" stroke-linecap="round" fill="none"/>
<path d="M55.12 442.43h0M98.03 385.33h0M25.57 412.74h0M76.26 419.46h0M81.36 420.77h0M134.49 419h0M105.89 472.38h0M53.69 409.99h0" stroke="#ef7b26" stroke-width="1.45" stroke-linecap="round" fill="none"/>
<path d="M63.84 415.81h0M118.38 474.15h0M103.73 384.95h0M87.88 454.4h0M64.57 435.57h0M40.12 414.95h0M84.12 418.27h0" stroke="#ef7b26" stroke-width="1.45" stroke-linecap="round" fill="none"/>
<path d="M94.06 447.04h0" stroke="#3d8bcb" stroke-width="1.45" stroke-linecap="round" fill="none"/>
<rect x="15.7" y="378.2" width="128.7" height="113.1" fill="none" stroke="#d9d9d9" stroke-width="0.8"/>
<text x="80.1" y="375" font-size="8.34" text-anchor="middle" stroke="#111111" textLength="24.18" lengthAdjust="spacingAndGlyphs">Phase</text>
<circle cx="155.3" cy="425.9" r="2.2" fill="#1f77b4"/>
<text x="165.9" y="427.66" font-size="5.67" stroke="#111111" textLength="7.76" lengthAdjust="spacingAndGlyphs">G1</text>
<circle cx="155.3" cy="434.6" r="2.2" fill="#ff7f0e"/>
<text x="165.9" y="436.36" font-size="5.67" stroke="#111111" textLength="12.51" lengthAdjust="spacingAndGlyphs">G2M</text>
<circle cx="155.3" cy="443.2" r="2.2" fill="#2ca02c"/>
<text x="165.9" y="444.96" font-size="5.67" stroke="#111111" textLength="3.49" lengthAdjust="spacingAndGlyphs">S</text>
<path d="M259.4 469.08h0" stroke="#482576" stroke-width="1.35" stroke-linecap="round" fill="none"/>
<path d="M227.56 422.97h0" stroke="#2e6d8e" stroke-width="1.35" stroke-linecap="round" fill="none"/>
<path d="M213.57 430.74h0M202.24 403.87h0M249.61 455.64h0M258.99 395.03h0" stroke="#2a778e" stroke-width="1.35" stroke-linecap="round" fill="none"/>
<path d="M248.5 424.61h0M227.81 398.57h0M231.59 399.85h0M224.22 425.84h0M203.6 403.14h0M271.19 476.53h0M210.12 388.72h0M202.56 440.71h0M252.85 465.93h0M243.97 450.05h0M213.65 422.25h0M224.4 387.7h0M194.18 424.66h0M228.57 397.3h0M202.85 433.22h0M283.99 471.23h0M269.71 472.4h0M223.65 387.64h0" stroke="#26828e" stroke-width="1.35" stroke-linecap="round" fill="none"/>
<path d="M203.13 413.51h0M255.58 426.69h0M264.31 454.35h0M214.79 436.47h0M263.66 408.21h0M212.17 419.66h0M219.33 429.31h0M253.45 446.95h0M248.01 385.07h0M208.64 437.55h0M218.87 431.33h0M230.89 404.63h0M192.97 420.87h0M216.14 417.34h0M281.36 408.32h0M229.07 392.7h0M289.33 458.8h0M253.45 418.52h0M260.67 439.11h0M226.43 424.3h0M257.48 473.32h0M231.27 420.78h0M254.85 416.39h0M255.16 434.67h0M200.87 393.68h0M237.12 451.86h0M270.74 457.73h0M227.25 388.16h0M270.81 435.2h0M221.55 449.29h0M232 456.13h0M219.58 442.2h0M249.69 413.65h0M276.41 477.52h0M209.57 427.66h0M197.29 430.7h0M251.63 447.87h0M216.07 403.91h0M227.91 403.5h0M261.2 460.04h0M216.08 397.51h0" stroke="#228b8d" stroke-width="1.35" stroke-linecap="round" fill="none"/>
<path d="M241.37 402.16h0M235.1 425.87h0M239.1 437.1h0M246.15 384.4h0M210.92 404.92h0M273.05 477.71h0M255.05 406.18h0M228.17 386.73h0M248.82 397.1h0M222.33 418.68h0M267.01 457.24h0M205.89 399.28h0M202.04 420.02h0M255.26 422.22h0M236.74 419.07h0M235.61 455.43h0M246.62 426.07h0M224.06 452.89h0M273.65 457h0M227.19 431.76h0M232.22 423.6h0M270.28 453.97h0M249.76 424.46h0M232.77 437.01h0M229.97 426.2h0M211.52 413.77h0M242.69 440.9h0M215.62 443.21h0M255.99 469.05h0M237.32 449.61h0M260.42 460.35h0M209.04 423.77h0M245.91 452.96h0M199.39 396.39h0M253.29 395.4h0M263.32 435.11h0M260.55 454.94h0M247.79 407.9h0M257.57 391.26h0M214.94 423.47h0M247.28 399.84h0M255.03 444.69h0M213.49 414.82h0M230.35 389.62h0M220.08 391.91h0M203.72 406.73h0M237.11 445.48h0M245.71 385.91h0M275.59 470.26h0M280.17 482.41h0M209.85 408.92h0M224 430.1h0M237.1 425.71h0M264.7 462.64h0M254.15 460.71h0M255.89 425.75h0M229.51 400.6h0M243.62 448h0M202.73 404.49h0M279.23 474.94h0M253.38 401.66h0M215.7 394.95h0M207.63 433.05h0M263.57 394.63h0M202.58 404.51h0M218.29 389.58h0M225.09 425.81h0M221.4 435.79h0M217.73 399.18h0M198.16 412.92h0M243.68 435.66h0M206.32 398.39h0M279.75 471.12h0M213.05 434.74h0M219.9 397.03h0M230.38 424.75h0M217.77 415.37h0M207.66 418.24h0M217.76 396.59h0M233.62 421.93h0M262.41 399.91h0M200.74 403.36h0M215.52 439.14h0M256.53 442.81h0M205.98 431.04h0M243.65 394.92h0M228.85 414.49h0M256.92 458.79h0M230.05 457.5h0M220.54 452.7h0M224.05 417.97h0M254.2 404.42h0M209.68 436.65h0M213.4 447.54h0M235.06 435.53h0M234.37 390.66h0M254.65 419.23h0M218.55 418.38h0M223.17 410.48h0M271.16 469.23h0M230.39 454.24h0M285.77 464.45h0M211.81 420.64h0M197.64 415.74h0M219.13 435.31h0M201.3 428.1h0M210.12 418.01h0M269.43 467.47h0M213.29 400.46h0M243.44 403.83h0M222.02 410.06h0M199.66 420.17h0M261.44 468.45h0M216.18 416.73h0M226.32 451.71h0M269.98 459.35h0M237.24 419.9h0M217.5 384.78h0M257.83 459.57h0M225.24 425.27h0M208.62 420.25h0M206.27 409.67h0M206.88 435.55h0M215.89 436.13h0M197.47 402.01h0M221.99 406.56h0M269.52 420.53h0M211.18 409.7h0M246.91 395.93h0M271.39 417.24h0M203.77 433.82h0M211.55 385.94h0M194.26 417.13h0M230.38 416.57h0M222.85 403.45h0M277.46 474.25h0" stroke="#1f958b" stroke-width="1.35" stroke-linecap="round" fill="none"/>
<path d="M285.07 394.52h0M241.16 430.43h0M209.26 430.32h0M236.6 452.41h0M238.21 444.95h0M230.94 441.15h0M203.15 407.21h0M232.14 449.58h0M256.22 437.43h0M234.56 425.99h0M265.96 476.68h0M231.43 406.69h0M197.25 425.93h0M271.73 432.81h0M200.56 423.02h0M204.1 400.52h0M202.67 402.64h0M222.47 408.23h0M279.04 473.75h0M217.04 426.64h0M226.4 424.25h0M245.6 409.96h0M231.37 457.02h0M227.23 413.34h0M226.01 425.56h0M219.82 446.14h0M233.01 431.51h0M250.4 410.17h0M256.89 429.19h0M214.77 441.7h0M255.56 429.13h0M232.86 395.07h0M227.47 447.54h0M261.61 474.22h0M218.63 391.6h0M246.94 438.49h0M236.98 392.54h0M233.3 419.78h0M270.07 459.07h0M257.96 460.63h0M233.55 407.51h0M215.02 407.47h0M229.21 395.58h0M211.12 432.06h0M218.47 426.03h0M220.23 440.01h0M215.4 452.49h0M225.43 441.59h0M206.55 401.98h0M283.07 483.48h0M209.03 406.34h0M277.56 469.7h0M227.9 391.56h0M242.33 447.05h0M272.08 474.59h0M198.45 418.97h0M201.62 390.47h0M251.88 458.58h0M194.71 415.47h0M206.84 444.09h0M256.2 426.62h0M240.47 408.47h0M272.54 403.55h0M229.94 452.47h0M235.42 425.27h0M258.57 453.26h0M263.01 435.81h0M204.74 434.6h0M235.56 417.87h0M196.84 421.39h0M233.71 418.53h0M239.43 447.14h0M204.78 402.02h0M225.49 418.58h0M262.69 402.8h0M208.96 437.65h0M281.44 483.7h0M260.12 455.32h0M284.39 469.57h0M266.41 476.38h0M263.4 437.67h0M194.97 427.11h0M276.42 448.52h0M238.85 410h0M218.71 388.55h0M192.66 415.82h0M247.63 421h0M227.15 404.47h0M227.86 409.14h0M245.67 455.91h0M233.37 451.14h0M255.1 392.75h0M222.7 406.69h0M204.93 404.45h0M247.62 409.37h0M204.95 428.15h0M266.81 385.19h0M248.99 441.06h0M237.62 400.54h0M234.95 401.09h0M204.53 425.45h0M235.47 431.56h0M253.26 454.43h0M258.47 461.96h0M271.43 417.41h0M279.78 469.28h0M276.96 482.73h0M200.37 433.09h0M227.83 430.64h0M217.16 438.06h0M213.61 440.12h0M204.62 388.57h0M226.56 432.05h0M200.9 398.13h0M278.78 459.69h0M233.39 439.33h0M265.19 460.6h0M247.85 438.46h0M254.77 407.54h0M221.55 420.33h0M270.72 475.63h0M230.32 442.31h0M269.31 433.43h0M243.66 389.89h0M272.46 407.16h0M246.05 418.73h0M266.59 456.82h0M211.59 431.82h0M255.91 433.58h0M231.14 404.23h0M244.88 443.23h0M194.25 422.78h0M221.08 386.62h0M267.78 421.85h0M267.39 421.91h0M222.04 423.86h0M210.99 448.2h0M256.09 427.29h0M262.27 469.94h0M273.25 475.32h0M207.55 391.45h0M261.05 455.01h0M275.47 443.45h0M203.42 404.46h0M219.24 430.3h0M251.7 394.95h0M226.1 384.51h0M232.11 449.15h0M240.27 390.97h0M197.73 399.95h0M262.56 424.07h0M207.01 422.8h0M249.88 416.04h0M277.52 482.64h0M254.99 393.64h0M225.5 447.87h0M236.22 392.9h0M214.75 441.59h0M252.93 401.03h0M265.96 451.8h0M253.48 417.18h0M228.95 395.79h0M227 453.38h0M221.24 387.79h0M235.26 408.93h0M242.94 400.66h0M228.57 396h0M277.49 478.09h0M248.85 406.3h0M246.17 384.48h0M253.07 459.97h0M258.06 403.38h0M224.15 432.88h0M253.45 418.9h0M255.31 389.15h0M210.42 408.97h0M227.27 404.5h0M226.04 458.08h0M220.44 420.03h0M213.13 412.95h0M272.68 450.36h0M249.33 461.13h0M276.45 478.69h0M223.47 424.35h0M276.08 448.28h0M255.92 401.85h0M265.89 416.73h0M221.72 408.38h0M244.92 426.39h0M257.09 442.45h0M225.65 402.91h0M215.21 450.42h0M293.73 455.01h0M223.32 442.48h0M280.59 448.64h0M223.21 406.38h0M195.99 422.66h0M253.47 461.41h0M250.17 420.69h0M212.76 393.03h0M210.99 391.58h0M196.32 412.81h0M219.01 444.91h0M230.58 455.56h0M249.47 438.24h0M261.55 454.76h0M259.73 450.71h0M245.81 408.33h0M263.04 439.43h0M249.22 407.77h0M193.51 405.67h0M237.86 410.97h0M200.55 409.65h0" stroke="#1fa088" stroke-width="1.35" stroke-linecap="round" fill="none"/>
<path d="M230.81 422.55h0M219.52 443.82h0M249.81 386.35h0M208.31 396.59h0M199.91 416.16h0M195.24 427.74h0M224.92 445.27h0M198.32 432.57h0M192.87 414.7h0M213.53 451.73h0M244.33 425.26h0M224.7 419.15h0M252.19 444.56h0M252.05 463.14h0M231.24 396.59h0M250.8 461.83h0M246.17 385.46h0M202.81 408.49h0M231.82 434.71h0M205.76 392h0M201.9 416.46h0M258.9 447.08h0M260.94 387.24h0M235.46 434.64h0M239.91 400.34h0M244.33 388.14h0M249.28 436.8h0M254.18 464.21h0M210.83 445.96h0M217.46 408.31h0M201.07 409.51h0M252 396.09h0M226.41 408.59h0M197.01 416.33h0M292.48 466.89h0M283.65 455.45h0M217.92 401.91h0M254.9 444.51h0M254.61 418.74h0M259.16 406.72h0M219.09 436.03h0M247.72 425.78h0M272.96 468.69h0M249.5 407.56h0M211.39 410.56h0M251.91 415.53h0M211.73 391.37h0M202.9 412.93h0M252.44 422.9h0M259.94 386.83h0M244.98 384.09h0M244.59 386.98h0M262.89 475.28h0M221.49 434.55h0M281.09 473.47h0M277.34 453.6h0M292.14 448.62h0M257.04 393.26h0M220.03 390.2h0M217.85 392.5h0M286.71 469.24h0M239.72 399.53h0M285.31 414.35h0M276.94 409.59h0M263.42 432.5h0M211.31 395.23h0M211.05 442.55h0M202.45 442.39h0M214.5 417.11h0M218.29 423.47h0M250.2 405.69h0M218.65 419.87h0M208.09 395.87h0M218.91 384.63h0M230.59 455.64h0M201.18 412.32h0M218.39 409.09h0M213.03 441.81h0M264.87 433.76h0M274.85 440.17h0M215.41 389.02h0M236.58 416.54h0M291.74 470.43h0M229.71 414.85h0M230.72 423.72h0M263.71 387.65h0M231.3 431.5h0M243.84 399.22h0M259.18 460.88h0M260.54 454.75h0M235.53 391.53h0M260.14 448.41h0M223.29 393.36h0M203.88 425.45h0M244.67 384.23h0M276.29 393.18h0M238.35 453.44h0M225.32 413.3h0M219.45 421.59h0M215.28 414.04h0M250.63 460.04h0M270.35 403.01h0M215.59 401.38h0M274.97 431.85h0M245.56 452.56h0M236.03 454.58h0M220.11 389.59h0M252.16 388.24h0M213.61 408.81h0M228.63 390.34h0M239.7 388.35h0M206.8 443.63h0M264.37 470.79h0M220.26 400.53h0M203.84 396.55h0M250.78 420.88h0M283.75 478.72h0M242.78 394.62h0M260.02 475.39h0M255.96 385.25h0M206.9 404.13h0M249.43 422.26h0M248.9 383.83h0M246.63 404.96h0M223.29 405.54h0M267.16 435.9h0M205.94 400.76h0M228.26 425.37h0M241.87 398.6h0M267.83 417.96h0M290.35 470.78h0M206.7 434.47h0M252.8 463.32h0M222.88 434.24h0M254.41 469.22h0M232.35 452.88h0M249.76 458.33h0M269.65 477.34h0M286.29 472.66h0M249.1 414.96h0M206.86 442.33h0M210.13 413.77h0M211.48 409.45h0M203.48 412.73h0M279.98 396.25h0M201.93 415.68h0M220.24 384.39h0M284.88 456.04h0M282.63 454.78h0M240.15 413.3h0M282.14 481.21h0M229.05 439.89h0M277.99 458.14h0M236.91 407.6h0M260.9 455.38h0M226.63 454.64h0M260.98 456.23h0M227.92 420.15h0M243.09 393.29h0M276.21 453.43h0M248.8 458.16h0M277.48 465.76h0M252.77 386.06h0M249.88 388.51h0M277.38 457.36h0M227.52 396.58h0M218.66 448.87h0M229.49 400.5h0M262.12 440.93h0M217.68 422.4h0M269.95 420.07h0M242.67 413.89h0M226.64 408.15h0M244.15 421.02h0M200.88 430.14h0M200.05 407.06h0M246.64 438.91h0M262.2 428.2h0M219.83 414.16h0M197.21 427.12h0M235.3 455.74h0M212.8 410.54h0M252.99 461.87h0M256.67 430.09h0M220.23 450h0M230.29 403.07h0M219.36 437.27h0M258.03 423.17h0M242.48 448.16h0M231.05 410.21h0M267.67 471.31h0M263.68 414.83h0M265.61 445.95h0M237.93 400.52h0M247.82 415.29h0M233.03 430.52h0M254.35 415.13h0M262.21 451.68h0M262.94 397.14h0M282.73 448.53h0M249.3 440.03h0M237.79 420.77h0M243.04 401.76h0M248.54 431.72h0M259.54 424.5h0M232.16 424.81h0M276.93 396.95h0M283.83 474.01h0M222.19 403.61h0M226.93 436.62h0M216.72 425.31h0M197.75 431.92h0M265.25 393.64h0M277.05 474.44h0M237.79 396.21h0M260.27 468.56h0M282.63 485.89h0M277.7 404.4h0M235.71 406.07h0M224.08 408.02h0M262.65 437.09h0M221.76 418.29h0M253.11 435.09h0M255.41 435.4h0M287.45 457.61h0M282.44 462.11h0M215.84 415.41h0M287.6 438.36h0M287.31 481.32h0M204.51 404.52h0M283.11 453.94h0M252.21 400.08h0M264.28 393.57h0M212.52 449.05h0M244.6 400.69h0M283.82 459.11h0M267.28 459.85h0M219.47 410.19h0M273.66 465.87h0M246.53 421.12h0M233.4 439.75h0M267.35 447.88h0M282.78 449.29h0M209.55 406.52h0M238.71 387.96h0M247.26 443.69h0M200.04 436.72h0M249.26 437.16h0M259.82 472.64h0M225.16 395.22h0M255.59 451.81h0M247.62 396.8h0M262.53 385.42h0M235.74 389.91h0M256.69 450.77h0M248.9 453.77h0M203.73 419.98h0M247.67 458.57h0M290.46 461.83h0M259.35 467.64h0M267.5 443.64h0M261.93 385.26h0M245.63 405.13h0M214.96 423.45h0M256.63 407.96h0M248.74 453.28h0M256.25 473h0M244.02 421.61h0M267.91 462.41h0M253.07 463.75h0M209.65 397.27h0M244.89 428.24h0M260.47 458.34h0M250.72 415.46h0M264.88 419.24h0M281.03 475.83h0M218.94 401.1h0M257.59 426.24h0M257.02 461.51h0M200.84 401.44h0M279.99 463.45h0M259.09 456.97h0M278.87 467.56h0M255.3 428.57h0M274.79 392.01h0M272.42 401.94h0M252.12 436.71h0M234.64 392.83h0M240.99 416.97h0M211.15 400.25h0M210.81 442.99h0M289.1 437.9h0M251.56 423.77h0M237.28 386.05h0M259.5 407.46h0M244.91 389.06h0M203.76 408.42h0M206.26 401.21h0M257.92 453.31h0M195.49 428.76h0M219.99 418.71h0M228.55 385.5h0M247.38 434.76h0M252.2 442.83h0M202.01 442.2h0M239.15 410.79h0M218.56 444.73h0M217.95 397.02h0M280.79 466.04h0M210.81 389.54h0M235.58 404.69h0M227.23 392.17h0M193.14 408.12h0M262.18 413.17h0M259.5 403.79h0M202.47 405.5h0M268.1 406.76h0M240.66 412.97h0M248.29 428.41h0M213.68 387.42h0M276.71 416.9h0M233.01 424.13h0M291.4 446.23h0M248.97 448.47h0M244.3 394.2h0M231.42 443.02h0M218.47 414.42h0M271.38 391.49h0M269.55 422.8h0M260.49 408.44h0M247.83 416.96h0M206.36 421.49h0M226.75 444.67h0M250.02 434.96h0M237.4 426.96h0M209.53 435.37h0M279.81 453.18h0M202.06 421.81h0M245.93 456.75h0M255.56 448.88h0M248.43 461.36h0M253.55 385.22h0M261.21 416.96h0" stroke="#23a983" stroke-width="1.35" stroke-linecap="round" fill="none"/>
<path d="M197.12 405.71h0M268.86 399.36h0M243.77 410.39h0M266.72 398.3h0M255.96 419.28h0M226.59 409.93h0M196.27 426.35h0M215.32 435.57h0M238.01 451.14h0M199.34 418.16h0M221.36 396.95h0M252.07 439.07h0M202.9 404.73h0M261.42 400.01h0M269.15 478.75h0M270.61 450.05h0M269.98 474.93h0M211.36 449.06h0M261.82 428.56h0M253.24 422.94h0M286.24 473.88h0M286.07 475.2h0M263.27 463.67h0M220.69 385.65h0M290.28 459.33h0M266.94 435.32h0M257.6 411.55h0M242.57 412.16h0M255.67 471.93h0M229.43 395.12h0M251.24 418.87h0M276.98 435.84h0M258.59 467.15h0M223.48 453.88h0M225.18 422.42h0M209.02 448.13h0M197.56 419.27h0M238.09 428.05h0M284.56 474.9h0M209.02 409.34h0M208.79 390.37h0M220.95 389.87h0M246.18 392.62h0M239.66 456.4h0M258.35 388.71h0M234.07 440.36h0M266.19 478.81h0M202.14 431.53h0M260.48 392.62h0M212.57 434.01h0M245.22 389.28h0M264.06 451.93h0M253.7 413.02h0M232.25 451.75h0M204.88 406.31h0M243.34 438.28h0M226.51 457.36h0M219.59 450.98h0M251.38 429.48h0M263.36 444.74h0M246.28 437.65h0M217.1 420.36h0M247.58 391h0M260.05 453.63h0M231.65 409.53h0M288.12 473.54h0M259.75 424.81h0M219.25 402.25h0M243.27 391.19h0M258.68 463.33h0M222.1 412.06h0M294.28 460.68h0M247.87 421.96h0M267.33 463.71h0M252.09 451.7h0M288.91 461.67h0M211.23 433.65h0M252.07 427.84h0M264.87 471.05h0M223.94 442.94h0M258.83 414.52h0M249.76 410.37h0M228.59 400.69h0M272.46 468.88h0M289.51 470.35h0M275.55 399.43h0M256.73 447.11h0M266.48 471.68h0M273.75 447.41h0M261.15 472.76h0M252.34 460.04h0M236.27 407.07h0M274.97 438.85h0M238.1 414.28h0M259.73 431.87h0M270.25 450.6h0M213.62 420.16h0M230.12 386.64h0M252.76 455.84h0M224.28 409.28h0M218.97 424.65h0M218.02 395.44h0M275.64 468.46h0M242.19 430.62h0M220.12 408.72h0M270.05 439.34h0M234.04 407.75h0M256.36 430.21h0M252.8 419.27h0M284.55 468.53h0M270.88 415.9h0M214.36 429.09h0M239.36 395.64h0M249.28 445.57h0M237.38 427.62h0M238.94 425.46h0M228.6 400.95h0M279.67 482.07h0M249.37 414.34h0M253.88 454.52h0M280.31 474.55h0M207.07 405.03h0M222.36 421.44h0M238.9 394.31h0M227.65 428.83h0M205.44 410.24h0M223.05 429.57h0M221.32 408.21h0M271.1 473.39h0M199.56 401.74h0M218.68 408.72h0M276.79 392.59h0M271.9 387.58h0M229.75 448.06h0M275.54 413.45h0M246.43 458.98h0M256.94 423.22h0M220.28 424.76h0M203.3 433.56h0M213.27 427.85h0M264.7 403.23h0M272.27 465.87h0M282.44 410.74h0M253.87 405.43h0M290.96 464.73h0M266.94 437.75h0M260.35 438.86h0M241.38 439.76h0M228.44 399.59h0M224.53 433.32h0M270.77 434.99h0M248.21 398.57h0M278.01 457.23h0M207.92 397.31h0M244.94 405.81h0M278.34 429.91h0M240.74 386.18h0M277 435.95h0M210.55 416.88h0M231.91 428.53h0M277.98 480.46h0M270.67 475.04h0M207.34 446.69h0M268.62 401.68h0M253.79 435.89h0M269.29 429.95h0M226.63 396.75h0M252.3 386.05h0M212.76 430.16h0M208.73 404.02h0M246.95 448.42h0M280.64 460.99h0M244.03 398.66h0M276.67 481.14h0M245.98 448.85h0M277.9 413.49h0M204.14 432.88h0M283.48 483.48h0M229.44 444.72h0M235.94 440.31h0M242.34 446.71h0M221.54 433.9h0M276.07 466.61h0M205.35 412.08h0M261.67 467.16h0M246.13 452.32h0M265.81 401.15h0M227.09 400.88h0M268.29 444.62h0M272.53 434.76h0M267.57 415.38h0M231.91 432.08h0M247.63 431.7h0M257.15 408.64h0M262.63 454.85h0M291.21 461.23h0M229.16 456.21h0M214.29 396.85h0M286.74 427.71h0M230.77 388.87h0M203.85 413.68h0M216.43 426.77h0M257.4 464.5h0M253.1 411.05h0M256.6 436.2h0M242.11 411.26h0M233.61 432.47h0M273.62 443.18h0M254.61 421.23h0M254.75 415.59h0M247.21 393.69h0M254.05 409.96h0M255.66 426.43h0M247.8 428.33h0M266.57 463.9h0M289.45 458.21h0M242.64 419.53h0M291.2 426.72h0M213.24 399.8h0M257.02 436.4h0M236.42 391.51h0M266.81 399.79h0M202.86 433.04h0M210.79 395.98h0M275.38 410.37h0M221.18 415.34h0M209.8 435.26h0M212.83 447.67h0M224 427.04h0M203.22 413.83h0M204.7 435.93h0M259.98 410.53h0M205.33 424.93h0M267.76 393.96h0M286.76 476.66h0M245.48 434.18h0M262.08 475.43h0M285.99 482.95h0M264.76 387.59h0M278.7 459.28h0M197.51 416.76h0M282.63 476.15h0M197.76 402.64h0M236.13 410.97h0M276.4 480.99h0M236.27 393.6h0M256.25 419.96h0M246.7 385.21h0M218.82 450.97h0M228.03 385.08h0M223.52 428.13h0M233.67 416.58h0M209.24 429.54h0M258.95 401.38h0M268.66 398.42h0M197.09 396.76h0M289 421h0M267.23 430.08h0M284.03 451.64h0M237.26 443.1h0M269.12 433.9h0M277.54 450.83h0M229.31 401.54h0M261.26 464.15h0M262.07 411.28h0M216.69 444.46h0M262.42 450.88h0M292.31 465.5h0M268.79 468.43h0M212.18 414.46h0M252.08 424.05h0M212.68 423.9h0M271.25 445.61h0M207.53 404.44h0M245.73 423.25h0M292.42 468.58h0M205.66 387.02h0M208.83 435.54h0M217.52 390.5h0M216.99 433.44h0M216.65 430.04h0M203.83 404.69h0M262.2 434.81h0M234.16 398.94h0M210.31 405.46h0M282.14 435.59h0M215.33 386.65h0M267.23 403.02h0M262.48 463.92h0M264.5 390.7h0M241.65 450.07h0M237.84 445.88h0M270.96 476.88h0M288.5 459.22h0M213.22 416.59h0M278.77 466.02h0M236.17 446.92h0M264.03 433.52h0M280.99 429.22h0M193.84 421.95h0M229.43 397.98h0M279.21 388.89h0M196.13 399.91h0M245.63 400.67h0M223.02 438.99h0M258.54 409h0M241.78 398.01h0M249.62 410.17h0M269.43 384.98h0M214.94 431.21h0M261.96 401.91h0M206.61 405.64h0M259.49 474.18h0M195.17 413.94h0M221.3 407.57h0M265.63 424.01h0M282.25 457.45h0M240.55 421.96h0M255.97 400.87h0M262.17 467.21h0M271.35 424.44h0M229.57 439.68h0M229.23 419.65h0M228.2 425.71h0M266.11 403.37h0M217.29 384.99h0M252.17 415.52h0M262.45 390.08h0M281.43 476.24h0M221.2 393.64h0M286.64 466.65h0M224.33 415.81h0M256.86 412.75h0M289.66 469.15h0M278.07 432.67h0M253.67 403.95h0M261.79 444.4h0M220.85 395.07h0M263.84 420.5h0M229.46 403.65h0M282.72 407.16h0M260.66 399.18h0M234.87 401.86h0M232.17 397.96h0M261.88 412.6h0M267.17 435.74h0M230.38 447.11h0M241.62 397.47h0M223.67 391.38h0M233.89 418.96h0M234.2 423.39h0M234.21 414.1h0M226.06 440.74h0M284.74 458.76h0M260.92 438.88h0M205.4 407.98h0M279.27 459.03h0M287.44 465.52h0M215.3 413.75h0M258.47 384.12h0M261.15 404.12h0M275.05 385.25h0M264.14 461.67h0M269.51 401.99h0M218.17 387.51h0M283.18 445.17h0M214.27 416.69h0M233.39 412.01h0M269.49 401.68h0M276.66 411.3h0M226.34 399.11h0M240.73 393.95h0M204.5 417.66h0M254.34 438.64h0M217.2 440.32h0M272.58 435.19h0M266.73 430.55h0M242.04 395.78h0M276.4 458.29h0M248.39 410.7h0M228.01 398.14h0M224.42 387.42h0M283.57 474h0M266.08 384.16h0M274.1 441.15h0M216.25 450.35h0M265.16 405.41h0M289.71 454.62h0M211.96 411h0M222.78 420.61h0M257.6 399.98h0M211.81 438.86h0M199.14 425.04h0M250.98 391.96h0M264.79 454.01h0M276.68 467.47h0M272.87 391.04h0M262.95 385.71h0M208.7 402.88h0" stroke="#2eb37c" stroke-width="1.35" stroke-linecap="round" fill="none"/>
<path d="M260.16 429.18h0M247.33 399.28h0M235.23 427h0M200.26 415.95h0M231.04 401.73h0M229.71 436.74h0M273.64 425.77h0M267.89 465.04h0M205.42 404.96h0M247.45 443.1h0M287.27 440.64h0M274.03 410.12h0M249.83 421.95h0M260.39 395.46h0M247.89 427.65h0M283.78 472.38h0M243.14 392.05h0M282.45 397.89h0M207.38 442.86h0M277.03 443.5h0M236.97 431.96h0M192.76 411.65h0M291.38 461.42h0M278.26 442.36h0M244.22 416.78h0M249.5 388h0M281.78 470.81h0M197.93 415.93h0M214.03 394.36h0M276.15 413.37h0M214.12 442.98h0M271.77 400.61h0M282.67 431.66h0M224.12 439.08h0M219.64 420.33h0M220.39 420.94h0M270.83 460.58h0M261.75 429.29h0M229.68 412.7h0M249.08 406.16h0M214.49 443.4h0M230.14 423.64h0M225.98 437.13h0M242.26 415.32h0M205.81 444.54h0M249.64 391.82h0M262.8 445.5h0M245.91 392.36h0M237.25 409.13h0M294.56 455.28h0M251.66 461.68h0M208.63 414.17h0M277.54 474.04h0M277.31 461.09h0M208.76 437.15h0M282.41 393.67h0M199.8 400.78h0M238.74 445.47h0M262.55 426.03h0M280.04 454.06h0M268.99 445.41h0M221.88 401.72h0M267.31 468.01h0M208.08 408.69h0M255.32 442.76h0M254.39 427.66h0M240.92 410.43h0M236.37 424.26h0M251.44 422.13h0M225.22 451.68h0M272.48 397.15h0M223.89 410.06h0M284.19 471.39h0M264.4 402.88h0M289.43 447.9h0M273.91 468.89h0M269.81 425.2h0M231.41 398.11h0M227.5 398.73h0M224.63 385.31h0M286.62 422.21h0M201.26 410.18h0M267.21 427.14h0M269.57 478.55h0M262.08 395.18h0M256.53 403.44h0M205.42 442.61h0M284.62 468.47h0M258.25 441.77h0M273.68 389.81h0M197.69 410.35h0M225.16 407.54h0M261.72 413.42h0M269.51 395.34h0M222.64 428.44h0M253.86 457.49h0M277.04 441.91h0M222.14 436.51h0M195.61 421.49h0M292.01 461.52h0M282.83 437.09h0M273.72 455.23h0M250.25 413.73h0M293.8 420.47h0M296.73 433.03h0M279.62 436.53h0M248 396.56h0M276.39 473.33h0M254.12 394.41h0M265.06 461.51h0M208.47 391.99h0M270.9 404.28h0M291.61 465.88h0M254.33 440.73h0M275.55 463.56h0M267.73 385.04h0M271.09 439.74h0M269.61 458.75h0M242.34 432.5h0M230.73 430.77h0M259.95 416.91h0M244.57 395.54h0M273.12 455.99h0M278.23 465.21h0M196.49 411.48h0M280.41 442.32h0M266.9 426.22h0M266.06 469.19h0M214.9 427.51h0M272.38 479.48h0M279.58 452.56h0M212.73 413.1h0M231.29 415.88h0M283.93 448.02h0M202.39 408.47h0M276.5 476.08h0M275.74 388.67h0M266.6 419.46h0M196.77 431.09h0M252.22 421.84h0M233.95 421.28h0M205.32 434.82h0M259.66 388.91h0M206.58 399.35h0M262.16 455.04h0M228.29 407.17h0M280.3 465.3h0M238.53 406.02h0M260.73 476.61h0M220 452.4h0M239.16 399.39h0M279.96 448.09h0M232.79 429.11h0M281.02 413.16h0M238.56 419.59h0M241.21 448.92h0M261.95 454.77h0M295.63 458.04h0M271.16 439.74h0M288.46 459.08h0M202.03 400.02h0M257.05 387.3h0M257.24 391.29h0M279.32 429.95h0M208.22 404.85h0M219.5 425.54h0M240.92 412.74h0M228 453.72h0M294.91 455.62h0M268.5 391.6h0M254.25 409.95h0M296.29 420.09h0M286.26 455.3h0M283.38 459.81h0M225.34 402.4h0M265.37 446.15h0M203.08 399.25h0M258.53 456.54h0M271.11 452.12h0M266.89 462.33h0M204.32 424.11h0M257.82 392.45h0M259.82 393.53h0M230.68 402.72h0M216.58 400.52h0M203.22 388.11h0M251.54 446.66h0M264.93 406.1h0M253.07 395.02h0M270.78 414.63h0M215.98 385.68h0M281.39 473.31h0M197.36 413.01h0M281.04 432.99h0M286.27 400.13h0M288.26 445.08h0M192.44 419.37h0M223.02 410.63h0M268.22 472.07h0M220.75 433.49h0M207.89 438.51h0M251.47 461.47h0M259.81 428.23h0M238.19 399.77h0M231.99 439.36h0M271.46 411.47h0M216.41 402.37h0M215.86 394.1h0M247.56 430.83h0M271.97 457.06h0M281.47 476.26h0M263.19 465.58h0M283.28 465.68h0M271.9 402.82h0M239.65 438.26h0M236.86 437.45h0M273.65 467.21h0M277.34 386.78h0M256.28 429.36h0M222.61 413.35h0M249.8 410.72h0M260.83 419.8h0M291.84 467.04h0M243.03 417.45h0M222.07 401.41h0M228.67 396.76h0M282.12 447.03h0M272.32 442.1h0M224.1 424.12h0M202.61 409.31h0M252.85 466.51h0M239.91 417.93h0M225.91 396.17h0M277.32 457.12h0M248.93 423.03h0M279.8 437.36h0M227.9 436.63h0M232.3 431.47h0M229.13 396.95h0M216.78 407.08h0M242.61 424.69h0M227.81 433.63h0M238.91 454.02h0M237.03 421.97h0M265.87 396.8h0M207.28 416.81h0M270.06 435.38h0M211.31 440.06h0M270.6 391.52h0M260.26 429.17h0M249.7 410.07h0M210.69 407.41h0M254.74 463.57h0M279.01 439.15h0M273.7 424.87h0M260.41 417.07h0M228.27 387.64h0M228.51 395.6h0M208.13 426.98h0M233.23 393.77h0M280.92 401.35h0M219.08 398.08h0M265.24 452.79h0M269.99 451.44h0M233.12 391.73h0M266.25 453.1h0M236.18 440.39h0M276.56 398.57h0M246.03 435.79h0M225.18 417.38h0M246.22 440.81h0M286.06 420.83h0M230.61 415.35h0M252.86 459.87h0M284.17 460.56h0M263.18 464.1h0M228.47 418.01h0M211.1 397.5h0M273.3 461.41h0M279.64 399.34h0M272.16 455.72h0M285.32 428.17h0M256.21 461.92h0M203.32 435.65h0M270.69 421.02h0M216.06 442.05h0M236.35 454.63h0M258.21 467.39h0M202.38 431.62h0M265.23 448.26h0M276.09 421.47h0M253.49 411.95h0M258.71 396.51h0M274.19 431.27h0M275.36 455.79h0M289.64 465.16h0M237.61 438.39h0M270.08 460.9h0M249.95 458.46h0M239.43 387.81h0M202.88 397.13h0M222.96 440.84h0M233.18 427.29h0M227.32 415.02h0M201.4 439.77h0M291.42 418.54h0M260.64 411.41h0M280.63 459.61h0M225 418.39h0M254.12 393.18h0M272.79 481.46h0M288.72 445.86h0M296.29 433.68h0M223.8 388.01h0M269.87 443.04h0M270.58 460.45h0M284.79 468.72h0M292.63 415.85h0M273.78 433.86h0M209.7 414.71h0M229.93 401.79h0M272.6 403.09h0M264.87 420.32h0M249.84 396.49h0M230.95 410.79h0M213.86 408.78h0M275.21 463.86h0M247.76 409.55h0M267.93 458.91h0M239.28 393h0M261.87 451.06h0M226.94 400.37h0M277.3 455.13h0M267.7 433.48h0M218.08 416.77h0M221.66 432.72h0M288.22 461.07h0M260.45 422.88h0M277.81 453.63h0M231.97 422.74h0M263.57 387.72h0M250.96 407.36h0M243.4 415.94h0M229.75 409.02h0M221.48 436.96h0M227.79 436.19h0M204.05 434.96h0M289.27 443.11h0M201.61 411.63h0M280.89 410.1h0M263.66 428.52h0M230.07 391.98h0M221.24 385.74h0M246.96 403.72h0M251.41 387.35h0M210.07 432.63h0M251.13 411.8h0M270.05 414.53h0M252.18 451.13h0M213.66 407.91h0M284.65 421.33h0M215.58 390.63h0M287.44 442.1h0M246.61 386.56h0M226.73 427.75h0M266.79 421.44h0M213.16 443.41h0M282.62 394.71h0M224.19 432.04h0M292.73 447.5h0" stroke="#3fbc73" stroke-width="1.35" stroke-linecap="round" fill="none"/>
<path d="M236.55 418.24h0M248.77 421.02h0M228.19 423.28h0M219.17 408.32h0M253.87 400.05h0M209.71 411.78h0M277.78 440.9h0M240.35 392.69h0M235.7 405.54h0M235.27 453.46h0M279.9 408.6h0M298.35 439.29h0M254.68 399.13h0M292.64 414.22h0M253.51 388.81h0M279.23 429.81h0M219.09 405.95h0M264.95 423.52h0M240.83 437.81h0M261.17 419.18h0M264.62 454.54h0M218.24 388.2h0M283.77 430.8h0M257.29 389.19h0M259.13 420.45h0M281.69 411.11h0M271.04 384.72h0M248.62 412.78h0M297.44 432.81h0M226.22 420.12h0M208.68 385.97h0M289.52 453.87h0M267.66 428.79h0M266.6 439.46h0M273.54 434.55h0M261.48 431.76h0M286.62 402.39h0M247.3 420.84h0M265.94 422.7h0M258.36 421.03h0M200.86 426.13h0M288.59 464.5h0M294.67 453.22h0M274.13 460.55h0M289.07 428.95h0M294.21 450.62h0M273.67 439.13h0M272.45 398.88h0M265.18 394.55h0M252.95 419.37h0M212.09 447.81h0M279.94 468.41h0M217.84 397.17h0M271.31 461.59h0M287.34 466.49h0M237.49 448.48h0M238.71 423.71h0M234.42 401.53h0M283.06 450.74h0M263.8 413.59h0M254.38 396.27h0M232.64 392.39h0M210.49 391.3h0M256.16 438.82h0M229.56 439.46h0M242.66 436.12h0M259.33 467.4h0M290.63 427.74h0M194.47 421.35h0M205.54 419.28h0M272.89 399.76h0M289.2 418.88h0M283.1 411.22h0M279.67 414.91h0M281.34 475.52h0M255.7 428.91h0M260.06 389.22h0M244.22 456.37h0M279.36 397.74h0M212.09 394.7h0M277.59 392.91h0M200.54 415.96h0M261.93 417.81h0M194.01 404.15h0M201.11 432.6h0M289.84 431.37h0M265.21 457.18h0M225.74 431.57h0M251.7 459.25h0M267.84 408.79h0M256.89 392.67h0M225.93 388.79h0M297.03 445.97h0M208.42 417.68h0M217.4 443.82h0M245.15 434.04h0M245.78 404.18h0M277.76 453.36h0M296.28 446.87h0M258.11 451.2h0M266.83 409.92h0M272.77 447.57h0M291.3 464.94h0M274.5 424.76h0M237.39 393.22h0M269.14 450.61h0M200.32 392.61h0M264.28 421.2h0M265.7 426.19h0M261.38 474.09h0M205.83 433.48h0M297.05 437.63h0M239.5 393.26h0M239.5 425.46h0M296.69 437.92h0M245.84 420.54h0M277.76 456.74h0M196.74 412.51h0M224.46 405.55h0M254.93 428.45h0M255.78 420.06h0M283.18 430.85h0M285.25 445.76h0M279.97 425.17h0M263.03 438.96h0M266.29 456.61h0M265.52 426.58h0M222.14 426.01h0M277.7 463.93h0M292.13 459.21h0M241.23 401.68h0M234.15 425.61h0M279.76 429.41h0M280.64 441.4h0M197.42 402.67h0M285.33 437.77h0M263.34 407.4h0M261.23 420.98h0M294.39 457.91h0M264.34 410.25h0M219.3 418.7h0M244.44 443.8h0M251.54 457.81h0M219.75 447.19h0M276.63 432h0M231.36 398.49h0M235.72 425.73h0M202.2 410.26h0M254.39 394.56h0M271.16 469.86h0M257.01 430.07h0M209.56 409.18h0M267.48 423.9h0M289.25 427.78h0M269.77 433.1h0M279.12 407.82h0M288.4 440.15h0M264.41 431.39h0M294.55 460.46h0M265.85 428.58h0M258.08 464.43h0M243.73 420.54h0M219.46 452.01h0M284 439.77h0M286.83 419.39h0M239.47 387.22h0M255.22 392.14h0M214.96 441.89h0M252.73 395.98h0M259.91 464.07h0M277.99 470.56h0M234.61 404.61h0M259.17 383.89h0M264.56 398.64h0M220.18 406.69h0M228.03 387.65h0M288.65 450.76h0M266.32 397.76h0M262.65 396.24h0M269.61 465.7h0M281.95 466.93h0M225.24 393.8h0M296.69 446.79h0M279.53 482.98h0M199.24 422.28h0M266.88 398.13h0M220.67 411.27h0M274.8 414.67h0M209.61 415.02h0M271.31 450.88h0M257.96 415.75h0M207.32 395.28h0M262.54 391.03h0M258.22 453.84h0M286.14 407.77h0M279.49 464.93h0M279.48 390.67h0M271.79 428.96h0M247.22 384.94h0M235.07 407.46h0M291.4 447.4h0M289.42 415.4h0M278.86 400.35h0M252.79 398.93h0M216.66 421.54h0M196.07 415.1h0M266.61 392.66h0M212.64 415.01h0M210.38 438.78h0M287.8 457.99h0M203.91 403.12h0M282.89 465.07h0M228.96 436.32h0M263.8 436.61h0M204.83 392.57h0M287.78 408.12h0M280.33 440.46h0M231.25 386.79h0M262.93 441.71h0M216.48 401.82h0M265.13 437.72h0M264.93 460.05h0M261.28 451.33h0M252.68 419.68h0M281.94 409.87h0M282.15 476.65h0M271.98 420.41h0M264.25 387.07h0M254.17 468.1h0M249.82 418.33h0M220.33 402.46h0M205.62 413.15h0M255.41 395.6h0M231.59 395.74h0M267.17 397.78h0M279.61 467.74h0M263.16 404.65h0M265.13 466.4h0M275.68 441.74h0M271.77 451.19h0M249.5 460.2h0M268.62 464.4h0M247.16 396.57h0M269.23 430h0M244.06 399.88h0M199.7 424.36h0M265.32 453.02h0M294.61 417.33h0M234.16 403.32h0M266.3 390.25h0M208.36 387.73h0M241.83 442.27h0M289.82 444.58h0M279.12 426.94h0M282.66 403h0M270.72 434.91h0M265.73 424.62h0M283.65 394.9h0M229.35 415.63h0M276.44 470.69h0M274.32 410.49h0M267.2 410.35h0M278.88 404.94h0M279.36 413.32h0M264.85 427.07h0M281.52 465.25h0M285.39 484.93h0M270.15 455.2h0M289.96 440.92h0M195.1 408.03h0M227.87 427.32h0M220.21 453.39h0M253.63 457.63h0M282.14 465.43h0M281.69 394.33h0M272.19 391.03h0M209.82 417.73h0M283.79 421.18h0M295.84 419.06h0M279.3 444.77h0M280.06 410.12h0M281.31 432.36h0M261.74 410.71h0M273.74 397.06h0M279.71 465.5h0M268.72 413.56h0M204.4 435.63h0M241.07 422.98h0M213.7 391.39h0M285.39 420.12h0M295.59 442.51h0M288.89 463.95h0M272.49 460.35h0M261.41 432.16h0M220.53 403.09h0M274.01 403.08h0M265 409.83h0M264.94 444.22h0M236.91 410.92h0M271.34 390.74h0M268.58 447.21h0M285.89 468.49h0M256.27 396.09h0M277.83 471.76h0M268.62 467.55h0M280.54 429.72h0M282.83 456.43h0M286.37 479.41h0M266.62 431.01h0M281.66 473.21h0M282.94 467.7h0M286.29 458.07h0M252.07 404.88h0M253.82 447.14h0" stroke="#52c569" stroke-width="1.35" stroke-linecap="round" fill="none"/>
<path d="M265.35 460.86h0M284.11 416.85h0M294.8 436.3h0M287.6 449.25h0M276.79 421.48h0M283.35 443.45h0M275.11 396.43h0M270.58 422.99h0M242.78 395.69h0M265.85 439.19h0M231.21 411.79h0M296.42 420.21h0M270.07 392.93h0M272.99 413.24h0M231.95 435.62h0M275.61 446.79h0M242.2 391.01h0M287.29 400.37h0M283.29 405.77h0M279.07 462.02h0M227.22 455h0M212.39 448.74h0M216.69 406.94h0M280.85 446.25h0M283.75 449.4h0M292.64 450.15h0M263.01 466.4h0M202.62 397.08h0M245.39 434.32h0M239.75 419.98h0M243.66 408.24h0M251.5 394.63h0M216.71 395.52h0M239.1 429.01h0M273.32 409.59h0M254.85 394.09h0M276.79 435.47h0M269.31 400.63h0M274.03 409.99h0M253.23 449.33h0M273.65 388.39h0M264.67 473.67h0M240.36 397.62h0M292.44 441.81h0M283.22 440.52h0M265.75 404.31h0M200.89 420.16h0M283.92 443.49h0M280.09 410.97h0M282.85 397.89h0M259.73 449.07h0M280.01 409.1h0M263.36 389.98h0M202.75 408.84h0M287.81 430.13h0M267.48 434.29h0M237.35 397.35h0M294.84 428.64h0M258.96 424.29h0M276.63 386.74h0M246.1 408.69h0M282.15 403.22h0M259.05 422.12h0M291.45 431.72h0M288.67 406.1h0M195.78 428.85h0M270.1 385.41h0M282.95 474.95h0M275.69 442.09h0M291.63 415.38h0M255.27 402.28h0M291.34 405.61h0M192.37 414.95h0M277.37 464.53h0M293.69 420.94h0M281.9 448.61h0M281.23 393.77h0M264.31 436.58h0M273.1 440.98h0M266.18 477.55h0M281.13 474.16h0M284.28 404.95h0M265.58 386.36h0M275.13 410.4h0M263.19 438.48h0M268.89 426.6h0M238.81 401.27h0M207.5 432.12h0M274.46 390.21h0M229.17 389.69h0M295.74 446.53h0M217.77 441.13h0M273.15 405.47h0M266.02 419.95h0M206.51 441.03h0M257.95 400.21h0M256.91 438.61h0M251.63 415.64h0M229.69 384.79h0M268.58 405.4h0M271.79 421.8h0M295.96 449.92h0M251.51 414.44h0M284.97 441.56h0M237.9 416.85h0M291.44 439.75h0M223.3 441.42h0M281.2 391.48h0M278.9 430.98h0M285.45 408.72h0M278.89 400.35h0M249.01 411.77h0M235.9 451.51h0M233.78 428.86h0M207.92 393.78h0M255.64 466.55h0M292.67 407.47h0M282.67 444.4h0M289.24 427.8h0M276.97 422.49h0M274.06 394.94h0M281.7 426.98h0M274.32 422.52h0M280.87 431.39h0M257.28 413.69h0M254.9 417.82h0M290.38 429.64h0M244.23 403.99h0M267.04 384.63h0M297.25 441.96h0M251.98 402.65h0M278.4 465.17h0M292.52 458.12h0M277.05 429.76h0M283.68 481.97h0M230.54 388.56h0M274.68 385.47h0M246.35 432.99h0M267.18 422.63h0M282.12 418.27h0M287.29 415.06h0M227.15 406.23h0M262.64 435.92h0M203.83 430.78h0M257.03 419.69h0M245.28 415.61h0M289.03 451.59h0M261.9 453.75h0M253.88 413.6h0M297.58 443.84h0M288.58 467.72h0M290.96 452.63h0M266.62 433.15h0M292.48 449.75h0M249.05 402.77h0M278.22 440.62h0M287.14 427.99h0M260.57 392.64h0M211.87 394.79h0M270.84 394.93h0M280.23 438.21h0M290.33 405.52h0M275.08 431.3h0M289.62 401.95h0M277.99 436.73h0M282.78 408.53h0M212.57 402.5h0M276.01 403.18h0M294.56 448.67h0M206.35 401.84h0M277.49 476.86h0M289.29 426.42h0M294.07 446.98h0M287.61 414.24h0M271.97 426.54h0M292.25 437.39h0M270.76 412h0M277.86 397.32h0M260.28 391.07h0M283.27 417.02h0M267.17 417.05h0M213.62 405.42h0M272.64 419.29h0M253.2 390.23h0M289.63 452.09h0M238.44 397.28h0M274.46 432.41h0M279.6 392.69h0M293.4 420.4h0M228.38 415.04h0M274.23 461.39h0M286.38 442.03h0M285.83 478.77h0M290.4 460.8h0M275.64 416.69h0M267.46 420.45h0M287.38 432.11h0M260.3 447.15h0M290.33 407.94h0M274.89 412.22h0M293.27 409.31h0M213.91 397.98h0M279.64 426.06h0M292.54 465.32h0M204.53 411.07h0M281.71 450.64h0M251.07 398.22h0M288.71 429.56h0M279.17 399.06h0M225.88 412.68h0M253.28 433.95h0M295.27 431.17h0M214.29 415.64h0M294.79 428.55h0M285.71 400.6h0M278.34 398.59h0M293.72 424.14h0M271.91 407.24h0M297.3 445.08h0M265.52 411.78h0M278.27 443.9h0M277.31 405.53h0M271.83 424.37h0M279.42 402.06h0M274.96 442.11h0" stroke="#69cd5b" stroke-width="1.35" stroke-linecap="round" fill="none"/>
<path d="M279.3 406.12h0M205.13 407.14h0M284.69 427.41h0M282.71 392.85h0M283.5 461.51h0M274.49 406.53h0M289.13 405.94h0M246.23 421.28h0M272.14 416.5h0M269.89 429.86h0M290.03 406.12h0M219.91 425.92h0M294.61 427.43h0M253.07 402.78h0M285.64 433.03h0M294.42 418.3h0M284.31 467.58h0M269.48 390.62h0M280.04 450.7h0M207.16 390.91h0M295.23 451.04h0M276.03 427.51h0M202.41 409.07h0M219.81 408.92h0M280.96 439.42h0M278.6 424.42h0M283.84 394.93h0M279.36 392.68h0M268.02 426.54h0M238.29 390.47h0M267 392.2h0M283.68 395.28h0M277.87 431.58h0M251.2 418.4h0M256.96 414.58h0M285.74 421.97h0M266.51 428.94h0M269.4 387.23h0M283.59 393.45h0M281.63 397.76h0M295.61 435.54h0M280.45 459.16h0M289.95 456.91h0M295.29 447.88h0M215.43 423.58h0M254.66 449h0M281.85 420.59h0M278.64 413.8h0M270.75 417.92h0M243.17 420.57h0M215.69 398.92h0M264.86 422.76h0M265.74 395.82h0M280.43 430.13h0M284.19 447.04h0M266 393.4h0M291.19 450.74h0M287.32 461.45h0M277.64 419.89h0M263.41 427.89h0M269.03 426.29h0M251.9 402.05h0M288.42 403.08h0M281.47 405.34h0M286.21 403.74h0M203.89 404.25h0M255.73 429.84h0M277.72 430.34h0M283.53 415.46h0M281.73 414.87h0M209.52 399.2h0M269.45 421.5h0M294.78 460.26h0M296.95 433.76h0M285.6 420.04h0M277.68 405.56h0M199.06 429.19h0M272.82 429.13h0M205.18 388.15h0M265.77 420.24h0M264.92 417.16h0M291.37 424.63h0M244.39 449.21h0M290.06 451.93h0M295.44 426.07h0M295.95 437.27h0M291.11 434.03h0M282.29 392.43h0M261.19 385.1h0M270.62 410.75h0M293.23 431.88h0M271.45 402.59h0M287.11 429.2h0M296.81 442.1h0M289.22 435.47h0M269.71 390.86h0M261 464.75h0M213.76 418.84h0M223.31 408.89h0M292.33 420.15h0M212.5 446.48h0M239.4 400.43h0M232.31 425.08h0M270.62 403.59h0M263.7 443.57h0M246.96 411.62h0M295.93 439.02h0M256.64 411.03h0" stroke="#84d44b" stroke-width="1.35" stroke-linecap="round" fill="none"/>
<path d="M287.51 442.16h0M279.45 404.07h0M264.77 402.67h0M265.61 436.95h0M238.43 390.41h0M277.34 457.73h0M277.78 390.48h0M267.71 394.4h0M286.26 399.4h0M293.92 446.75h0M283.51 476.89h0M292.9 409.6h0M264.73 404.38h0M202.12 417.34h0M210.18 418.36h0M275.9 438.39h0M266.11 456.89h0M255.77 469.58h0M280.03 437.87h0M274.68 429.53h0M270.35 406.57h0M280.74 406.18h0M290.16 416.96h0M277.88 407.61h0M278.97 402.08h0M276.25 420.78h0M288.67 436.58h0M284.07 398.93h0M290.28 409.79h0M261.18 428.14h0M241.3 404.85h0M264.65 442.59h0M291.3 456.8h0M238.84 422.51h0M267.77 424.15h0M293.66 461.82h0M284.66 463.67h0M292.36 457.46h0M280.41 405.16h0M292.62 432.56h0M286.57 432.77h0M206.43 396.27h0M284.1 395.62h0M270.99 440.3h0M268.66 456.11h0M270.95 398.81h0M275.11 389.93h0M285.77 440.21h0M281.68 429.97h0M282.44 403.49h0M272.12 409.42h0M290.74 443.07h0M270.55 386.53h0M265.47 407.89h0M197.36 428.41h0M266.65 397.18h0M257.7 450.46h0M283.49 440.53h0M288.78 420.03h0M285.17 435.32h0M271.87 439.72h0M195.51 418.52h0M276.82 428.38h0M293.81 415.9h0M289.32 402.06h0M289.12 406.57h0M195.54 401.23h0M285.47 424.96h0M286.41 403.36h0M246.25 425.1h0M297.39 434.64h0M294.96 424.33h0M276.33 438.37h0M293.49 458.95h0M297.17 436.89h0M293.11 441.12h0M284.51 450.13h0M272.12 398.02h0" stroke="#9dd93b" stroke-width="1.35" stroke-linecap="round" fill="none"/>
<path d="M283.49 393.2h0M275.05 443.83h0M274.98 446.74h0M292.54 408.15h0M281.56 403.83h0M274.52 391.7h0M290.5 426.05h0M298.38 443.17h0M292.96 427.64h0M282.49 435.97h0M284.79 426.8h0M285.36 410.94h0M246.37 447.1h0M282.29 416.2h0M279.69 433.63h0M293.18 445.79h0M289.64 404.46h0M267.93 442.62h0M296.57 428.57h0M287.4 424.49h0M288.59 412.55h0M289.44 420.93h0M279.54 405.48h0M273.68 420.88h0M297.43 449.62h0M277.17 422.13h0M287.45 421.56h0M282.02 428.45h0M281.64 393.99h0M286.66 419.98h0M279.81 397.65h0M291.7 428.14h0M275.99 397.33h0M291.83 419.9h0M279.6 416.83h0M289.21 439.4h0" stroke="#bade28" stroke-width="1.35" stroke-linecap="round" fill="none"/>
<path d="M289.74 441.21h0M295.2 428.08h0M286.39 433.49h0M280.46 418.39h0M289.83 436.91h0M285.52 406.71h0M283.64 425.1h0M285.73 411.65h0M283.91 429.41h0M278.8 410.72h0M290.83 428.28h0" stroke="#d8e219" stroke-width="1.35" stroke-linecap="round" fill="none"/>
<path d="M280.61 395.51h0M296.22 437.63h0" stroke="#f1e51d" stroke-width="1.35" stroke-linecap="round" fill="none"/>
<rect x="187.3" y="378.3" width="117.6" height="113" fill="none" stroke="#d9d9d9" stroke-width="0.8"/>
<text x="246.2" y="375" font-size="8.34" text-anchor="middle" stroke="#111111" textLength="56.36" lengthAdjust="spacingAndGlyphs">MITF pathway</text>
<rect x="306.3" y="378.3" width="4.2" height="113" fill="url(#vg1)"/>
<line x1="310.5" y1="484.7" x2="312.5" y2="484.7" stroke="#333" stroke-width="0.5"/>
<text x="314.2" y="486.49" font-size="5.77" stroke="#111111" textLength="13.6" lengthAdjust="spacingAndGlyphs">−0.1</text>
<line x1="310.5" y1="464.4" x2="312.5" y2="464.4" stroke="#333" stroke-width="0.5"/>
<text x="314.2" y="466.19" font-size="5.77" stroke="#111111" textLength="8.91" lengthAdjust="spacingAndGlyphs">0.0</text>
<line x1="310.5" y1="444.09" x2="312.5" y2="444.09" stroke="#333" stroke-width="0.5"/>
<text x="314.2" y="445.88" font-size="5.77" stroke="#111111" textLength="8.91" lengthAdjust="spacingAndGlyphs">0.1</text>
<line x1="310.5" y1="423.78" x2="312.5" y2="423.78" stroke="#333" stroke-width="0.5"/>
<text x="314.2" y="425.58" font-size="5.77" stroke="#111111" textLength="8.91" lengthAdjust="spacingAndGlyphs">0.2</text>
<line x1="310.5" y1="403.48" x2="312.5" y2="403.48" stroke="#333" stroke-width="0.5"/>
<text x="314.2" y="405.27" font-size="5.77" stroke="#111111" textLength="8.91" lengthAdjust="spacingAndGlyphs">0.3</text>
<line x1="310.5" y1="383.17" x2="312.5" y2="383.17" stroke="#333" stroke-width="0.5"/>
<text x="314.2" y="384.97" font-size="5.77" stroke="#111111" textLength="8.91" lengthAdjust="spacingAndGlyphs">0.4</text>
<path d="M413.93 430.62h0M413.36 397.47h0M410.62 410h0M438.11 431.01h0M406.46 392.83h0" stroke="#551c69" stroke-width="1.35" stroke-linecap="round" fill="none"/>
<path d="M445.19 433.86h0M380.16 408.69h0M424.73 411.05h0M400.26 415.04h0M435.82 436.58h0M434.84 435.11h0M375.22 399.25h0M450.57 388.89h0M437.11 436.95h0M374.27 417.34h0M460.68 415.4h0M393.19 387.79h0M419.26 391h0M420.93 437.16h0M461.21 440.92h0M408.65 437.45h0M409.64 410.97h0M416.05 425.26h0M421.42 424.46h0M380.01 397.31h0M421.49 421.95h0M427.95 430.21h0M403.85 456.13h0M466.79 442.51h0M415.39 408.24h0M428.63 393.26h0M402 423.64h0M400.47 400.69h0M380.51 417.68h0M432.04 392.62h0M440.89 384.98h0" stroke="#572a76" stroke-width="1.35" stroke-linecap="round" fill="none"/>
<path d="M448.05 411.3h0M409.17 393.22h0M403.95 449.15h0M381.11 406.34h0M418.05 432.99h0M414.76 417.45h0M436.38 420.32h0M467.87 437.92h0M403.43 399.85h0M462.66 418.54h0M373.02 426.13h0M388.18 416.73h0M406.68 401.86h0M410.92 410.79h0M452.23 410.1h0M425.17 385.22h0M408.02 392.9h0M445.93 391.7h0M456.82 406.71h0M450.84 390.67h0M443.96 434.76h0M452.54 391.48h0M375.36 388.11h0M463.66 441.81h0M374.05 416.46h0M438.96 423.9h0M420.21 431.72h0M449.16 390.48h0M412.12 397.62h0M438.68 410.35h0M390.66 408.72h0M377.65 419.28h0M447.64 420.78h0M420.74 406.16h0M419.01 399.28h0M390.8 450.97h0M428.74 408.64h0M381.6 399.2h0M424.56 401.03h0M423.71 427.84h0M465.99 428.55h0M428.24 411.03h0M418.97 399.84h0M445.09 439.13h0M383.37 395.23h0M387.7 398.92h0M450.78 402.06h0M409.03 419.9h0M430.73 406.72h0M421.83 420.69h0M373.77 411.63h0M430.4 414.52h0M405.06 393.77h0M372.7 415.96h0M450.23 400.35h0M410.34 419.59h0M403.26 398.11h0M459.86 412.55h0M416.69 384.09h0M392.65 385.65h0M456.27 441.56h0M451.05 433.63h0M458.66 432.11h0M457 400.6h0M417.48 404.18h0M425.25 457.63h0M447.55 413.37h0M386.15 442.98h0M397.14 451.68h0M428.61 436.4h0M440.98 420.53h0" stroke="#573681" stroke-width="1.35" stroke-linecap="round" fill="none"/>
<path d="M385.89 408.78h0M456.66 410.94h0M439.21 385.04h0M373.78 390.47h0M439.05 415.38h0M399.81 420.15h0M393.5 420.33h0M385.93 397.98h0M455.09 430.8h0M431.68 455.32h0M400.51 390.34h0M421.17 388h0M380.76 385.97h0M405.98 403.32h0M455.41 395.62h0M459.08 430.13h0M388.78 407.08h0M431.06 403.79h0M445.1 389.81h0M408.82 421.97h0M431.5 386.83h0M429.4 392.45h0M407.27 431.56h0M432.73 428.14h0M458.88 449.25h0M432.96 400.01h0M378.05 400.76h0M417.19 434.18h0M391.5 443.82h0M448.41 443.5h0M379.63 404.44h0M433.41 412.6h0M459.94 406.1h0M462.07 428.28h0M463.07 419.9h0M423.55 415.53h0M414.22 448.16h0M372.49 392.61h0M386.06 394.36h0M431.37 428.23h0M373.46 428.1h0M414.82 393.29h0M379.38 416.81h0M380.7 420.25h0M415.76 398.66h0M397.56 402.91h0M384.21 419.66h0M409.04 409.13h0M390.28 423.47h0M394.14 403.61h0M435.09 394.63h0M426.64 444.69h0M431.82 429.17h0M425.07 446.95h0M434.54 435.81h0M438.67 422.63h0M419.3 396.8h0M374.18 400.02h0M453.05 450.64h0M421.3 391.82h0M467.41 437.63h0M440.94 390.62h0M391.86 397.03h0M418.63 438.49h0M457.58 458.07h0M468.13 433.76h0M458.42 427.99h0M408.07 407.07h0M405.23 439.75h0M394.58 428.44h0M403.8 435.62h0M458.03 427.71h0M423.83 444.56h0M442.9 411.47h0M426.51 417.82h0M393.94 406.56h0M390.45 414.42h0M421.68 434.96h0M436.45 423.52h0M442.22 414.63h0M392.9 389.87h0M417.68 448.85h0M429.54 415.75h0M427.01 435.4h0M434.18 396.24h0M405.38 407.51h0M365.75 405.67h0M457.04 421.97h0M418.31 426.07h0M442.22 434.99h0M397.23 413.3h0M384.43 448.74h0M424.58 419.37h0M411.51 419.98h0M398.52 396.75h0M438 428.94h0M391.95 418.71h0M455.25 448.02h0M442.29 394.93h0M375.85 406.73h0M453.99 403h0M376.27 432.88h0M394.04 412.06h0M458.57 400.37h0M412.98 401.68h0M441.52 435.38h0M395.93 427.04h0M403.1 386.79h0M440.26 468.43h0M433.62 395.18h0M443.21 400.61h0M466.42 451.04h0M404.96 391.73h0M444.07 419.29h0M454.9 393.45h0M452.81 405.34h0M420.72 402.77h0M460.55 426.42h0M432.74 460.04h0M415.4 435.66h0M407.98 440.39h0M460.58 402.06h0M455.11 421.18h0M440.05 405.4h0M452.39 432.99h0M372.43 415.95h0M410.68 394.31h0M416.11 449.21h0M444.74 409.59h0M448.92 450.83h0M453.02 429.97h0M372.08 416.16h0M453.74 393.67h0M410.71 425.46h0M457.95 419.98h0M451.33 425.17h0M428.22 407.96h0M423.82 451.13h0M461.07 444.58h0M392.2 384.39h0M467.88 446.79h0M433.47 417.81h0M410.87 437.1h0M391.72 447.19h0M439.24 393.96h0M396.25 415.81h0M407.75 440.31h0M403.06 411.79h0M423.34 394.95h0M432.82 451.33h0M452.09 406.18h0M423.76 436.71h0M454.17 397.89h0M449.1 430.34h0M403.43 395.74h0M445.12 424.87h0M408.07 393.6h0M429.93 388.71h0M442.21 412h0M404.01 397.96h0M445.06 425.77h0M399.79 436.63h0M393.16 393.64h0M398.53 408.15h0M445.16 397.06h0M415.07 438.28h0M425.01 401.66h0M369.75 419.27h0M445.47 394.94h0M433.47 385.26h0M462.68 439.75h0" stroke="#554389" stroke-width="1.35" stroke-linecap="round" fill="none"/>
<path d="M418.98 420.84h0M424.32 419.68h0M436.01 390.7h0M412.96 448.92h0M453.77 410.74h0M402.21 389.62h0M400.07 423.28h0M395.24 408.89h0M374.89 408.84h0M389.84 392.5h0M421.04 414.34h0M412.23 408.47h0M407.53 425.73h0M385.19 443.41h0M387.42 452.49h0M454.5 445.17h0M444.52 440.98h0M375.86 419.98h0M429.18 426.24h0M419.5 415.29h0M388.44 426.77h0M428.48 392.67h0M386.81 436.47h0M377.73 413.15h0M462.87 415.38h0M387.32 413.75h0M387.04 407.47h0M392.8 395.07h0M388.49 401.82h0M435.22 443.57h0M395.72 388.01h0M460.39 405.94h0M415.17 403.83h0M388.09 397.51h0M442.03 422.99h0M420.77 414.96h0M451.89 429.72h0M441.73 453.97h0M397.07 395.22h0M448.76 457.36h0M414.08 432.5h0M410.58 401.27h0M448.32 396.95h0M447.04 416.69h0M443.21 451.19h0M431.1 424.5h0M424.41 386.06h0M431.29 449.07h0M417.31 409.96h0M431.22 388.91h0M462.64 447.4h0M379.75 418.24h0M467.04 419.06h0M433.1 454.76h0M432.22 439.11h0M374.76 409.31h0M427.27 426.43h0M426.51 444.51h0M403.5 409.53h0M436.73 448.26h0M381.69 415.02h0M376.66 425.45h0M434.07 391.03h0M434.1 424.07h0M438.21 398.3h0M445.07 467.21h0M379.11 422.8h0M386.77 441.59h0M418.3 386.56h0M378.37 401.21h0M397.07 407.54h0M365.21 420.87h0M440.78 400.63h0M365.38 408.12h0M449.02 419.89h0M452.19 446.25h0M387.43 389.02h0M382.18 388.72h0M407.27 434.64h0M397.34 441.59h0M377.44 424.93h0M440.19 413.56h0M443.57 416.5h0M378.8 434.47h0M436.43 417.16h0M429.53 400.21h0M376.04 403.12h0M460.34 428.95h0M454.96 425.1h0M447.47 448.28h0M455.5 447.04h0M463.86 414.22h0M458.73 421.56h0M391.42 421.59h0M465.28 446.98h0M438.94 420.45h0M425.67 409.96h0M384.14 447.81h0M423.28 447.87h0M442.44 440.3h0M377.52 407.98h0M429.64 403.38h0M391.45 410.19h0M404.14 431.47h0M451.03 414.91h0M407.51 406.07h0M427.8 426.62h0M467.61 420.21h0M422.43 420.88h0M375.02 397.13h0M391.21 430.3h0M441.53 392.93h0M408.7 407.6h0M385.52 414.82h0M398 384.51h0M437.23 424.62h0M396.32 387.7h0M443.3 439.72h0M422.61 407.36h0M454.8 393.2h0M369.93 399.95h0M439.31 408.79h0M398.99 400.88h0M450.96 392.69h0M386.98 423.45h0M426.01 394.56h0M463.89 407.47h0M435.09 387.72h0M434.33 445.5h0M417.88 392.62h0M412.68 412.74h0M467.48 420.09h0M423.62 402.65h0M443.75 442.1h0M445.61 431.27h0M409.8 451.14h0M456.93 433.03h0M416.93 389.28h0M418.64 448.42h0M451.69 440.46h0M375.29 407.21h0M418.85 396.57h0M433.98 390.08h0M428.6 430.07h0M400.83 395.79h0M448.43 429.76h0M433.26 413.42h0M450.48 426.94h0M385.31 427.85h0M423.27 415.64h0M441.02 422.8h0M437.25 404.31h0M415.49 410.39h0M458.79 442.16h0M431.7 448.41h0M438.14 397.18h0M447.08 442.09h0M416.65 405.81h0M428.53 423.22h0M423.54 402.05h0M437.03 411.78h0M387.71 394.95h0M397.83 388.79h0M446.52 389.93h0M401.43 439.68h0M449.36 436.73h0M455.42 416.85h0M376.95 392.57h0M413.85 411.26h0M415.69 450.05h0M455.34 451.64h0M460.9 404.46h0M461.53 409.79h0M427.82 437.43h0M428.12 403.44h0M444.3 391.04h0M393.31 396.95h0M450.94 452.56h0M439.3 417.96h0M425.32 413.02h0M407.23 425.27h0M462.54 456.8h0M442.06 450.05h0M423.18 446.66h0M423.2 423.77h0M395.11 410.48h0M465.88 453.22h0M403.16 431.5h0M400.14 425.37h0M465.62 418.3h0M395.4 424.35h0M408.71 410.92h0M372.22 407.06h0M440.62 478.75h0M425.49 400.05h0M460.46 418.88h0M441.33 443.04h0M435.93 431.39h0M408.91 451.86h0M426.91 428.57h0M383.86 420.64h0M451 426.06h0M457.86 432.77h0M405.22 439.33h0M461.1 431.37h0M398.62 427.75h0M465.81 427.43h0M416.3 386.98h0M378.47 421.49h0M410.51 445.47h0M412.31 421.96h0M410.49 423.71h0M467.99 442.1h0M451.44 410.97h0M463.76 408.15h0M376.02 404.25h0M447.13 388.67h0M448.72 453.6h0M384.8 430.16h0M440.09 401.68h0M446.95 399.43h0M445.45 409.99h0M399.88 453.72h0M396.38 405.55h0M387.29 414.04h0M437.34 439.19h0M436.68 394.55h0M451.81 418.39h0M435.76 387.07h0M414.87 392.05h0M411.23 387.22h0M417.75 418.73h0M399.76 427.32h0M373.23 409.51h0M443.4 426.54h0M409.05 443.1h0M423.69 463.14h0M423.09 422.13h0M406.02 423.39h0M463.37 448.62h0M417.73 435.79h0M383.86 438.86h0M460.04 420.03h0M454.43 453.94h0M443.34 387.58h0M416.05 388.14h0M403.12 420.78h0M385.07 441.81h0M438.09 419.46h0M378.71 405.64h0M414.9 420.57h0M397.09 417.38h0M426.27 449h0M420.5 397.1h0M394.27 418.68h0M401.3 395.12h0M451.38 437.87h0M461 441.21h0M442.83 417.24h0M383.21 400.25h0M421.86 405.69h0M433.96 450.88h0M391.56 450.98h0M401.04 456.21h0M411.48 399.53h0M441.5 414.53h0M386.32 396.85h0M447.81 448.52h0M434.86 407.4h0M456.55 445.76h0M413.61 398.6h0M423.94 386.05h0M457.13 478.77h0M370.64 418.97h0M445.73 422.52h0M419.51 416.96h0M376.74 388.57h0M371.57 396.39h0M409.28 448.48h0M441.71 450.6h0M433.5 401.91h0M409.88 428.05h0M464.61 420.4h0M412.91 430.43h0M463.48 437.39h0M447.48 421.47h0M452.97 397.76h0M397.16 425.27h0M442.35 404.28h0M443.88 398.88h0M415.34 448h0M424.74 435.09h0M409.62 445.88h0M431.53 410.53h0M462.2 464.73h0M448.43 441.91h0M466.64 426.07h0M438.72 430.08h0M401.18 401.54h0M390.61 391.6h0M414.31 412.16h0M367.75 401.23h0M467.15 437.27h0M366.08 421.95h0M460.47 439.4h0M385.65 420.16h0M442.4 398.81h0M393.14 415.34h0M452.9 403.83h0M392.04 391.91h0M427.01 395.6h0M446.46 385.25h0M432.13 392.64h0" stroke="#514f90" stroke-width="1.35" stroke-linecap="round" fill="none"/>
<path d="M436.97 407.89h0M400.55 396.76h0M414.08 446.71h0M385.32 400.46h0M436.3 454.01h0M442.7 445.61h0M388.65 430.04h0M453.28 409.87h0M384.61 402.5h0M446.76 455.79h0M390.69 388.55h0M382.48 408.97h0M466.48 447.88h0M446.36 442.11h0M450.81 404.07h0M428.48 429.19h0M452.98 393.99h0M453.07 414.87h0M453.03 426.98h0M390.01 395.44h0M385.65 405.42h0M390.94 424.65h0M424.7 395.02h0M407.84 454.58h0M466.39 428.08h0M432.53 456.23h0M452.26 401.35h0M444.03 403.09h0M379.98 438.51h0M458.88 414.24h0M446.78 410.37h0M405.44 421.93h0M448.1 416.9h0M436.36 427.07h0M445.08 465.87h0M407.04 427h0M436.37 422.76h0M421.48 386.35h0M440.33 399.36h0M369.32 405.71h0M428.87 389.19h0M443.41 420.41h0M464.91 420.94h0M382.61 416.88h0M417.8 408.69h0M448.36 422.49h0M414.52 395.69h0M453.45 418.27h0M457.43 407.77h0M451.76 405.16h0M376.66 411.07h0M435.54 433.52h0M412.82 422.98h0M374.73 404.51h0M368.34 399.91h0M384.22 414.46h0M403.1 396.59h0M445.42 403.08h0M433.74 451.68h0M465.02 415.9h0M394.99 429.57h0M431.51 416.91h0M426.46 394.09h0M411.67 417.93h0M394.95 410.63h0M426.29 399.13h0M379.64 391.45h0M387.6 401.38h0M438.43 435.32h0M427.88 429.36h0M401.33 403.65h0M456.75 408.72h0M387.34 386.65h0M445.52 441.15h0M462.44 426.72h0M409.07 386.05h0M377.24 407.14h0M431.38 393.53h0M423.52 458.58h0M401.99 386.64h0M402.18 442.31h0M399.12 392.17h0M465.02 420.47h0M431.31 424.81h0M411.2 447.14h0M377.77 387.02h0M446.21 414.67h0M420.07 410.7h0M417.51 408.33h0M448.7 457.12h0M399.12 413.34h0M437.13 424.01h0M438.22 430.55h0M437.24 395.82h0M417.34 405.13h0M454.59 417.02h0M416.31 400.69h0M438.98 443.64h0M407.38 404.69h0M468.57 434.64h0M428.64 387.3h0M419.32 421h0M374.61 405.5h0M426 427.66h0M396.12 432.04h0M390.53 418.38h0M403.84 439.36h0M458.39 429.2h0M386.31 415.64h0M426.6 393.64h0M418.07 447.1h0M429.83 441.77h0M374.96 408.49h0M398.33 424.3h0M395.98 417.97h0M387.59 390.63h0M391.06 436.03h0M399.69 433.63h0M464.94 424.14h0M384.84 410.54h0M364.91 415.82h0M409.71 400.52h0M431.84 391.07h0M450.72 392.68h0M434.06 385.42h0M452.31 439.42h0M395.24 441.42h0M460.48 435.47h0M445.1 420.88h0M417.43 423.25h0M449.64 443.9h0M390.98 444.91h0M382.75 407.41h0M455.62 467.58h0M401.79 401.79h0M439.18 433.48h0M375.46 435.65h0M393.25 407.57h0M460.29 451.59h0M434.18 437.09h0M400.83 436.32h0M409.88 414.28h0M448.02 432h0M446.54 410.4h0M424.85 449.33h0M421.9 413.73h0M429.94 421.03h0M433.4 451.06h0M421.17 407.56h0M464.12 409.6h0M448.18 392.59h0M436.44 460.05h0M371.83 420.17h0M427.33 429.84h0M424.7 402.78h0M449.07 404.4h0M439.97 391.6h0M386.96 423.47h0M419.68 396.56h0M411.41 438.26h0M407.07 408.93h0M384.77 413.1h0M399.89 398.14h0M442.54 439.74h0M415.78 399.88h0M381.1 409.34h0M427.18 426.69h0M416.99 415.61h0M416.01 394.2h0M381.89 417.73h0M453.82 435.97h0M400.43 385.5h0M458.68 424.49h0M450.01 413.8h0M456.62 428.17h0M400.48 400.95h0M370.5 432.57h0M451.25 408.6h0M406.38 425.99h0M461.09 436.91h0M421.48 418.33h0M461.87 427.74h0M448.56 422.13h0M450.9 405.48h0M407.37 417.87h0M369.67 402.01h0M396.03 424.12h0M394.72 420.61h0M450.96 416.83h0M384.14 394.7h0M438.7 427.14h0M375.61 412.73h0M450.98 436.53h0M435.79 393.57h0M406.19 390.66h0M436.66 405.41h0M447.01 446.79h0M393.83 401.72h0M422.37 415.46h0M438.28 421.44h0M457.7 403.36h0M392.71 433.49h0M435.91 402.88h0M394.09 426.01h0M433.28 410.71h0M461.2 456.91h0M457.56 400.13h0M425.8 464.21h0M421.54 388.51h0M434.22 402.8h0M413.52 398.01h0M441.23 433.1h0M390.92 401.1h0M441.41 420.07h0M454.21 465.07h0M412.68 410.43h0M371.31 425.04h0M391.87 425.92h0M433.03 431.76h0M389.04 426.64h0M405.89 440.36h0M423.98 460.04h0M425.29 403.95h0M407.93 410.97h0M430.1 456.54h0M451.94 448.64h0M375.27 413.51h0M422.28 460.04h0M456.09 426.8h0M454.97 394.9h0M446.51 396.43h0M383.05 391.58h0M369.88 410.35h0M425.41 435.89h0M432 422.88h0M450.17 410.72h0M451.42 410.12h0M428.26 430.09h0M436.28 402.67h0M420.6 423.03h0M427.2 451.81h0M453.45 447.03h0M375.36 413.83h0M390.37 409.09h0M402.67 422.55h0M456.9 420.04h0M378 399.28h0M462.43 450.74h0M445.07 388.39h0M398.46 432.05h0M412.03 390.97h0M417.86 384.48h0M416.63 426.39h0M394.64 406.69h0M434.55 438.96h0M376.44 424.11h0M401.93 391.98h0M414 415.32h0M435.79 421.2h0M460.7 420.93h0M399.74 409.14h0M415.94 456.37h0M392.14 406.69h0M461.58 407.94h0M454 431.66h0M376.64 404.52h0M380.44 387.73h0M393.43 436.96h0M400.73 414.49h0M451.97 459.61h0M435.2 414.83h0M404.7 395.07h0M387.63 443.21h0M398.31 408.59h0M392 390.2h0M399.44 422.97h0M409.57 396.21h0M371.97 400.78h0M374.77 397.08h0M422.06 410.17h0M407.7 451.51h0M399.04 404.47h0M463.96 447.5h0M371.42 422.28h0M420.95 436.8h0M467.92 433.03h0M443.97 403.55h0M388.41 402.37h0M433.44 453.75h0M412.11 392.69h0M378.38 409.67h0M411.05 393h0M423.84 400.08h0M432.45 455.38h0M437.6 403.37h0M456.63 437.77h0M407.11 455.74h0M467.48 433.68h0M404.15 425.08h0M417.87 385.46h0M403.76 428.53h0M410.3 406.02h0M453.02 394.33h0M392.08 408.72h0M443.62 391.03h0M441.8 406.57h0M425.5 413.6h0M446.19 392.01h0M426.83 392.14h0M441.81 403.01h0M399.04 406.23h0M392.63 411.27h0M396.91 418.39h0M389.76 415.37h0M460.39 406.57h0M429.28 450.46h0M438.49 392.2h0M405.44 432.47h0M432.77 420.98h0M377.55 410.24h0M454.11 408.53h0M426.22 421.23h0M380.81 404.02h0M382.56 391.3h0M468.23 437.63h0M446.09 429.53h0M440.69 430h0M436.13 454.54h0M438.65 435.74h0M441.17 390.86h0M418.91 384.94h0M400.08 425.71h0M366.7 421.35h0M424.39 455.84h0M378.91 443.63h0M465.49 460.68h0M395.15 406.38h0M400.92 439.89h0M449.61 465.21h0M468.47 445.08h0M376.01 425.45h0M466.16 424.33h0M461.65 460.8h0M418.39 385.21h0M450.37 439.15h0M449.15 440.9h0M424.44 419.27h0M433.72 413.17h0M384.72 423.9h0M388.69 406.94h0M460.68 447.9h0M462.58 405.61h0M454 444.4h0M374.81 402.64h0M425.99 396.27h0M464.45 431.88h0M415.38 389.89h0M434.94 432.5h0M429.16 391.26h0M466.47 431.17h0M421.42 410.37h0M458.73 457.61h0M466.93 446.53h0M432.38 419.8h0M459.05 408.12h0M464.33 441.12h0M373.07 398.13h0M387.87 394.1h0M374.54 408.47h0M438.66 417.05h0M411.26 393.26h0M399.54 428.83h0M395.6 391.38h0M409.99 444.95h0M456.69 420.12h0M419.25 430.83h0M432.95 432.16h0M441.55 385.41h0M364.68 419.37h0M419.44 409.55h0M410.21 390.41h0M392.35 420.94h0M402.99 404.23h0M427.16 429.13h0M413.94 391.01h0M413.12 402.16h0M421.09 422.26h0M364.62 414.95h0M382.37 405.46h0M437.8 390.25h0M432.46 438.88h0M394.09 436.51h0M432.19 411.41h0M391.78 408.92h0M419.55 421.96h0M371.24 429.19h0M453.18 420.59h0M401.38 400.6h0M389.49 384.78h0M383.57 413.77h0M381.63 406.52h0" stroke="#4d5a93" stroke-width="1.35" stroke-linecap="round" fill="none"/>
<path d="M407.5 405.54h0M468.6 449.62h0M399.36 447.54h0M396.55 385.31h0M419.13 443.1h0M442.79 424.44h0M391.55 442.2h0M451.76 442.32h0M383.05 448.2h0M418.9 393.69h0M394.9 440.84h0M433.33 444.4h0M403.28 406.69h0M389.15 438.06h0M390.88 384.63h0M387.45 423.58h0M428.19 436.2h0M448.69 405.53h0M368.2 422.66h0M391.22 402.25h0M449.25 407.61h0M437.39 416.73h0M383.6 385.94h0M395.23 393.36h0M385.26 416.59h0M455.59 404.95h0M387.9 436.13h0M402.24 416.57h0M412.59 437.81h0M390.15 387.51h0M389.28 384.99h0M379.16 405.03h0M425.48 457.49h0M394.78 403.45h0M442.89 402.59h0M440.86 387.23h0M375.05 404.73h0M444.25 429.13h0M460.5 427.8h0M467.47 446.87h0M366.24 404.15h0M397.81 396.17h0M454.67 443.45h0M365.01 411.65h0M448.97 392.91h0M397.1 422.42h0M408.76 431.96h0M450.27 430.98h0M388.07 403.91h0M443.85 401.94h0M459.94 436.58h0M397.16 393.8h0M434.46 441.71h0M425.13 388.81h0M375.74 403.14h0M409.1 449.61h0M446.37 438.85h0M401.43 439.46h0M452.36 413.16h0M414.07 447.05h0M438.11 433.15h0M381.78 411.78h0M436.38 433.76h0M399.69 398.57h0M388.58 400.52h0M436.39 419.24h0M374.6 442.39h0M376.62 417.66h0M442.49 384.72h0M439.57 406.76h0M426.92 389.15h0M423.14 394.63h0M448.2 428.38h0M447.38 397.33h0M445.9 406.53h0M420.17 424.61h0M385.71 387.42h0M399.92 387.65h0M394.55 413.35h0M438.71 403.02h0M414.67 400.66h0M388.14 417.34h0M377.43 434.82h0M451.96 395.51h0M453.02 411.11h0M447.78 473.33h0M450.14 466.02h0M402.24 447.11h0M454.54 440.52h0M376.23 400.52h0M443.33 402.82h0M375.97 396.55h0M459.98 429.56h0M383.54 409.45h0M380.56 391.99h0M415 391.19h0M453.95 454.78h0M396.84 445.27h0M402.47 415.35h0M416.39 384.23h0M424.42 398.93h0M455.13 459.11h0M440.5 426.29h0M426.37 415.59h0M399.41 396.58h0M391.07 405.95h0M447.95 398.57h0M434.08 426.03h0M443.23 421.8h0M457.5 403.74h0M434.17 435.92h0M448.69 461.09h0M401.22 415.63h0M465.14 446.75h0M404.06 423.6h0M425.49 405.43h0M387.34 435.57h0M377.53 442.61h0M454.05 448.53h0M416.86 434.04h0M420.52 406.3h0M450.53 399.06h0M465.82 417.33h0M400.39 395.6h0M437.45 451.8h0M450.72 397.74h0M378.09 431.04h0M468.35 436.89h0M421.28 410.17h0M407.34 391.53h0M453.49 403.22h0M366.49 417.13h0M392.29 402.46h0M427.86 396.09h0M432.05 408.44h0M385.7 407.91h0M391.47 425.54h0M463.75 458.12h0M387.99 385.68h0M417.41 385.91h0M424.87 422.94h0M384.56 449.05h0M417.84 384.4h0M444.41 413.24h0M380.71 414.17h0M402.4 388.56h0M458.12 419.39h0M431.94 395.46h0M399.16 404.5h0M455.24 443.49h0M449.24 397.32h0M381.75 436.65h0M469.51 439.29h0M389.09 420.36h0M454.61 405.77h0M405.13 419.78h0M461.41 416.96h0M426.22 418.74h0M436.44 406.1h0M407.54 389.91h0M380.78 402.88h0M396.2 409.28h0M392.4 420.03h0M366.41 424.66h0M419.53 438.46h0M435.36 420.5h0M396.62 419.15h0M450.66 406.12h0M449.27 413.49h0M374.52 431.62h0M464.4 445.79h0M385.73 391.39h0M434.57 439.43h0M423.64 396.09h0M408.89 425.71h0M419.57 427.65h0M402.59 430.77h0M400.45 396h0M460.27 421h0M409.41 400.54h0M440.36 426.6h0M404.62 429.11h0M379.41 395.28h0M390.23 388.2h0M375.98 413.68h0M431.29 450.71h0M389.67 422.4h0M448.87 478.09h0M419.48 428.33h0M450.34 402.08h0M374.29 431.53h0M381.92 408.92h0M415.56 399.22h0M420.64 448.47h0M378.66 401.98h0M428.83 391.29h0M423.73 451.7h0M391.96 452.4h0M375 433.22h0M447.07 441.74h0M442.2 417.92h0M416.15 443.8h0M462.93 428.14h0M400.32 399.59h0M435.58 451.93h0M419.47 407.9h0M395.98 452.89h0M451.36 409.1h0M429.18 411.55h0M419.07 434.76h0M368.28 415.1h0M400.45 397.3h0M441.53 459.07h0M452.66 432.36h0M397.65 431.57h0M375.44 433.56h0M420.1 461.36h0M405.01 427.29h0M381.77 414.71h0M444.01 435.19h0M412.41 412.97h0M368.48 426.35h0M433.48 454.77h0M403.67 434.71h0M385.27 399.8h0M431.86 447.15h0M408.15 454.63h0M395.45 428.13h0M412.5 386.18h0M425.74 393.18h0M413.05 404.85h0M414.43 440.9h0M404.48 392.39h0M446.38 431.85h0M447.41 403.18h0M369.56 428.41h0M405.77 421.28h0M453.76 403.49h0M457.68 433.49h0M425.94 440.73h0M427.38 420.06h0M452.21 431.39h0M389.76 441.13h0M454.1 449.29h0M432.8 464.15h0M376.18 434.96h0M457.55 455.3h0M399.11 455h0M443.22 428.96h0M440.05 447.21h0M424.7 459.97h0M404.85 431.51h0M399.09 431.76h0M442.07 410.75h0M391.61 420.33h0M440.12 398.42h0M393.35 435.79h0M401.58 414.85h0M409.19 426.96h0M469.55 443.17h0M424.9 433.95h0M442.32 415.9h0M391.15 408.32h0M379.43 446.69h0M404.19 452.88h0M408.17 424.26h0M426.38 407.54h0M435.32 436.61h0M467.12 439.02h0M367.32 408.03h0M443.55 398.02h0M451.79 459.16h0M438.53 384.63h0M442 386.53h0M403.22 457.02h0M401.55 412.7h0M428.55 414.58h0M457.07 440.21h0M433.61 411.28h0M439.19 394.4h0M449.45 432.67h0M420.66 441.06h0M449.08 463.93h0M449.97 424.42h0M438.88 421.91h0M423.71 404.88h0M434.71 438.48h0M458.57 415.06h0M378.53 396.27h0M425.82 404.42h0M450.72 413.32h0M369.61 402.67h0M394.01 401.41h0M367.38 413.94h0M390.45 426.03h0M402.74 404.63h0M453.62 392.43h0M375.56 404.46h0M369.94 431.92h0M455.31 439.77h0M426.87 422.22h0M454.82 461.51h0M428.5 438.61h0M455.06 449.4h0M428.87 413.69h0M441.27 425.2h0M442.87 417.41h0M466.04 428.64h0M402.58 423.72h0M420.57 383.83h0M466.81 435.54h0M397.41 447.87h0M396.01 408.02h0M437.35 428.58h0M463.85 432.56h0M372.72 409.65h0M442.75 450.88h0M423.31 461.68h0M445.04 443.18h0M382.2 413.77h0M423.71 439.07h0M452.14 466.04h0M440.09 467.55h0M373 401.44h0M449.36 470.56h0M392.2 450h0M444.58 405.47h0M463.59 457.46h0M402.24 424.75h0M424.92 395.4h0M368.7 411.48h0M389.91 401.91h0M403.21 398.49h0M451.99 441.4h0M428.32 447.11h0M447.68 393.18h0M468.43 441.96h0M432.74 385.1h0M416.6 428.24h0M432.09 454.75h0M443.26 424.37h0M443.56 409.42h0M457.36 420.83h0M427.52 401.85h0M402.63 388.87h0M417.38 455.91h0M421.5 396.49h0M444.32 399.76h0M412.49 393.95h0M437.81 397.76h0M401.84 426.2h0M458.6 461.45h0M433.29 429.29h0M436.75 393.64h0M426.87 402.28h0M406.91 425.87h0M410.93 399.39h0M377.92 444.54h0M414.77 401.76h0M437.51 419.95h0M427.57 400.87h0M449.06 405.56h0M457.55 399.4h0M450.26 400.35h0M464.48 409.31h0M385.56 451.73h0M464.7 458.95h0M451.4 450.7h0M419.31 431.7h0M393.61 432.72h0M434.92 437.67h0M391.06 398.08h0M431.61 389.22h0M460.89 452.09h0M389.94 397.02h0M468.21 445.97h0M414.37 419.53h0M439.41 442.62h0M448.35 482.73h0M398.82 436.62h0M381.11 423.77h0M393.99 423.86h0M402.25 454.24h0M458.55 440.64h0M427.69 427.29h0M460.78 453.87h0M423.79 388.24h0M385.16 412.95h0M465.6 457.91h0M377.05 404.45h0M392.08 389.59h0M381.1 448.13h0M384.69 415.01h0M407.08 453.46h0M425.77 460.71h0M437.68 478.81h0M367.72 418.52h0M413.4 450.07h0M394.41 408.23h0M383.64 431.82h0M391.8 414.16h0M406.03 414.1h0M389.39 443.82h0M436.51 409.83h0M398.24 399.11h0M462.68 431.72h0M422.89 418.87h0M401.62 448.06h0M434.8 463.67h0M431.29 431.87h0M411.27 425.46h0M411.47 388.35h0M396.07 432.88h0M421.54 416.04h0M387.23 450.42h0M402.45 455.64h0M365.11 414.7h0M455.82 450.13h0M450.07 459.28h0M374.19 420.02h0M463.87 450.15h0M398.9 453.38h0M433.73 434.81h0M427.51 433.58h0M431.9 438.86h0M436.16 442.59h0M442.61 469.86h0M369.04 421.39h0M395.58 387.64h0M404.86 430.52h0M424.62 461.87h0M460.53 443.11h0M377.3 388.15h0M391.79 446.14h0M437.44 422.7h0M451.17 397.65h0M457.66 442.03h0M448.86 465.76h0M422.85 418.4h0M374.87 404.49h0M452.7 408.32h0M405.2 451.14h0M446.49 431.3h0M374.39 403.87h0M421.61 458.46h0M462.62 461.42h0M404.6 437.01h0M439.39 462.41h0M437.9 476.38h0M427.56 385.25h0M427.56 419.28h0M436.08 398.64h0" stroke="#486595" stroke-width="1.35" stroke-linecap="round" fill="none"/>
<path d="M442.64 476.53h0M400.95 392.7h0M411.13 395.64h0M440.45 445.41h0M393.49 433.9h0M409.4 438.39h0M430.7 420.45h0M371.74 401.74h0M439.76 444.62h0M446.61 463.86h0M463.85 415.85h0M467.15 449.92h0M440.97 395.34h0M426.7 392.75h0M387.85 415.41h0M441.51 439.34h0M417.94 425.1h0M443.89 468.88h0M459.92 450.76h0M368.53 412.81h0M455.99 427.41h0M454.16 456.43h0M388.71 395.52h0M390.84 431.33h0M394.31 421.44h0M406.24 401.53h0M373.04 430.14h0M440.91 421.5h0M466.82 458.04h0M384.87 447.67h0M396.04 439.08h0M375.9 433.82h0M374.21 421.81h0M423.19 457.81h0M460.37 437.9h0M403.27 443.02h0M392.2 440.01h0M397.4 418.58h0M370.35 412.92h0M439.14 428.79h0M417.83 452.32h0M431.47 464.07h0M434.88 444.74h0M443.92 460.35h0M431.72 429.18h0M430.92 467.64h0M453.95 394.71h0M385.64 408.81h0M386.97 441.89h0M421.14 438.24h0M442.83 391.49h0M438.3 399.79h0M450.66 444.77h0M453.78 397.89h0M378.45 401.84h0M402.53 402.72h0M397.92 425.56h0M430.28 396.51h0M373.27 432.6h0M442.78 390.74h0M452.34 429.22h0M445.17 447.41h0M375.96 404.69h0M420.29 412.78h0M429.18 399.98h0M430.04 384.12h0M391.1 435.31h0M415.46 420.54h0M398.84 400.37h0M433.62 475.43h0M438.37 398.13h0M440.77 433.43h0M413.57 442.27h0M438.66 397.78h0M451.65 465.3h0M379 404.13h0M395.93 430.1h0M452.57 393.77h0M399.78 391.56h0M390.07 416.77h0M381.61 435.37h0M423.16 414.44h0M430.04 461.96h0M449.25 431.58h0M399.21 415.02h0M405.49 416.58h0M408.9 445.48h0M383.92 394.79h0M425.1 417.18h0M378.96 442.33h0M453.11 470.81h0M409.14 397.35h0M431.07 407.46h0M438.64 435.9h0M405.86 407.75h0M445.87 390.21h0M451.78 430.13h0M444.11 450.36h0M451.52 482.41h0M468.62 432.81h0M462.97 470.43h0M427.16 448.88h0M430.97 469.08h0M452.77 476.24h0M448.02 386.74h0M383.24 409.7h0M414.35 424.69h0M417.62 392.36h0M432.76 416.96h0M430.53 424.29h0M384.8 393.03h0M383.16 397.5h0M464.95 455.01h0M461.63 429.64h0M434.69 404.65h0M448.18 421.48h0M454.5 430.85h0M453.62 416.2h0M383.28 433.65h0M445.74 410.49h0M448.69 455.13h0M445.91 424.76h0M386.51 443.4h0M396.34 387.42h0M385.6 430.74h0M413.78 395.78h0M375 433.04h0M459.84 467.72h0M442.56 452.12h0M457.91 402.39h0M393.2 385.74h0M436.27 387.59h0M412.74 416.97h0M433.69 455.04h0M427.59 469.05h0M437.55 469.19h0M456.37 394.52h0M439.26 421.85h0M435.18 408.21h0M393.28 408.21h0M403.76 432.08h0M458.59 481.32h0M399.67 436.19h0M428.29 450.77h0M436.72 457.18h0M368.97 431.09h0M367.83 421.49h0M395.82 410.06h0M433.94 399.91h0M432.7 404.12h0M410.68 454.02h0M419.4 425.78h0M466.01 436.3h0M420.95 445.57h0M426.77 434.67h0M380.18 395.87h0M434.71 465.58h0M457.06 464.45h0M449.71 398.59h0M447.79 480.99h0M465.75 460.46h0M454.26 467.7h0M406.87 435.53h0M375.04 412.93h0M434.46 397.14h0M440.6 450.61h0M448.38 435.95h0M418.23 421.12h0M424.49 459.87h0M398.22 451.71h0M459.39 473.54h0M392.23 400.53h0M449.63 442.36h0M428.62 419.69h0M432.72 419.18h0M375.89 408.42h0M373.05 420.16h0M440.76 429.95h0M381.63 409.18h0M462.2 452.63h0M390.27 389.58h0M428.45 412.75h0M443.89 407.16h0M411.17 400.43h0M428.68 442.45h0M415.95 403.99h0M438.06 463.9h0M468.75 443.84h0M453.48 465.43h0M397.97 440.74h0M374.35 410.26h0M375.96 430.78h0M401.09 395.58h0M459.67 440.15h0M434.94 427.89h0M406.89 407.46h0M445.14 455.23h0M418.65 411.62h0M379.25 390.91h0M369.49 430.7h0M418.6 395.93h0M369.96 402.64h0M392.24 424.76h0M451.16 453.18h0M404.09 451.75h0M425.74 394.41h0M369.21 416.33h0M421.35 413.65h0M433.36 428.56h0M416.6 443.23h0M441.34 429.86h0M417.27 452.56h0M369.41 427.12h0M389.51 390.5h0M405.22 412.01h0M421.36 410.07h0M415.87 421.02h0M400.15 387.64h0M458.88 438.36h0M465.76 448.67h0M438.42 437.75h0M434.16 454.85h0M442.05 391.52h0M437.31 401.15h0M395.22 405.54h0M419.31 409.37h0M390.63 419.87h0M435.31 413.59h0M382.87 389.54h0M377 406.31h0M418.33 404.96h0M417.1 434.32h0M401.91 457.5h0M427.27 471.93h0M406.43 404.61h0M418.66 403.72h0M373.56 439.77h0M446.08 385.47h0M382.85 395.98h0M444.2 447.57h0M382.89 445.96h0M435.86 410.25h0M461.58 405.52h0M402.8 410.79h0M426.46 416.39h0M397.79 412.68h0M386.52 417.11h0M397.01 425.81h0M442.6 439.74h0M437.2 426.19h0M454.81 440.53h0M437.36 396.8h0M435.89 470.79h0M403.14 415.88h0M464.18 427.64h0M381.32 429.54h0M451.34 463.45h0M414.39 436.12h0M383.45 410.56h0M391.27 418.7h0M463.55 420.15h0M437.6 456.89h0M376.53 435.63h0M395.26 442.48h0M465.76 455.28h0M438.81 463.71h0M405.71 418.96h0M411.19 387.81h0M381.64 427.66h0M410.07 390.47h0M438.08 456.82h0M386.79 441.7h0M388.69 444.46h0M399.39 398.73h0M399.91 385.08h0M459.53 445.08h0M435.82 454.35h0M443.35 407.24h0M404 424.81h0M422.45 461.83h0M417.93 421.28h0M389.45 408.31h0M430.52 401.38h0M436.24 404.38h0M417.63 456.75h0M401.36 400.5h0M381.87 435.26h0M380.72 437.55h0M431.96 417.07h0M386.96 431.21h0M461.28 406.12h0M447.04 468.46h0M373.33 412.32h0M382.14 432.63h0M403.99 449.58h0M415.38 394.92h0M389.72 399.18h0M415.13 415.94h0M437.26 420.24h0M367.71 428.76h0M430.11 409h0M431.58 475.39h0M453.47 435.59h0M422.72 398.22h0M436.85 460.86h0M377.47 412.08h0M448.37 435.84h0M425.1 461.41h0M425.08 418.9h0M429.8 453.84h0M433.73 428.2h0M400.05 386.73h0M423.06 387.35h0M419.89 398.57h0M460.97 454.62h0M425.07 418.52h0M427.75 438.82h0M424.89 454.43h0M441.61 455.2h0M437.02 426.58h0M447.43 427.51h0M380.87 390.37h0M454.83 476.89h0M383.11 442.55h0M383.18 432.06h0M392.5 452.7h0M403.82 422.74h0M448.33 409.59h0M448.18 435.47h0M417.34 400.67h0M414.4 413.89h0M451.34 396.25h0M423.03 429.48h0M378.42 398.39h0M419.35 458.57h0M446.26 440.17h0M436.88 446.15h0M399.14 388.16h0M440.95 401.68h0M448.9 482.64h0M432.55 464.75h0M434.88 389.98h0M443.17 432.81h0M384.01 411h0M377.07 428.15h0M420.68 411.77h0M372.9 403.36h0M420.47 458.16h0M402.15 403.07h0M409.58 420.77h0M367.19 427.11h0M385.64 440.12h0M423.35 459.25h0M409.68 416.85h0M423.84 442.83h0M367.99 428.85h0M388.07 442.05h0M438.09 439.46h0M448.94 469.7h0M372.21 436.72h0M409.17 427.62h0M457.02 411.65h0M460.87 401.95h0M384.55 446.48h0M462.35 434.03h0M443.52 474.59h0" stroke="#436f96" stroke-width="1.35" stroke-linecap="round" fill="none"/>
<path d="M448.72 457.73h0M376.9 402.02h0M459.98 445.86h0M430.74 460.88h0M429.5 453.31h0M374.16 442.2h0M435.66 461.67h0M421.27 455.64h0M424.36 395.98h0M425.44 447.14h0M393.96 410.06h0M437.5 393.4h0M460.7 458.21h0M427.49 425.75h0M442.17 434.91h0M458.72 442.1h0M384.61 434.01h0M425.96 438.64h0M392.17 453.39h0M389.74 396.59h0M406.77 401.09h0M457.91 422.21h0M450.44 462.02h0M453.77 462.11h0M436.74 452.79h0M409.97 399.77h0M416.29 395.54h0M369.84 415.74h0M456.18 456.04h0M447.6 453.43h0M451 399.34h0M430.74 383.89h0M386.92 427.51h0M449.6 440.62h0M454.15 437.09h0M401.31 444.72h0M455.39 398.93h0M440.89 467.47h0M386.29 416.69h0M385.43 447.54h0M441.53 460.9h0M367.46 427.74h0M377.54 404.96h0M420.44 421.02h0M385.79 418.84h0M430.56 395.03h0M442.28 460.58h0M438.5 457.24h0M451.16 437.36h0M430.89 467.4h0M440.59 433.9h0M426.54 428.45h0M433.66 440.93h0M388.98 433.44h0M450.23 467.56h0M411.68 400.34h0M436.82 453.02h0M439.41 458.91h0M445.07 457h0M453.35 428.45h0M423.86 421.84h0M431.97 460.35h0M444.96 434.55h0M423.81 415.52h0M418.13 458.98h0M383.78 391.37h0M397.94 458.08h0M459.69 403.08h0M411.43 456.4h0M456.61 414.35h0M427.85 419.96h0M429.41 459.57h0M450.48 407.82h0M388.66 421.54h0M419.69 385.07h0M415.94 416.78h0M461.74 426.05h0M457.93 466.65h0M429.54 460.63h0M451.66 474.55h0M410.13 453.44h0M401.56 384.79h0M456.48 435.32h0M379.72 433.05h0M366.48 422.78h0M429.69 451.2h0M462.61 424.63h0M446.95 463.56h0M425.11 411.95h0M420.41 453.28h0M463.65 468.58h0M405.98 398.94h0M366.93 415.47h0M373.03 393.68h0M432.1 454.94h0M426.92 442.76h0M446.87 443.45h0M453 473.21h0M380.31 404.85h0M417.54 420.54h0M438.3 385.19h0M381.03 437.65h0M451.12 429.41h0M424.48 466.51h0M436.57 461.51h0M393.66 408.38h0M436.63 466.4h0M405.53 418.53h0M449.13 453.36h0M461.99 443.07h0M454.7 459.81h0M372.53 433.09h0M369.71 416.76h0M374.56 409.07h0M435.23 387.65h0M407.41 455.43h0M454.04 407.16h0M439.25 424.15h0M425.5 454.52h0M424.07 422.9h0M462.54 464.94h0M413.13 439.76h0M380.01 393.78h0M447.84 478.69h0M416.62 389.06h0M408.4 452.41h0M436.38 471.05h0M398.3 424.25h0M434.48 385.71h0M442.61 469.23h0M398.49 409.93h0M442.07 403.59h0M436.45 444.22h0M453.23 448.61h0M462.64 446.23h0M419.97 428.41h0M388.25 450.35h0M448.72 386.78h0M436.21 462.64h0M451.06 465.5h0M402.43 455.56h0M459.72 459.08h0M442.11 475.04h0M449.39 457.23h0M453.48 476.65h0M378.98 435.55h0M427.37 469.58h0M398.12 420.12h0M410.48 387.96h0M457.66 479.41h0M378.68 399.35h0M455.3 471.23h0M401.8 452.47h0M398.41 457.36h0M452.73 473.31h0M402.9 401.73h0M382.98 404.92h0M456.04 458.76h0M430.47 447.08h0M395.87 442.94h0M434.7 464.1h0M396.14 425.84h0M450.59 474.94h0M381.73 397.27h0M438.1 392.66h0M430.16 467.15h0M440.97 401.99h0M420.99 461.13h0M398.53 454.64h0M445.87 432.41h0M425.79 468.1h0M373.42 410.18h0M378.62 441.03h0M449.71 429.91h0M463.71 466.89h0M377.87 392h0M386.39 429.09h0M442.14 421.02h0M421.43 458.33h0M449.35 480.46h0M433.8 469.94h0M450.25 404.94h0M454.6 465.68h0M443.91 397.15h0M402.9 410.21h0M453.28 466.93h0M460.18 461.67h0M451.32 448.09h0M424.43 463.32h0M425.97 415.13h0M467.75 428.57h0M405.61 428.86h0M380.91 435.54h0M427.31 428.91h0M401.3 397.98h0M370.12 415.93h0M396.45 433.32h0M426.66 406.18h0M452.78 483.7h0M441.11 477.34h0M424.7 463.75h0M446.3 412.22h0M439.49 426.54h0M460.76 470.35h0M448.43 474.44h0M454.04 392.85h0M450.89 482.98h0M404.84 424.13h0M458.72 465.52h0M393.45 434.55h0M427.81 461.92h0M401.04 389.69h0M450.59 429.81h0M449.13 456.74h0M460.59 458.8h0M432.28 476.61h0M456.77 424.96h0M433.21 467.16h0M387.53 439.14h0M417.92 440.81h0M454.8 483.48h0M411.91 413.3h0M455.86 468.53h0M463.36 459.21h0M454.97 455.45h0M391.3 429.31h0M372.72 423.02h0M429.61 423.17h0M447.79 458.29h0M369.29 396.76h0M450.4 473.75h0M414.52 394.62h0M455.93 468.47h0M432.92 474.09h0M417.62 452.96h0M446.38 446.74h0" stroke="#3f7997" stroke-width="1.35" stroke-linecap="round" fill="none"/>
<path d="M424.48 465.93h0M460.91 469.15h0M392.49 403.09h0M439.37 465.04h0M444.72 461.41h0M428.61 461.51h0M425.87 409.95h0M408.22 391.51h0M405.97 425.61h0M382.25 418.36h0M445.54 460.55h0M455.5 471.39h0M402.79 441.15h0M438.83 447.88h0M407.97 446.92h0M398.65 444.67h0M443.41 457.06h0M391.43 452.01h0M432.6 455.01h0M401.58 436.74h0M465.98 460.26h0M455.15 394.93h0M437.97 471.68h0M438.77 459.85h0M431.61 453.63h0M451.58 438.21h0M442.75 461.59h0M438.32 409.92h0M461.32 451.93h0M442.19 457.73h0M393.71 418.29h0M465.42 450.62h0M455.95 421.33h0M388.72 425.31h0M455.23 429.41h0M449.37 458.14h0M368.95 412.51h0M381.33 430.32h0M389.83 397.17h0M437.57 384.16h0M376.86 434.6h0M447.8 477.52h0M438.97 434.29h0M374.7 440.71h0M446.99 470.26h0M460.51 427.78h0M430.14 453.26h0M385.08 434.74h0M408.38 416.54h0M400.35 418.01h0M448.84 474.25h0M463.24 461.52h0M454.88 474h0M417.98 437.65h0M448.92 474.04h0M395.41 453.88h0M444.39 468.69h0M447.83 470.69h0M466.11 455.62h0M391.33 437.27h0M442.54 473.39h0M383.41 449.06h0M399.72 430.64h0M401.62 409.02h0M408.35 418.24h0M437.75 453.1h0M447.29 438.39h0M443.81 479.48h0M390.54 444.73h0M377.94 433.48h0M420.57 453.77h0M458.62 466.49h0M451.14 469.28h0M379.48 442.86h0M436.64 437.72h0M455 481.97h0M453.95 485.89h0M380.4 396.59h0M382.18 418.01h0M451.29 468.41h0M463.71 449.75h0M423.72 424.05h0M457.99 469.24h0M422.63 391.96h0M436.7 460.6h0M371.52 418.16h0M455.96 463.67h0M432.7 472.76h0M410.87 429.01h0M452.47 474.16h0M454.38 450.74h0M447.72 438.37h0M450.97 467.74h0M434.54 466.4h0M385.68 422.25h0M437.08 386.36h0M440.13 456.11h0M446.45 443.83h0M436.21 403.23h0M453.96 476.15h0M455.14 474.01h0M408.53 419.07h0M450.68 429.95h0M369.45 425.93h0M442.26 435.2h0M463.07 467.04h0M459.08 457.99h0M453.58 457.45h0M449.21 471.76h0M437.67 477.55h0M394.95 438.99h0M415.74 421.61h0M430.61 422.12h0M382.87 442.99h0M390.64 448.87h0M441.44 459.35h0M451.11 471.12h0M380.84 437.15h0M410.61 422.51h0M393.04 386.62h0M430.66 456.97h0M426.26 419.23h0M420.96 440.03h0M401 396.95h0" stroke="#3b8297" stroke-width="1.35" stroke-linecap="round" fill="none"/>
<path d="M389.19 440.32h0M397.25 402.4h0M421.17 460.2h0M400.17 407.17h0M418.33 438.91h0M448.06 481.14h0M441.07 458.75h0M442.03 460.45h0M443.71 465.87h0M452.43 473.47h0M432.21 399.18h0M444.22 481.46h0M432.03 458.34h0M423.11 461.47h0M460.9 465.16h0M445.32 468.89h0M454.85 415.46h0M437.11 445.95h0M394.82 434.24h0M410.22 397.28h0M455 395.28h0M457.19 468.49h0M451.39 454.06h0M452.86 465.25h0M428.99 464.5h0M418.95 443.69h0M441.43 474.93h0M451.02 482.07h0M453.47 481.21h0M428.13 442.81h0M378.94 444.09h0M401.1 419.65h0M431.83 468.56h0M461.53 459.33h0M433.15 474.22h0M438.39 426.22h0M434.01 463.92h0M427.24 466.55h0M408.77 392.54h0M448.75 464.53h0M382.44 438.78h0M437.79 456.61h0M444.67 475.32h0M455.06 478.72h0M393.5 449.29h0M455.49 460.56h0M421.46 410.72h0M440.09 464.4h0M461.6 470.78h0M432.49 387.24h0M447.47 466.61h0M462.45 461.23h0M450.85 464.93h0M450.63 459.03h0M460.15 463.95h0M429.66 464.43h0M431.06 474.18h0M452.81 476.26h0M447.89 476.08h0M454.42 411.22h0M451.98 460.99h0M435.18 428.52h0M437.46 476.68h0M461.71 461.83h0M457.58 472.66h0M424.82 390.23h0M397.89 437.13h0M463.77 465.32h0M383.36 440.06h0M426.02 469.22h0M420.89 407.77h0M452.68 475.52h0M452.37 475.83h0M443.59 455.72h0M441.45 451.44h0M458.05 476.66h0M399.79 403.5h0M450.15 459.69h0M374.08 415.68h0" stroke="#378c97" stroke-width="1.35" stroke-linecap="round" fill="none"/>
<path d="M454.39 483.48h0M457.37 475.2h0M442.41 476.88h0M441.17 472.4h0M459.49 461.07h0M462.85 465.88h0M438.38 462.33h0M422.78 411.8h0M455.86 474.9h0M380.22 426.98h0M371.87 424.36h0M457.53 473.88h0M446.94 413.45h0M431.38 472.64h0M445.64 461.39h0M456.09 468.72h0M454.28 474.95h0M449.18 453.63h0M457.28 482.95h0M427.85 473h0M444.54 455.99h0M436.18 473.67h0M444.47 477.71h0M438.79 468.01h0M464.87 461.82h0M455.09 472.38h0M445.44 410.12h0M448.07 467.47h0" stroke="#349496" stroke-width="1.35" stroke-linecap="round" fill="none"/>
<path d="M379.6 432.12h0M442.16 475.63h0M430.25 463.33h0M433.7 467.21h0M448.87 476.86h0M441.07 465.7h0M439.69 472.07h0M376.82 435.93h0M455.7 469.57h0M369.56 413.01h0M429.06 473.32h0M459.86 464.5h0M459.77 459.22h0M426.36 463.57h0M463.54 465.5h0" stroke="#319d94" stroke-width="1.35" stroke-linecap="round" fill="none"/>
<path d="M434.42 475.28h0M441.03 478.55h0M449.77 465.17h0M439.15 471.31h0M456.69 484.93h0" stroke="#31a892" stroke-width="1.35" stroke-linecap="round" fill="none"/>
<path d="M432.99 468.45h0" stroke="#3fb986" stroke-width="1.35" stroke-linecap="round" fill="none"/>
<path d="M428.51 458.79h0M429.79 467.39h0" stroke="#c0e139" stroke-width="1.35" stroke-linecap="round" fill="none"/>
<rect x="359.6" y="378.3" width="116.4" height="113" fill="none" stroke="#d9d9d9" stroke-width="0.8"/>
<text x="417.8" y="375" font-size="8.34" text-anchor="middle" stroke="#111111" textLength="52.97" lengthAdjust="spacingAndGlyphs">AXL pathway</text>
<rect x="478.2" y="378.3" width="4" height="113" fill="url(#vg2)"/>
<line x1="482.2" y1="482.85" x2="484.2" y2="482.85" stroke="#333" stroke-width="0.5"/>
<text x="485.9" y="484.64" font-size="5.77" stroke="#111111" textLength="8.91" lengthAdjust="spacingAndGlyphs">0.0</text>
<line x1="482.2" y1="460.32" x2="484.2" y2="460.32" stroke="#333" stroke-width="0.5"/>
<text x="485.9" y="462.11" font-size="5.77" stroke="#111111" textLength="8.91" lengthAdjust="spacingAndGlyphs">0.1</text>
<line x1="482.2" y1="437.79" x2="484.2" y2="437.79" stroke="#333" stroke-width="0.5"/>
<text x="485.9" y="439.58" font-size="5.77" stroke="#111111" textLength="8.91" lengthAdjust="spacingAndGlyphs">0.2</text>
<line x1="482.2" y1="415.25" x2="484.2" y2="415.25" stroke="#333" stroke-width="0.5"/>
<text x="485.9" y="417.05" font-size="5.77" stroke="#111111" textLength="8.91" lengthAdjust="spacingAndGlyphs">0.3</text>
<line x1="482.2" y1="392.72" x2="484.2" y2="392.72" stroke="#333" stroke-width="0.5"/>
<text x="485.9" y="394.51" font-size="5.77" stroke="#111111" textLength="8.91" lengthAdjust="spacingAndGlyphs">0.4</text>
<path d="M571.42 396.59h0M576 386.6h0M540.09 427h0M545.92 426.02h0M639.69 442.43h0M629.92 411.51h0M555.77 442.91h0M576.74 439.27h0M582.78 414.15h0M585.58 412.6h0M612.47 406.61h0M615.8 411.33h0M548.91 425.33h0M552.62 432.95h0M609.11 462.59h0M631.78 414.1h0M601.03 442.73h0M627.9 481.96h0M608.66 386.89h0M625.92 410.97h0M586.51 398.44h0M550.14 406.99h0M625.63 473.28h0M581.43 418.95h0M555.27 405.31h0M589.05 443.72h0M611.54 435.8h0M609.98 386.17h0M621.33 474.41h0M578.92 423.27h0M605.39 387.06h0M558.83 397.82h0M552.54 391.28h0M603.18 396.34h0M586.98 432.4h0M547.17 417.21h0M640.05 437.17h0M630.45 455.23h0M576.11 398.33h0M572.06 404.35h0M624.19 468.37h0M560.8 436.03h0M566.56 408.24h0M640.65 428.46h0M634.5 470.74h0M615.3 398.65h0M624.24 396.08h0M574.33 439.37h0M607.08 436.99h0M626.39 403.06h0M568.05 406.23h0M564.37 425.42h0M635.56 418.41h0M590.88 437.56h0M623.43 398.9h0M547.6 440.62h0M635.83 428.03h0M585.49 437.71h0M639.01 455.56h0M627.9 395.11h0M584.37 388.17h0M621.77 476.83h0M614.35 451.37h0M627.07 397.73h0M592.41 416.83h0M570.84 458.02h0M572.26 447.46h0M547.46 408.92h0M621.23 409.45h0M625.6 408.17h0M636.56 441.73h0M611.29 426.1h0M638.66 448.59h0M585.64 416.84h0M637.38 409.17h0M593.64 406.01h0M553.66 385.78h0M570.13 413.16h0M616.2 439.62h0M627.06 456.37h0M580.27 417.74h0M550.2 387.97h0M563.96 397.92h0M628.04 473.98h0M566.84 406.41h0M586.26 397.31h0M642.41 439.2h0M577.75 431.41h0M564.9 390.02h0M569.28 405.4h0M593.89 461.08h0M614.33 474.9h0M606.37 385.07h0M633.58 447.83h0M624.86 395.35h0M624.04 469.24h0M633.68 453.8h0M550.55 419.15h0M627.44 440.43h0M604.51 453.56h0M617.86 434.45h0M608.13 387.47h0M563.59 388.37h0M615.79 402.43h0M619.91 446.71h0M617.31 413.1h0M565.4 452.63h0M609.93 411.64h0M586.83 430.51h0M633.77 401.79h0M612.95 405.25h0M585.31 412.84h0M573.63 414.36h0M627.8 393.27h0M614.01 477.32h0M576.72 422.62h0M600.46 419.15h0M566.1 385.55h0M627.32 411.08h0M563.27 408.94h0M556.76 420.51h0M596.09 457.75h0M616.12 428.85h0M606.51 411.14h0M587.66 417.32h0M564.46 450.91h0M596.97 422.77h0M553.68 402.72h0M590.38 404.03h0M551.27 401.06h0M573.41 390.16h0M618.02 424.75h0M542.78 410.21h0M549.76 434.5h0M630.4 403.59h0M634 431.26h0M629.59 484.92h0M614.96 449.98h0M586.03 439.67h0M621.59 405.38h0M606.62 413.03h0M563.54 448.79h0M548.26 387.93h0M599.77 422.1h0M606.52 475.41h0M561.68 406.93h0M590.52 452.9h0M572.98 425.59h0M616.86 434.66h0M625.71 405.19h0M619.2 412.08h0M590.24 400.51h0M632.67 459.16h0M637.92 415.77h0M638.39 460.62h0M608.69 421.08h0M572.29 398.57h0M566.61 418.16h0M558.69 418.72h0M625.93 426.87h0M587.8 420.45h0M557.11 419.54h0M636.66 408h0M634.31 416.83h0M640.78 446.71h0M614.4 414.4h0M636.27 448.54h0M538.65 405.51h0M578.28 407.36h0M616.79 468.84h0M544.64 401.58h0M563.05 387.33h0M596.45 415.4h0M564.98 389.41h0M561.62 425.19h0M609.75 460.8h0M608.69 393.39h0M616.75 401.78h0M562.84 396.85h0M599.27 415.46h0M627.96 478.7h0M568.13 393.18h0M642.45 443.08h0M601.22 447.03h0M576.33 395.57h0M563.88 444.83h0M571.8 453.31h0M570.15 402.24h0M595.96 387.17h0M545.97 397.97h0M580.83 410.83h0M597.98 418.78h0M575.8 401.57h0M634.64 425.93h0M586.42 397.84h0M576.57 434.61h0M566.99 436.41h0M547.9 433.11h0M603.87 469.04h0M621.97 404.25h0M628.6 469.53h0M559.86 423.35h0M577.96 393.6h0M615.31 476.86h0M597.52 461.82h0M627.7 393.02h0M596.18 447.8h0M581.95 443.02h0M608.08 428.41h0M589.55 405.66h0M587.77 391.88h0M583.11 390.23h0M621.08 435.37h0M591.13 421h0M625.16 401.2h0M622.25 480.44h0M558.79 408.63h0M570.9 384.33h0M610.36 476.66h0M621.87 392.74h0M605.62 419.05h0M596.74 442.74h0M604.9 422.76h0M599.16 419.11h0M584.38 399.37h0M600.1 451.74h0M552.33 446.61h0M550.44 404.8h0M574.83 391.8h0M560.53 443.12h0M558.33 447.46h0M562.64 396.42h0M605.82 474.06h0M579.97 408.78h0M606.56 440.84h0M606.63 428.09h0M616.25 407.09h0M580.41 405.92h0M551.56 401.82h0M555.1 413.63h0M621.66 457.3h0M628.39 460.5h0M617.15 429.02h0M547.51 405.35h0M612.05 471.27h0M565.1 439.92h0M622.26 436.63h0M571.94 406.08h0M605 454.87h0M627.87 455.39h0M598.4 413.46h0M604.12 388.73h0M573.73 395.62h0M605.35 455.32h0M625.67 476.21h0M547.71 402.49h0M624.84 448.56h0M605.09 411.27h0M558.42 414.68h0M614.31 419.94h0M641.47 434.54h0M603.64 383.7h0M573.94 456.14h0M556.18 433.55h0M627.01 408.39h0M567.04 403.45h0M590.52 392.19h0M612.27 464.99h0M574.9 423.52h0M561.55 429.93h0M574.12 415.49h0M628.24 451.57h0M554.54 427.55h0M599.36 393.92h0M632.84 405.95h0M552.91 397.14h0M571.72 436.52h0M571.89 400.72h0M615.73 391.31h0M547.11 421.68h0M622.97 459.22h0M557.46 448.97h0M558.58 422.13h0M611.87 434.19h0M586.68 395.61h0M635.34 426.61h0M617.96 425.65h0M615.01 475.01h0M612.59 472.04h0M604.74 390.89h0M563.35 425.92h0M604 424.38h0M607.6 464.05h0M638.91 436.2h0M598.86 438.55h0M593.07 424.49h0M574.89 386.45h0M581.79 425.59h0M574.52 408.88h0M617.12 481.44h0M578.88 403.16h0M620.97 467.43h0M587.33 440.81h0M605.89 468.41h0M587.21 412.02h0M565.25 420.82h0M614.97 410.61h0M569.02 431.93h0M605.72 451.26h0M635.1 464.68h0M626.95 448.45h0M607.76 407.25h0M551.61 405.49h0M573.9 396.78h0M622.61 398.42h0M602.56 464.38h0M633.8 465.11h0M594.07 460.15h0M632.57 440.06h0M561.61 395.35h0M542.39 430.6h0M589.76 433.94h0M627.99 430.69h0M602.7 453.77h0M604.41 416.78h0M576.06 431.4h0M620.31 403.03h0M580.17 434.54h0M607.61 465.53h0M570.69 412.54h0M605.45 464.7h0M541.43 412.67h0M602.59 451.13h0M635.54 446.15h0M604.58 455.26h0M610.5 403.22h0M547.08 399.86h0M620.74 478.66h0M622.05 440.81h0M569.04 425.72h0M624.66 442.23h0M581.12 391.34h0M614.7 406.42h0M556.5 385.76h0M614.07 472.36h0M613.59 429.89h0M589.2 386.79h0M598.9 427.54h0M581.72 421.85h0M626.52 416.07h0M601.77 413.55h0M633.17 420.87h0M624.34 410.83h0M625.27 475.8h0M627.16 467.66h0M598.57 409.81h0M624.29 453.99h0M573.94 389.51h0M623.24 401.92h0M602.4 453.24h0M558.6 407.76h0M622.61 429.8h0M624.24 463.4h0M632.84 436.48h0M600.47 400.71h0M575.69 441.06h0M592.58 396.39h0M622.14 397.16h0M573.73 436.23h0M630.76 432.66h0M619.94 468.42h0M563.78 384.44h0M555.77 389.36h0M601.43 423.1h0M597.75 449.26h0M609.27 422.64h0M540.22 407.88h0M622.03 456.68h0M638.78 453.16h0M571.43 408h0M584.93 390.79h0M628.15 447.94h0M588.24 447.92h0M560.24 386.46h0M565.14 424.65h0M572.59 398.41h0M609.11 403.07h0M567.31 408.09h0M546.67 411.49h0M573.29 395.44h0M627.05 436.99h0M559.87 441.81h0M613.85 401.52h0M590.21 409.82h0M603 456.48h0M599.77 402.12h0M630.58 433.38h0M635.58 431.62h0M592.87 428.3h0M625.33 473.44h0M613.81 421.38h0M640.38 433.58h0M594.04 438.15h0M601.58 442.36h0M612.87 391.43h0M614.45 385.22h0M549.34 423.99h0M600.75 472.97h0M598.67 460.65h0M626.37 481.19h0M593.5 422.91h0M621 416.77h0M572.66 427.21h0M582.18 448.4h0M594.07 387.81h0M565.07 453.32h0M603.97 407.31h0M567.45 413.21h0M592.21 409.23h0M594.4 396.32h0M550.37 411.94h0M567.54 406.54h0M602.73 441.68h0M587.3 413.76h0M560.24 435.47h0M562.09 440.23h0M553.34 387.55h0M584.13 387.03h0M547.95 404.58h0M628.99 468.68h0M616.82 460.3h0M613.52 478.73h0M619.77 443.36h0M641.33 441.87h0M621.74 474.22h0M577.52 429h0M615.11 411.86h0M622.11 471.73h0M584.58 400.17h0M551.86 442.25h0M627.7 483.47h0M597.8 433.85h0M620.62 438.27h0M578.61 418.83h0M576.96 423.48h0M554.67 414.57h0M626.37 435.49h0M633.87 454.55h0M582.04 397.18h0M591.97 434.66h0M555.95 448.12h0M605.64 384.91h0M622.17 413.35h0M628.14 443.4h0M557.51 433.9h0M565.1 449.92h0M580.97 393.43h0M619.09 391.83h0M554.65 436.55h0M603.06 467.11h0M571.31 457.3h0M554.53 409.04h0M634.89 442.98h0M585.21 421.84h0M633.43 443.02h0M584.1 447.06h0M629.51 414.22h0M625.26 413.02h0M641.03 433.66h0M562.57 422.28h0M560.22 413.61h0M562.62 399.02h0M567.8 440.75h0M594.39 421.83h0M626.35 418.14h0M556.91 410.86h0M546.13 409.36h0M549.97 428.04h0M624.07 397.49h0M615.04 420.9h0M591.23 404.8h0M600.28 419.94h0M602.54 403.22h0M549.43 435.54h0M578.1 451.07h0M571.12 451.64h0M597.48 419.24h0M560.77 393.93h0M566.89 423.74h0M550.45 410.1h0M610.35 451.73h0M616.31 457h0M557.67 412.96h0M540.28 413.8h0M598.38 457.43h0M583.58 453.96h0M620.95 411.16h0M629.45 445.68h0M562.74 392.32h0M618 389.63h0M626.67 410.6h0M639.54 425.96h0M611.67 459.79h0M604.72 429.06h0M612.39 426.43h0M619.36 385.06h0M624.15 408.45h0M595.51 407.22h0M575.14 424.63h0M569.97 395.05h0M609.34 405.94h0M592.38 428.22h0M551.52 440.94h0M625.21 439.32h0M601.5 429.96h0M626.94 392.67h0M566.73 401.56h0M585.01 392.51h0M587.27 419.4h0M547.9 432.94h0M636.61 449.67h0M638.32 450.55h0M562.91 395.27h0M620.73 470.65h0M556.31 448.99h0M571.74 400.21h0M571.02 420h0M562.18 384.8h0M604.73 468.52h0M590.09 434.08h0M568.77 442.86h0M611.27 397.96h0M540.36 427.63h0M627.99 472.35h0M582.54 410.83h0M592.3 425.66h0M568.35 428.02h0M574.08 401.38h0M603.82 467.59h0M610.01 445.87h0M588.59 449.98h0M610.25 428.47h0M608.26 420.37h0M581.55 437.36h0M579.36 392.65h0M633.37 439.31h0M630.33 407.62h0M594.07 407.41h0M596.61 404.73h0M544.77 424.24h0M614.95 391.34h0M578.88 398.78h0M597.6 463.71h0M620.92 386.55h0M601.02 403.28h0M613.4 426.17h0M603.96 474.15h0M610.45 469.15h0M639.72 457.98h0M602.06 391.08h0M623.86 392.51h0M609.87 407.74h0M611.18 421.32h0M631.78 438.27h0M624.42 482.39h0M573.45 396.6h0M631.52 466.44h0M610.34 422.58h0M602.83 388.52h0M600.46 385.06h0M575.49 430.67h0M578.43 418.4h0M599.36 416.26h0M590.7 408.55h0M597.33 463.27h0M620.71 448.45h0M575.7 410.65h0M631.49 481.31h0M616.91 435.09h0M574.33 439.59h0M542.61 416.63h0M576.18 406.54h0M574.2 394.95h0M598.22 412.89h0M543.25 412.79h0M615.5 439.65h0M599.82 388.97h0M543.4 432.47h0M566.18 408.06h0M554 409.19h0M559.88 423.33h0M601.96 473.29h0M641.37 445h0M624.56 474.52h0M550.95 400.6h0M631.78 449.18h0M559.21 415.5h0M607 423.95h0M572.95 386.54h0M572.59 433.53h0M637.23 441.03h0M615.22 415.76h0M553.08 395.71h0M582.3 438.29h0M596.72 451.06h0M619.51 463.81h0M585.58 410.29h0M607.7 463.62h0M618.77 390.03h0M596.74 399.92h0M590.58 448.77h0M616.24 387.4h0M639.38 447.8h0M563.56 408.57h0M606.31 412.46h0M559.69 441.61h0M630.43 473.84h0M618.22 468.85h0M601.38 429.08h0M632.59 402.93h0M630.46 399.97h0M616.52 390.85h0M610.7 390.07h0M636.49 457.4h0M611.43 384.44h0M561.34 426.66h0M582.87 399.61h0M590.78 392.45h0M574.23 403.5h0M632.62 459.02h0M555.38 408.82h0M580.65 440.22h0M607.45 438.86h0M631.63 457.55h0M570.82 425.44h0M578.34 421.81h0M557.7 392.86h0M621.77 478.07h0M611.95 415.25h0M596.06 414.31h0M629.38 435.22h0M604.87 460.3h0M613.92 422.68h0M603.04 453.19h0M604.8 438.77h0M603.01 408.85h0M593.11 431.62h0M593.85 436.71h0M625.92 429.86h0M540.73 421.36h0M625.47 393.6h0M563.51 391.42h0M623.88 436.43h0M545.62 422.9h0M612.04 428.68h0M623.34 461.97h0M610.41 419.82h0M561.99 420.24h0M557.97 441.72h0M566.04 415.21h0M605.6 472.73h0M603.6 420.33h0M584.41 419.85h0M568.3 424.23h0M624.71 418.26h0M613.88 420.41h0M572.04 387.98h0M577.5 436.91h0M634.61 461.78h0M600.85 430.11h0M627.86 424.98h0M609.34 459.99h0M596.59 463.09h0M548.92 404.1h0M625.44 391.3h0M618.42 441.06h0M610.5 456.83h0M625.37 474.13h0M572.57 436.09h0M564.7 414.03h0M629.97 440.12h0M581.97 385.86h0M630.83 466.61h0M564.12 402.09h0M596.84 385.87h0M594.32 424.34h0M600.78 429.25h0M542.31 427.01h0M597.38 466.47h0M609.72 452.95h0M558.63 391.21h0M621.8 482.62h0M608.08 408.07h0M611.04 397.02h0M612.11 384.85h0M568.12 405.39h0M539.6 421.23h0M560.43 439.05h0M583.03 453.37h0M626.64 393.5h0M593.58 411.63h0M618.09 433.76h0M546.17 432.49h0M551.28 409.53h0M628.49 404.79h0M572.44 428.72h0M617.22 399.6h0M546.46 439.68h0M601.16 429.98h0M592.16 390.82h0M550.43 442.52h0M576.99 451.68h0M631.56 432.01h0M548.8 433.72h0M548.86 430.67h0M594.58 434.86h0M557.62 423.78h0M549.9 406.16h0M598.4 454.45h0M618.06 396.89h0M561.59 444.38h0M613.76 387.05h0M611.69 467.97h0M624.68 430.02h0M581.07 424.14h0M610.26 396.63h0M551.35 401.68h0M635.35 461.18h0M557.77 447.59h0M622.06 390.3h0M574.2 397.81h0M609.6 460.54h0M600.59 427.18h0M621.82 474.01h0M641.13 437.54h0M622.15 407.46h0M561.39 401.66h0M561.88 433.34h0M610.98 456.76h0M621.76 465.71h0M580.44 389.73h0M627.49 416.88h0M627.5 465.64h0M581.8 445.4h0M572.69 403.34h0M628.4 446.96h0M545.62 409.51h0M556.14 409.56h0M553.74 437.06h0M563.43 418.25h0M592.22 420.87h0M633.79 452.02h0M604.27 428.12h0M635.25 433.93h0M627.33 453.87h0M633.49 458.75h0M539.83 415.34h0M551.81 443.55h0M541.1 422.54h0M606.18 410.57h0M567.85 438.9h0M624.06 453.11h0M611.58 410.2h0M598.92 469.18h0M616.78 398.72h0M541.85 412.37h0M556.47 413.64h0M557.59 414.87h0M547.86 408.35h0M565.19 402.3h0M605.7 464.1h0M618.34 409.98h0M636.38 437.29h0M604.95 408.3h0M565.04 406.54h0M596.01 461.42h0M548.17 413.37h0M611.71 463.67h0M638.88 460.21h0M574.26 400.34h0M573.05 387.46h0M609.06 442.5h0M622.26 470.53h0M609.47 461.46h0M617.29 468.65h0M566.09 387.6h0M626.18 409.73h0M560.49 390.46h0M575.35 455.58h0M604.84 395.29h0M542.46 428.29h0M626.52 392.25h0M604.86 416.94h0M598.19 403.79h0M624.48 438.12h0M591.21 425.95h0M604.93 458.28h0M579.77 435.43h0M588.28 394.75h0M610.69 456.55h0M573.38 400.79h0M566.91 401.25h0M612.99 401.52h0M597.29 455.77h0M636.65 458.07h0M542.86 402.48h0M630.48 458.01h0M547.67 396.91h0M635.75 465.83h0M625.92 394.16h0M635.44 456.74h0M616.13 421.68h0M628.05 394.76h0M559.41 443.31h0M622 430.23h0M633.27 437.81h0M589.01 449.13h0M600.06 448.8h0M584.09 387.63h0M541.87 430.98h0M607.06 454.79h0M601.54 387.11h0M626.13 448.53h0M618.83 391.53h0M590.97 447.02h0M623.47 388.71h0M595.68 411.65h0M624.79 429.62h0M607.12 402.64h0M595.75 418.27h0M619.41 396.26h0M601.51 436.3h0M636.26 459.16h0M635.87 470.4h0M628.99 426.69h0M584.33 456.34h0M568.88 417.84h0M546.36 427.99h0M618.35 409.85h0M636.75 415.71h0M620.79 476.06h0M594.2 391.64h0M553.62 437.46h0M545.8 403.2h0M611.61 402.86h0M641.5 449.54h0M607.78 444.66h0M569.24 387.24h0M537.58 419.24h0M548.34 433.46h0M611.22 409.77h0M555.46 391.13h0M580.74 454.51h0M615.68 390.56h0M623.84 452.49h0M608.12 443.49h0M555.75 395.81h0M607.36 441.62h0M629.27 394.35h0M563.53 419.75h0M548.19 407.07h0M567.21 421.31h0M560.5 401.22h0M578.03 419.65h0M627.51 405.62h0M613.84 390.44h0M588.46 399.06h0M584.16 393.09h0M596.69 388.05h0M617.42 440.9h0M593.42 406.15h0M630.6 403.2h0M544.14 429.08h0M558.46 451.66h0M588.68 399.72h0M607.44 435.71h0M594.76 405.54h0M623.92 482.05h0M629.8 419.91h0M555.88 404.76h0M584.03 395.47h0M617.94 443.09h0M579.98 453.4h0M603.96 403.63h0M571.2 424.13h0M576.91 397.79h0M564.2 429.2h0M613.87 395.17h0M552.31 395.11h0M542.22 405.56h0M600.06 429.02h0M633.19 451.52h0M639.06 424.21h0M537.91 411.51h0M624.3 450.63h0M548.75 406.58h0M600.14 466.51h0M598.39 399.89h0M563.97 405.8h0M593.31 453.21h0M617.1 447.5h0M609.53 466.35h0M606.84 399.75h0M634.48 405.37h0M549.95 404.3h0M565.1 384.2h0M580.43 425.62h0M599.12 418.61h0M583.83 399.23h0M553.6 420.12h0M619.89 470.22h0M605.43 456.17h0M568.91 407.87h0M594.51 458.4h0M572.69 436.53h0M581.66 431.86h0M553.77 390.19h0M612.21 408.64h0M615.73 417.11h0M597.31 385.88h0M611.78 421.79h0M623.96 465.46h0M597.82 395.23h0M599.73 391.97h0M562.35 408.17h0M594.33 458.27h0M615.25 404.13h0M570.04 451.61h0M553.21 404.7h0M626.48 457.39h0M622.91 413.67h0M614.9 386.35h0M592.2 396.63h0M631.98 430.02h0M549.08 434.87h0M576.66 428.42h0M638.18 446.9h0M585.86 448.85h0M586.97 446.97h0M620.33 427.4h0M579.09 390.48h0M541.6 411.34h0M550.77 391.82h0M553.93 437.56h0M554.5 399.04h0M582.58 416.72h0M548.79 408.28h0M602.08 411.41h0M614.34 459.3h0M573.07 407.03h0M571.14 398.95h0M573.37 400.53h0M625.9 473.18h0M628.83 468.43h0M576.02 420.65h0M577.38 392.22h0M635.51 424.52h0M633.08 461.62h0M636.61 466.85h0M615.65 461.54h0M563.7 450.9h0M627.87 394.73h0M628.76 474.87h0M638.65 460.4h0M607.38 385.53h0M621.65 464.49h0M559.42 416.97h0M546.98 415.54h0M623.15 404.79h0M557.7 430.05h0M623.79 482.96h0M605.18 476.58h0M634.43 459.27h0M631.62 442.01h0M600.27 469.54h0M588.95 425.15h0M608.81 402.73h0M612.14 393.79h0M582.97 390.29h0M625.76 465.2h0M623.71 403.92h0M558.06 412.82h0M616.11 400.45h0M590.73 452.25h0M597.38 465.88h0M635.58 439.66h0M631.02 419.26h0M597.26 395.82h0M623.9 425.94h0M564.35 410.05h0M614.43 460.84h0M563.96 435.93h0M558.09 443.33h0M617.97 456.94h0M639.29 427.96h0M610.14 395.65h0M562.81 401.75h0M580.87 446.85h0M553.71 403.86h0M557.12 414.32h0M556.08 431.95h0M639.37 431.06h0M600.76 395.92h0M574.74 426.09h0M611.57 422.51h0M628.94 458.7h0M579.94 426.88h0M596.63 451.63h0M622.54 443.82h0M596.1 423.65h0M571.36 431.94h0M605.93 431.65h0M564.51 420.21h0M594.96 410.03h0M552.06 404.88h0M583.48 401.11h0M629.94 421.85h0M631.5 461.4h0M604.94 392.44h0M555.79 445.88h0M613.23 399.19h0M552.65 418.11h0M610.47 383.97h0M622.53 442.27h0M632.43 445h0M630.03 478.75h0M551.58 399.19h0M623.75 464.89h0M581.3 452.34h0M615.69 424.32h0M603.3 414.38h0M622.67 465.12h0M629.83 432.92h0M619.26 442.02h0M600.17 426.31h0M547.25 410.11h0M631.32 427.87h0M606.97 390.86h0M614.97 403.43h0M566.4 420.21h0M618.99 429.43h0M587.72 393.12h0M595.18 459.99h0M605.67 420.85h0M588.28 389.71h0M615.77 417.27h0M556.27 395.06h0M549.13 400.36h0M572.79 397.98h0M620.37 448.2h0M629.52 428.06h0M635.97 467h0M617.48 405.32h0M596.62 423.93h0M550.99 430.94h0M565.3 419.9h0M619.35 443.75h0M632.94 419.9h0M578.12 439.24h0M549.56 410.93h0M610.99 419.33h0M609.29 419.12h0M596.52 402.49h0M609.2 453.95h0M541.38 426.23h0M570.24 441.5h0M600.49 469.01h0M558.17 399.64h0M592.4 415.15h0M580.31 455.37h0M626.85 485.88h0M617.64 409.44h0M604.19 450.63h0M615.44 439.65h0M634.48 407.79h0M553.3 396.43h0M623.62 397.57h0M598.84 440.64h0M542.35 425.82h0M618.8 406.38h0M562.41 390.32h0M578.39 416.45h0M560.32 452.42h0M602.08 399.82h0M544.98 416.03h0M606.98 425.92h0M562.73 397h0M628.72 450.05h0M604.4 386.64h0M572.68 391.38h0M614.42 435.28h0M609.26 426.96h0M579.58 401.7h0M560.35 423.46h0M590.95 432.89h0M609.28 433.66h0M625.11 431.29h0M588.91 394.03h0M615.1 417.79h0M576.12 456.96h0M615.44 473.36h0M614.43 392.75h0M540.62 418.39h0M635.44 464.9h0M597.91 401.5h0M588.84 416.65h0M591.85 443.6h0M566.35 434.44h0M581.81 451.79h0M594.18 410.02h0M612.99 464.36h0M591.88 420.71h0M625.56 432.26h0M559.29 428.98h0M569.52 419.02h0M616.23 402.67h0M621.82 450.76h0M605.5 454.94h0M542.65 419.14h0M561.08 416.6h0M623.05 459.63h0M576.4 409.38h0M630.93 427.6h0M556.06 397.33h0M633.45 426.31h0M620.54 420.65h0M634.77 427.63h0M578.67 421.15h0M609.78 446.07h0M635.48 405.46h0M598.87 414.99h0M591.8 393.52h0M570.06 425.15h0M629.72 406.56h0M623.13 467.52h0M620.92 431.89h0M541.94 421.26h0M604.37 464.02h0M595.99 422.01h0M547.44 408.32h0M545.94 430.03h0M545.95 420.04h0M591.55 411.47h0M554.51 435.27h0M575.14 416.44h0M597.63 410.9h0M640.51 420.09h0M607.82 437.58h0M573.04 425.25h0M575.48 423.6h0M608.48 451.86h0M580.4 405.39h0M539.14 403.99h0M610.65 453.03h0M587.67 401.61h0M606.59 454.98h0M606.52 395.01h0M554.77 435.16h0M603.46 394.86h0M610.24 439.1h0M621.33 441.82h0M598 461.35h0M625.95 450.57h0M602.94 383.93h0M633.4 427.68h0M611.32 437.65h0M572.82 387.47h0M604.28 393.36h0M568.01 410.34h0M623.07 410.58h0M624.69 459.1h0M585.88 401.52h0M626.94 407.01h0M579.33 404.46h0M640.38 419.96h0M618.44 460.5h0M575.05 402.92h0M616.11 451.12h0M593.4 396.93h0M546.32 410.04h0M588.77 420.89h0M559.82 427.4h0M623.38 407.67h0M622.03 453.29h0M556.68 391.2h0M591.75 396.4h0M630.81 422.09h0M587.97 438.19h0M619.97 441.66h0M560.97 441.97h0M576.66 431.98h0M606.38 454.7h0M596.25 459.2h0M627.78 473.97h0M563.17 389.4h0M545.43 432.99h0M568.83 429.99h0M622.27 458.09h0M572.02 391.99h0M618.81 424.64h0M578.93 413.97h0M639.71 435.44h0M626.9 431.55h0M586.47 442.18h0M544.73 420.04h0M604.6 448.33h0M587.42 394.45h0M606.3 450.99h0M571.55 444.59h0M576.33 399.69h0M590.84 424.99h0M593.19 412.64h0M618.64 410.34h0M540.61 428.65h0M558.21 427.73h0M566.21 396.78h0M634.18 405.96h0M547.94 412.79h0M538.11 420.74h0M552.53 404.29h0M545.9 401.28h0M581.6 407.45h0M617.2 390.86h0M611.88 443.56h0M566.39 433.8h0M583.82 410.65h0M568.72 409.92h0M590.24 404.98h0M576.9 424.7h0M625.09 446.17h0M624.59 440.37h0M630.45 399.23h0M603.42 401.22h0M614.07 390.69h0M547.42 431.51h0M582.48 420.65h0M617.01 450.29h0M598.31 435.79h0M627.18 474.93h0M622.15 431.48h0M628.2 471.2h0M554.63 397.1h0M559.19 416.56h0M630.26 420.71h0M599.67 434.57h0M613.79 467.43h0M552.88 438.41h0M579.67 400.93h0M598.7 464.16h0M624.89 441.31h0M637.51 420.27h0M606.64 451.61h0M621.1 428.27h0M603.79 467.36h0M610.8 476.35h0M550.84 433.38h0M605.11 399.02h0M555.08 388.54h0M621.31 443.41h0M569.35 433.22h0M606.63 434.71h0M558.16 416.46h0M627.57 443.37h0M595.33 420.75h0M580.24 391.35h0M618.98 385.29h0M608.76 410.1h0M626.38 476.63h0M599.12 421.11h0M619.28 446.66h0M596.42 458.53h0M604.19 431.77h0M537.52 414.82h0M623.56 405.97h0M593.85 445.49h0M621.25 482.72h0M592.45 421.84h0M623.9 399.18h0M620.69 480.97h0M565.61 433.39h0M543.02 415.8h0M550.63 413.01h0M599.5 393.46h0M591.5 395.76h0M625.8 403.68h0M624.66 405h0M619.85 463.51h0M636.76 414.08h0M610.87 471.65h0M566.15 407.43h0M633.29 406.42h0M619.84 413.31h0M553.46 391.82h0M545.12 406.91h0M631.58 424.37h0M539.39 417h0M622.29 457.17h0M594.17 455.58h0M578.12 411.87h0M616.87 403.39h0M605.85 432.05h0M553.12 426.87h0M588.64 421.49h0M633.6 420.81h0M605.64 459.99h0M608.21 413.46h0M567.48 428.33h0M637.35 431.77h0M606.05 474.19h0M628.76 468.49h0M587.25 424.57h0M623.53 458.97h0M577.05 424.96h0M605.28 419.68h0M599.81 428.46h0M581.25 418.11h0M600.65 438.73h0M597.6 402.62h0M553.41 417.55h0M633.29 405.79h0M584.31 438.17h0M609.03 454.47h0M607.59 404.49h0M589.29 384.04h0M604.43 410.39h0M561.48 400.36h0M625.24 429.11h0M601.19 450.7h0M597.46 400.87h0M609.54 437.63h0M546.95 416.33h0M621.62 457.67h0M598.69 468.06h0M570.46 402.76h0M596.21 461.63h0M559.86 431.1h0M564.33 451.95h0M609.18 402.52h0M601.41 458.74h0M569.99 417.25h0M599.19 398.96h0M552.15 390.73h0M592.34 409.4h0M618.04 455.17h0M572.11 414.89h0M634.43 409.65h0M548.76 419.86h0M555.65 407.26h0M584.81 413.17h0M620.69 458.23h0M636.44 465.46h0M588.03 415.81h0M632.88 445.78h0M562.05 437.96h0M557.04 447.74h0M613.79 384.79h0M548.87 396.38h0M572.97 423.16h0M633.48 401.9h0M628.86 463.62h0M601.73 391.12h0M615.12 414.5h0M568.94 438.99h0M589.52 388.88h0M610.1 426.08h0M615.6 445.53h0M637.08 427.52h0M625.13 409.96h0M637.02 409.46h0M616.93 402.94h0M634.22 451.86h0M550.34 424.81h0M628.03 459.05h0M612.08 433.38h0M551.88 435.45h0M581.94 408.98h0M586.3 449.99h0M633.38 435.37h0M537.81 415.69h0M549.56 425.33h0M636.75 432.45h0M612.31 458.85h0M558.54 440.03h0M620.85 398.41h0M626.18 466.89h0M548.94 402.97h0M615.18 460.53h0M621.28 435.85h0M636.77 450.08h0M600.41 433.48h0M582.09 426.85h0M575.57 422.43h0M600.75 419.83h0M586.9 415.19h0M633.66 470.32h0M623.17 430.87h0M630.48 472.63h0M614.24 429.75h0M608.83 431.28h0M638.04 446.67h0M637.6 458.9h0M561.04 417.21h0M571.52 427.64h0M602.3 392.28h0M604.19 448.99h0M597.32 398.77h0M592.37 407.75h0M553.06 408.54h0M557.04 394.53h0M572.34 422.85h0M580.17 431.46h0M620.7 477.49h0M636.79 407.32h0M593.47 453.7h0M575.33 455.49h0M593.62 402.61h0M572.78 453.65h0M583.38 387.78h0M596.17 415.51h0M567.85 410.49h0M622.51 465.16h0M632.82 450.69h0M564.23 437.18h0M600.08 426.57h0M573.33 385.31h0M568.5 391.2h0M565.8 389.69h0M574.28 400.44h0M554 448.05h0M591.87 399.68h0M548.12 399.09h0M592.21 431.59h0M615.54 476.51h0M538.01 414.56h0M601.89 464.45h0M611.39 392.03h0M622.87 424.3h0M608.1 414.69h0M554.01 423.65h0M578.13 439.66h0M545.6 415.83h0M630.56 479.39h0M598.64 393.01h0M571.23 424.19h0M623.04 465.98h0M570.71 396.01h0M611.84 420.32h0M573.16 414.9h0M617.57 475.29h0M611.86 423.78h0M619.16 440.08h0M623.62 413.18h0M593.86 439.94h0M580.88 440.3h0M606.11 467.12h0M621.22 396.78h0M620.28 397.17h0M588.39 410.24h0M621.62 453.53h0M616.07 432.71h0M610.9 428.83h0M624.06 437.27h0M614.13 432.99h0M552.28 416.67h0M626.08 420.47h0M606.96 385.24h0M571.21 408.44h0M627.71 440.44h0M569.74 445.18h0M615.51 469.19h0M549.52 417.53h0M627.29 483.47h0M565.94 386.44h0M568.88 452.82h0M601.35 412.61h0M611.4 457.18h0M586.75 411.12h0M586.98 446.63h0M625.29 432.88h0M574.21 444.64h0M628.32 416.72h0M572.02 413.2h0M641.65 443.75h0M597.34 419.14h0M576.17 442.93h0M613.5 450.53h0M612.2 417.83h0M623.49 429.71h0M594.26 409.93h0M609.28 471.01h0M598.89 396.1h0M584.07 400.27h0M600.7 426.5h0M550.42 407.84h0M630.27 475.17h0M601.52 419.56h0M583.2 405.87h0M547.77 404.34h0M570.55 431.46h0M580.01 455.67h0M623.13 400.19h0M604.62 429.07h0M609.28 420.19h0M602.94 461.91h0M582.31 400.38h0M571.94 404.32h0M616.79 407.01h0M630.81 402.23h0M593.54 448.39h0M590.76 384.29h0M621.26 422.36h0M616.49 455.66h0M609.63 448.18h0M573.25 417.88h0M581.67 392.36h0M624.55 465.25h0M626.72 435.87h0M620.37 466.56h0M583.58 394.14h0M590.28 455.85h0M617.44 455.93h0M616.65 442.01h0M598.03 388.63h0M570.06 393.63h0M614.43 459.02h0M626.35 446.95h0M597.77 422.81h0M542.46 412.87h0M599.17 448.92h0M621.92 419.77h0M549.85 392.4h0M607.99 394.46h0M564.32 421.46h0M562.66 415.23h0M575.37 415.21h0M627.6 459.76h0M634.53 429.53h0M590.82 440.72h0M554.79 417.6h0M630.09 468.45h0M564.45 442.11h0M561.56 421.41h0M623.16 400.18h0M566.4 449.22h0M618.32 402.92h0M554.53 406.37h0M544.42 418.03h0M607.78 389.8h0M600.72 437.33h0M601.77 389.01h0M562.29 443.73h0M579.28 425.87h0M620.19 438.29h0M559.67 441.5h0M589.53 426.27h0M564.86 452.33h0M638.89 428.44h0M594.25 413.52h0M588.95 387.95h0M584.57 417.8h0M593.99 422.14h0M558.55 420.03h0M606.23 444.32h0M640.77 437.83h0M576.89 449.51h0M636.45 420.03h0M633.8 404.31h0M548.64 402.99h0M613.97 465.66h0M633.36 418.76h0M588.29 408.09h0M590.31 385.72h0M631.69 442.07h0M552.5 432.02h0M547.79 408.69h0M615.16 435.1h0M630.18 482.94h0M554.01 406.19h0M592.03 443.01h0M587.42 395.52h0M594.8 413.59h0M578.51 428.75h0M617.37 477.69h0M556.35 410.42h0M560.89 385.49h0M544.32 422.16h0M574.81 457.44h0M592.43 438.37h0M599.44 428.33h0M626.85 454.71h0M619.39 431.2h0M601.53 393.09h0M604.28 472.61h0M564.68 408.78h0M634.11 440.83h0M603.15 463.28h0M548.46 404.3h0M595.79 418.74h0M599.56 406.03h0M629.59 419.99h0M605.86 399.85h0M587.12 448.09h0M564 435.21h0M590.65 418.6h0M563.13 388.02h0M610.29 416.6h0M610.71 397.59h0M622.08 453.57h0M587.29 436.02h0M574.69 401.63h0M619.42 389.75h0M612.66 444.54h0M590.74 384.21h0M627.4 445.09h0M595.62 398.06h0M606.6 467.17h0M573.35 395.84h0M640.37 446.8h0M547.5 442.3h0M572.31 396.42h0M589.83 389.1h0M589.89 415.47h0M613.66 429.84h0M560.99 397.34h0M607.99 387.53h0M620.45 413.23h0M612.95 447.13h0M608.72 436.48h0M612.09 394.23h0M629.17 441.47h0M613.67 433.32h0M574.46 384.61h0M635.33 450.67h0M629.56 410.8h0M607.23 445.42h0M595.35 461.78h0M563.84 424.53h0M611.01 433.04h0M575.15 454.17h0M609.33 417.03h0M566.25 435.69h0M575.3 388.38h0M640.05 449.85h0M582.52 445.8h0M630.95 476.63h0M606.86 450.8h0M557.33 448.67h0M597.39 459.81h0M626.38 465.38h0M614.41 439.25h0M555.51 416.75h0M629.96 464.4h0M542.74 415.61h0M639.94 418.94h0M629.53 437.67h0M566.33 436.87h0M551.43 396.1h0M607.08 396.07h0M583.61 425.35h0M592.97 410.55h0M556.82 394.62h0M568.83 426.92h0M567.89 429.46h0M614.61 450.53h0M545.39 392.43h0M556.11 400.09h0M561.59 406.79h0M607.84 427.78h0M576.85 449.07h0M620.68 473.3h0M576.7 435.52h0M558.96 394.19h0M603.37 447h0M582.47 396.04h0M566.06 393.47h0M568.16 442.39h0M626.89 402.84h0M596.71 415.38h0M558.22 400.3h0M623.8 405.33h0M613.49 433.8h0M578.79 440.27h0M591.29 385.02h0M599.41 417.69h0M628.01 421.06h0M596.44 401.9h0M616.45 397.86h0M608.22 436.51h0M640.82 432.93h0M588.07 403.68h0M603.56 456.91h0M568.31 453.81h0M633.81 469.11h0M601.64 408.49h0M585.72 422.86h0M607.61 438.39h0M586.84 390.83h0M560.61 394.78h0M610.13 424.5h0M591.53 438.4h0M581.05 454.57h0M619.27 438.76h0M632.29 473.51h0M617.97 467.17h0M629.9 400.44h0M592.25 458.52h0M578.87 425.49h0M588.84 456.31h0M608.44 433.42h0M558.61 387.24h0M592.59 384.88h0M591.91 399.11h0M634.97 428.17h0M601.38 392.49h0M606.88 389.91h0M602.43 400.04h0M612.99 467.51h0M581.61 410.78h0M631.45 440.55h0M619.68 410.22h0M608.98 398.47h0M553.61 414.03h0M575.11 389.44h0M628.29 398.77h0M633.9 441.12h0M554.59 414.88h0M557.45 446.4h0M619.98 442.01h0M612.15 424.03h0M599.91 395.43h0M605.12 439.02h0M571.99 431.66h0M617.97 388.21h0M564.4 443.74h0M558.55 405.27h0M616.46 409.28h0M605.03 392.47h0M590.17 452.49h0M635.54 447.32h0M611.12 430.44h0M640.89 442.01h0M609.35 423.4h0M591.56 403.57h0M611.33 435.22h0M558.5 430.64h0M623.3 473.72h0M637.92 420.34h0M640.02 438.92h0M564.94 391.73h0M610.21 400.99h0M570.79 437.03h0M627.11 465.02h0M611.56 416.92h0M597.6 394.85h0M540.89 428.74h0M617.98 465.82h0M603.51 422h0M569.91 425.69h0M607.32 475.26h0M615.07 434.81h0M621.98 463.88h0M542.84 431.81h0M602.51 423.05h0M566.86 409.92h0M569.22 387.52h0M563.74 431.22h0M552.91 393.61h0M545.93 393.51h0M623.49 474.91h0M624.01 471.08h0M636.14 461.46h0M609.56 405.25h0M604.99 454.68h0M594.32 410.23h0M614.71 402.86h0M599.82 442.67h0M610.4 393.22h0M570.3 418.45h0M616.31 420.28h0M623.93 414.78h0M624.23 425.05h0M619.85 399.27h0M573.22 399.43h0M580.97 406.92h0M627.72 461.46h0M568.14 408.75h0M607.47 439.34h0M566.99 425.89h0M551.84 444h0M624.88 460.94h0M544.87 400.62h0M636.67 465.28h0M551.37 421.37h0M572.81 384.89h0M615.12 434.89h0M557.74 410.4h0M615.39 384.53h0M614.63 453.9h0M627.73 476.86h0M607.07 435.82h0M589.59 383.9h0M560.19 413.91h0M632.88 429.45h0M621.46 422.01h0M641.11 445.89h0M573.85 392.53h0M608.56 461.62h0M618.37 394.76h0M599.54 444.61h0M615.46 452.06h0M594.44 388.33h0M609.08 473.64h0M638.72 417.2h0M551.9 403.98h0M582.7 451.07h0M548.51 412.6h0M593.47 383.64h0M610.03 423.89h0M588.36 420.42h0M541.24 399.74h0M621.08 392.41h0M613.35 445.33h0M583.77 437h0M597.72 390.05h0M624.87 459.56h0M613.87 401.83h0M555.15 418.23h0M639.83 446.45h0M638.94 428.53h0M606.91 463.87h0M545.11 436.62h0M625.68 483.69h0M584.17 425.35h0M549.64 388.39h0M634.1 456.85h0M562.66 441.04h0M622.35 432.57h0M636.86 447.42h0M596.04 394.46h0M542.83 399.79h0M560.97 403.75h0M614.23 442.96h0M574.48 436.64h0M628.52 467.53h0M548.86 404.54h0M637.84 424.02h0M540.65 401.07h0M598.91 394.39h0M563.82 400.94h0M601.09 436.11h0M593.94 414.21h0M589.19 395.37h0M599.41 444.42h0M623.86 416.7h0M602.44 460.57h0M560.33 388.84h0M585.39 393.77h0M564.98 408.57h0M603.64 460.82h0M583.77 428.9h0M632.76 412.41h0M610.96 463.85h0M628.31 395.45h0M583.52 409.86h0M593.83 437.06h0M614.51 455.13h0M596.66 436.62h0M607.74 435.01h0M627.96 449.32h0M610.58 478.79h0M625.97 414.73h0M621.62 386.6h0M598.15 457.57h0M602.31 459.52h0M610.57 477.52h0M565.53 411.13h0M607.36 396.97h0M591.03 458.92h0M538.98 421.83h0M600.23 429.73h0M562.97 416.63h0M555.04 432.53h0M597.79 454.36h0M618.07 447.33h0M607.84 432.39h0M561.15 450.28h0M626.25 428.34h0M590.44 420.41h0M611.73 447.8h0M566.94 411.92h0M560.6 398.75h0M548.26 413.69h0M583.24 419.46h0M582 449.53h0M551.32 398.22h0M612.29 462.36h0M616.61 465.82h0M576.04 415.74h0M582.78 427.94h0M640.31 437.53h0M609.64 452.73h0M619.28 431.74h0M623.95 433.53h0M616.47 416.37h0M577.09 452.81h0M621.08 421.36h0M583.41 445.39h0M615.09 457.67h0M582.07 393.05h0M631.98 457.93h0M590.63 435.69h0M620.38 421.35h0M610.16 420.11h0M633.99 436.81h0M615.51 469.82h0M581.93 419.78h0M622.5 440.53h0M631.63 421.44h0M559.94 407.32h0M606.26 428.45h0M575.08 442.22h0M595.27 415.33h0M616.97 419.17h0M618 420.75h0M628.21 439.68h0M610.99 439.37h0M603.43 424.17h0M633.97 444.5h0M604.21 424.69h0M626.85 394.54h0M569.97 407.39h0M547.66 409.16h0M574.7 452.4h0M615.19 394.76h0M609.17 387.41h0M611.56 397.62h0M599.91 435.3h0M590.33 423.13h0M568.93 424h0M583.39 423.59h0M556.54 431.72h0M599.26 463.52h0M589.21 400.53h0M610.15 404.15h0M569.15 415.67h0M631.62 465.48h0M586.02 402h0M579.14 401.38h0M611.55 435.64h0M614.93 460.39h0M563.44 444.65h0M638.5 457.85h0M575.53 388.69h0M620.58 393h0M611.01 430.9h0M631.47 414.92h0M600.21 428.8h0M613.16 468.39h0M591.23 438.81h0M585.02 397.46h0M596.88 459.98h0M542.11 416.2h0M550.9 399.12h0M585.81 430.32h0M593.79 407.63h0M542.19 396.59h0M554.23 430.21h0M616.42 474.56h0M618.77 432.3h0M628.89 427.3h0M628.85 421.21h0M611.6 427.03h0M575.96 411.65h0M565.55 385.46h0M601.14 410.89h0M637.81 420.82h0M615.65 450.81h0M611.28 462.28h0M595.53 391.78h0M616.3 426.42h0M633.58 415.27h0M608.72 454.29h0M623.87 467.7h0M625.88 393.82h0M608.91 390.52h0M606.16 413.28h0M566.51 432.62h0M633.6 458.15h0M617.99 439.03h0M560.13 450.34h0M606.37 417.68h0M626.01 470.78h0M637.3 445.71h0M611.11 398.14h0M638.66 455.22h0M576.75 456.07h0M554.22 429.43h0M587.9 391.01h0M606.4 401.75h0M596.08 446.58h0M603.63 406.57h0M588.3 435.56h0M628.13 429.3h0M585.4 386h0M626.67 462.06h0M570.73 388.61h0M593 461.31h0M598.07 385.03h0M609.58 394.38h0M596.73 444.48h0M572.71 420.03h0M621.59 455.07h0M555.08 417.89h0M611.62 429.97h0M601.45 414.45h0M619.66 455.73h0M624.26 408.96h0M632.76 464.45h0M559.71 436.37h0M554.68 411.64h0M598.34 447.06h0M623.27 439.06h0M545.33 415.82h0M550.82 444.46h0M609.35 444.14h0M580.28 404.54h0M582.89 444.87h0M580.13 425.16h0M567.17 418.55h0M561.94 426.52h0M591.2 386.38h0M598.39 405.28h0M596.61 438.98h0M604.48 475.36h0M542.57 401.86h0M601.51 461.46h0M572.01 454.93h0M556.44 409.3h0M613.93 478.53h0M589.5 428.13h0M624.28 437.77h0M594.38 386.16h0M552.38 442.77h0M577.76 430.42h0M604.51 389.04h0M547.63 404.36h0M547.06 442.11h0M633.05 463.91h0M543.54 418.84h0M583.51 422.39h0M611 392.49h0M629.65 408.57h0M573.82 439.8h0M572.62 430.54h0M630.85 419.85h0M635.97 419.77h0M598 417.05h0M637.85 454.94h0M597.97 446.87h0M627 449.21h0M593.67 414.82h0M620.5 453.37h0M612.16 421.73h0M635.1 452.56h0M590.77 385.28h0M626.9 444.31h0M579.79 407.32h0M580.92 392.73h0M541.18 414.97h0M598.72 404.27h0M546.23 412.18h0M567.68 403.29h0M624.32 409.98h0M625.04 465.99h0M600.17 471.9h0M594.38 418.2h0M587.57 400.5h0M627.28 450.66h0M550.33 434.72h0M594.44 415.9h0M613.02 398.25h0M593.37 458.1h0M631.47 400.21h0" stroke="#e0ea3c" stroke-width="1.4" stroke-linecap="round" fill="none"/>
<path d="M549.54 404.37h0M548.88 413.54h0M542.51 402.51h0M574 419.53h0M626.68 397.73h0M575.89 404.07h0M557.51 402.34h0M607.44 466.36h0M621.59 461.03h0M615.34 440.21h0M596.61 427.73h0M567.72 434.14h0M557.98 434.64h0M544.47 396.22h0M565.39 402.93h0M559.05 442.9h0M632.74 467.68h0M593.34 420.89h0M563.18 423.35h0M547.92 396.97h0M613.09 413.42h0M552.01 422.68h0M539.31 424.54h0M602.44 415.62h0M590.53 456.69h0M568.14 441.33h0M547.19 431.42h0M585.13 408.32h0M621.33 429.65h0M591.81 384.75h0M551.7 434.37h0M538.28 407.97h0M558.54 408.67h0M590.83 421.15h0M618.54 461.34h0M606.19 429.18h0M621.6 457.06h0M582.61 400.35h0M608.79 470.76h0M615.06 475.6h0M559.22 396.68h0M598.01 411.81h0M564.77 425.8h0M600.71 461.87h0M588.66 398.49h0M596.54 395.93h0M616.16 424.25h0M565.13 400.37h0M576.16 397.95h0M555.95 391.41h0M590 434.22h0M620.96 481.12h0M616.81 396.98h0M596.76 421.71h0M610.01 436.85h0M641.52 432.71h0M573.35 397.13h0M570 422.3h0M568.48 387.45h0M574.52 447.99h0M574.45 412.56h0M575.43 402.56h0M556.76 438.77h0M621.84 469.66h0M548.36 435.55h0M599.6 392.58h0M556.26 439.97h0M609.41 409.69h0M631.29 429.09h0M564.11 430.2h0M550.67 386.83h0M576 396.42h0M616.71 479.46h0M623.58 429.84h0M561.31 402.22h0M549.17 432.77h0M602.84 420.9h0M624.99 406.03h0M633.41 427.66h0M594.73 420.56h0M589.5 443.14h0M623.68 401.9h0M571.39 409.78h0M570.87 440.65h0M635.77 415.25h0M601.4 438.51h0M639.32 450.97h0M568.62 387.83h0M539.38 422.66h0M575.64 404.47h0M573.99 395.41h0M597.97 418.4h0M598.77 409.81h0M613.03 456.05h0M627.75 415.33h0M592.47 427.53h0M564.85 418.58h0M569.45 385.12h0M624.02 429.3h0M597.64 434.99h0M577.86 391.55h0M549.8 401.86h0M609.62 457.12h0M564.76 396.86h0M613.68 400.47h0M553.81 435.44h0M547.09 419.89h0M570.31 447.79h0M617.62 461.36h0M583.95 392.82h0M602.18 450.39h0M585.95 404.7h0M621.96 405.41h0M600.42 401.69h0M623.74 390.5h0M606 454.7h0M578.34 432.36h0M609.14 404.23h0M595.93 429.37h0M592.15 430.72h0M630.56 441.94h0M625.87 397.59h0M578.76 407.61h0M564.69 446.06h0M637.77 461.77h0M605.36 438.78h0M613.26 426.48h0M572.64 408.99h0M583.12 397.11h0M612.31 442.54h0M623.62 392.5h0M641.25 436.8h0M601.12 407.82h0M596.24 394.78h0M556.01 442.47h0M580.6 451.44h0M613.97 458.69h0M577.91 427.18h0M606.7 469.9h0M611.2 385h0M569.1 409.13h0M619.11 414.53h0M564.62 447.11h0M623.56 444.69h0M630.89 469.2h0M609.65 393.47h0M564.05 408.18h0M626.66 403.34h0M563.35 414.28h0M636.55 468.54h0M605.63 428.03h0M598.64 394.23h0M614.93 422.87h0M600.39 425.63h0M565.7 394.9h0M606.34 453.68h0M634.55 460.75h0M631.95 407.97h0M638.71 427.32h0M629.67 424.84h0M575.14 447.03h0M602.69 467.34h0M582.07 427.51h0M560.75 415.27h0M619.94 416.56h0M554.82 408.77h0M625.71 476.23h0M604.76 447.07h0M574.48 414.71h0M544.21 424.92h0M633.24 428.84h0M547.29 403.71h0M620.03 388.49h0M590.41 408.19h0M575.8 410.07h0M624.22 448.01h0M623.38 426.83h0M594.36 410.58h0M599.28 407.39h0M609.92 426.46h0M546.68 390.29h0M577.04 431.36h0M591.54 448.34h0M625.58 475.49h0M628.4 471.35h0M621.27 435.74h0M562.39 384.59h0M629.08 455.98h0M581.28 416.41h0M549.72 435.83h0M611.2 399.63h0M605.66 416.83h0M593.56 440.97h0M577.6 394.9h0M592.79 398.41h0M588.85 403.83h0M618.51 431.16h0M618.63 422.4h0M638.52 418.17h0M579.81 425.75h0M597.6 459.92h0M626.86 476.12h0M567.62 420.48h0M635.52 461.36h0M568.97 432.77h0M605.6 403.97h0M569.81 418.26h0M614.17 425.08h0M619.44 410.26h0M577.74 424.01h0M632.39 461.02h0M597.22 419.55h0M571.43 454.58h0M564.17 418.57h0M555.34 438.69h0M627.4 430.74h0M602.08 426.12h0" stroke="#4d0e5d" stroke-width="1.55" stroke-linecap="round" fill="none"/>
<rect x="532.5" y="378.1" width="116.4" height="113.2" fill="none" stroke="#d9d9d9" stroke-width="0.8"/>
<text x="590.6" y="375" font-size="8.34" text-anchor="middle" stroke="#111111" textLength="45.38" lengthAdjust="spacingAndGlyphs">Fulvestrant</text>
<rect x="650.8" y="378.1" width="3.6" height="113.2" fill="url(#vg3)"/>
<line x1="654.4" y1="491.3" x2="656.4" y2="491.3" stroke="#333" stroke-width="0.5"/>
<text x="658.1" y="493.09" font-size="5.77" stroke="#111111" textLength="8.91" lengthAdjust="spacingAndGlyphs">0.0</text>
<line x1="654.4" y1="468.66" x2="656.4" y2="468.66" stroke="#333" stroke-width="0.5"/>
<text x="658.1" y="470.45" font-size="5.77" stroke="#111111" textLength="8.91" lengthAdjust="spacingAndGlyphs">0.2</text>
<line x1="654.4" y1="446.02" x2="656.4" y2="446.02" stroke="#333" stroke-width="0.5"/>
<text x="658.1" y="447.81" font-size="5.77" stroke="#111111" textLength="8.91" lengthAdjust="spacingAndGlyphs">0.4</text>
<line x1="654.4" y1="423.38" x2="656.4" y2="423.38" stroke="#333" stroke-width="0.5"/>
<text x="658.1" y="425.17" font-size="5.77" stroke="#111111" textLength="8.91" lengthAdjust="spacingAndGlyphs">0.6</text>
<line x1="654.4" y1="400.74" x2="656.4" y2="400.74" stroke="#333" stroke-width="0.5"/>
<text x="658.1" y="402.53" font-size="5.77" stroke="#111111" textLength="8.91" lengthAdjust="spacingAndGlyphs">0.8</text>
<line x1="654.4" y1="378.1" x2="656.4" y2="378.1" stroke="#333" stroke-width="0.5"/>
<text x="658.1" y="379.89" font-size="5.77" stroke="#111111" textLength="8.91" lengthAdjust="spacingAndGlyphs">1.0</text>
<text x="0.54" y="370.35" font-size="16.4" font-weight="bold" fill="#000">e</text>
<rect x="110.5" y="517.5" width="471" height="183.5" fill="none" stroke="#e6e6e6" stroke-width="0.8"/>
<line x1="108.5" y1="680.62" x2="110.5" y2="680.62" stroke="#8a8a8a" stroke-width="0.6"/>
<text x="108.2" y="682.71" font-size="6.7" text-anchor="end" stroke="#111111" textLength="14.47" lengthAdjust="spacingAndGlyphs">2.75</text>
<line x1="108.5" y1="658.85" x2="110.5" y2="658.85" stroke="#8a8a8a" stroke-width="0.6"/>
<text x="108.2" y="660.93" font-size="6.7" text-anchor="end" stroke="#111111" textLength="14.47" lengthAdjust="spacingAndGlyphs">3.00</text>
<line x1="108.5" y1="637.07" x2="110.5" y2="637.07" stroke="#8a8a8a" stroke-width="0.6"/>
<text x="108.2" y="639.15" font-size="6.7" text-anchor="end" stroke="#111111" textLength="14.47" lengthAdjust="spacingAndGlyphs">3.25</text>
<line x1="108.5" y1="615.3" x2="110.5" y2="615.3" stroke="#8a8a8a" stroke-width="0.6"/>
<text x="108.2" y="617.38" font-size="6.7" text-anchor="end" stroke="#111111" textLength="14.47" lengthAdjust="spacingAndGlyphs">3.50</text>
<line x1="108.5" y1="593.52" x2="110.5" y2="593.52" stroke="#8a8a8a" stroke-width="0.6"/>
<text x="108.2" y="595.61" font-size="6.7" text-anchor="end" stroke="#111111" textLength="14.47" lengthAdjust="spacingAndGlyphs">3.75</text>
<line x1="108.5" y1="571.75" x2="110.5" y2="571.75" stroke="#8a8a8a" stroke-width="0.6"/>
<text x="108.2" y="573.83" font-size="6.7" text-anchor="end" stroke="#111111" textLength="14.47" lengthAdjust="spacingAndGlyphs">4.00</text>
<line x1="108.5" y1="549.97" x2="110.5" y2="549.97" stroke="#8a8a8a" stroke-width="0.6"/>
<text x="108.2" y="552.05" font-size="6.7" text-anchor="end" stroke="#111111" textLength="14.47" lengthAdjust="spacingAndGlyphs">4.25</text>
<line x1="108.5" y1="528.2" x2="110.5" y2="528.2" stroke="#8a8a8a" stroke-width="0.6"/>
<text x="108.2" y="530.28" font-size="6.7" text-anchor="end" stroke="#111111" textLength="14.47" lengthAdjust="spacingAndGlyphs">4.50</text>
<rect x="130.05" y="590.9" width="26.3" height="40" fill="#fff" stroke="#3c7fbd" stroke-width="1"/>
<line x1="130.05" y1="609.3" x2="156.35" y2="609.3" stroke="#3c7fbd" stroke-width="1"/>
<line x1="143.2" y1="590.9" x2="143.2" y2="543.3" stroke="#3c7fbd" stroke-width="1"/>
<line x1="143.2" y1="630.9" x2="143.2" y2="688.1" stroke="#3c7fbd" stroke-width="1"/>
<line x1="136.2" y1="543.3" x2="150.2" y2="543.3" stroke="#3c7fbd" stroke-width="1"/>
<line x1="136.2" y1="688.1" x2="150.2" y2="688.1" stroke="#3c7fbd" stroke-width="1"/>
<rect x="169.35" y="587.5" width="26.3" height="20.1" fill="#fff" stroke="#f0883a" stroke-width="1"/>
<line x1="169.35" y1="597.3" x2="195.65" y2="597.3" stroke="#f0883a" stroke-width="1"/>
<line x1="182.5" y1="587.5" x2="182.5" y2="557.6" stroke="#f0883a" stroke-width="1"/>
<line x1="182.5" y1="607.6" x2="182.5" y2="635.5" stroke="#f0883a" stroke-width="1"/>
<line x1="175.5" y1="557.6" x2="189.5" y2="557.6" stroke="#f0883a" stroke-width="1"/>
<line x1="175.5" y1="635.5" x2="189.5" y2="635.5" stroke="#f0883a" stroke-width="1"/>
<circle cx="182.5" cy="638.8" r="1.1" fill="#f0883a"/>
<circle cx="182.5" cy="640.5" r="1.1" fill="#f0883a"/>
<circle cx="182.5" cy="642.5" r="1.1" fill="#f0883a"/>
<circle cx="182.5" cy="644.5" r="1.1" fill="#f0883a"/>
<circle cx="182.5" cy="646.5" r="1.1" fill="#f0883a"/>
<circle cx="182.5" cy="648.5" r="1.1" fill="#f0883a"/>
<circle cx="182.5" cy="650.5" r="1.1" fill="#f0883a"/>
<circle cx="182.5" cy="653.1" r="1.1" fill="#f0883a"/>
<circle cx="182.5" cy="658.9" r="1.1" fill="#f0883a"/>
<circle cx="182.5" cy="686.9" r="1.1" fill="#f0883a"/>
<line x1="162.6" y1="701" x2="162.6" y2="703" stroke="#8a8a8a" stroke-width="0.6"/>
<text x="162.6" y="710" font-size="7.31" text-anchor="middle" stroke="#111111" textLength="27.79" lengthAdjust="spacingAndGlyphs">AZ6102</text>
<text x="162.6" y="535" font-size="6.64" text-anchor="middle" stroke="#111111" textLength="46.57" lengthAdjust="spacingAndGlyphs">p = 1.100e-20</text>
<rect x="221.8" y="592.3" width="26.3" height="37.7" fill="#fff" stroke="#3c7fbd" stroke-width="1"/>
<line x1="221.8" y1="605.8" x2="248.1" y2="605.8" stroke="#3c7fbd" stroke-width="1"/>
<line x1="234.95" y1="592.3" x2="234.95" y2="552.6" stroke="#3c7fbd" stroke-width="1"/>
<line x1="234.95" y1="630" x2="234.95" y2="685.8" stroke="#3c7fbd" stroke-width="1"/>
<line x1="227.95" y1="552.6" x2="241.95" y2="552.6" stroke="#3c7fbd" stroke-width="1"/>
<line x1="227.95" y1="685.8" x2="241.95" y2="685.8" stroke="#3c7fbd" stroke-width="1"/>
<circle cx="234.95" cy="688.6" r="1.1" fill="#3c7fbd"/>
<circle cx="234.95" cy="693.4" r="1.1" fill="#3c7fbd"/>
<rect x="261.1" y="587.1" width="26.3" height="19.8" fill="#fff" stroke="#f0883a" stroke-width="1"/>
<line x1="261.1" y1="597" x2="287.4" y2="597" stroke="#f0883a" stroke-width="1"/>
<line x1="274.25" y1="587.1" x2="274.25" y2="557.6" stroke="#f0883a" stroke-width="1"/>
<line x1="274.25" y1="606.9" x2="274.25" y2="635.5" stroke="#f0883a" stroke-width="1"/>
<line x1="267.25" y1="557.6" x2="281.25" y2="557.6" stroke="#f0883a" stroke-width="1"/>
<line x1="267.25" y1="635.5" x2="281.25" y2="635.5" stroke="#f0883a" stroke-width="1"/>
<circle cx="274.25" cy="638.3" r="1.1" fill="#f0883a"/>
<circle cx="274.25" cy="639.5" r="1.1" fill="#f0883a"/>
<circle cx="274.25" cy="640.8" r="1.1" fill="#f0883a"/>
<circle cx="274.25" cy="641.9" r="1.1" fill="#f0883a"/>
<circle cx="274.25" cy="645.2" r="1.1" fill="#f0883a"/>
<circle cx="274.25" cy="646.4" r="1.1" fill="#f0883a"/>
<circle cx="274.25" cy="647.7" r="1.1" fill="#f0883a"/>
<circle cx="274.25" cy="648.9" r="1.1" fill="#f0883a"/>
<circle cx="274.25" cy="652" r="1.1" fill="#f0883a"/>
<circle cx="274.25" cy="658.8" r="1.1" fill="#f0883a"/>
<circle cx="274.25" cy="686.7" r="1.1" fill="#f0883a"/>
<line x1="254.35" y1="701" x2="254.35" y2="703" stroke="#8a8a8a" stroke-width="0.6"/>
<text x="254.35" y="710" font-size="7.31" text-anchor="middle" stroke="#111111" textLength="30.72" lengthAdjust="spacingAndGlyphs">Cisplatin</text>
<text x="254.35" y="535" font-size="6.64" text-anchor="middle" stroke="#111111" textLength="46.57" lengthAdjust="spacingAndGlyphs">p = 1.333e-15</text>
<rect x="313.55" y="588.2" width="26.3" height="41.8" fill="#fff" stroke="#3c7fbd" stroke-width="1"/>
<line x1="313.55" y1="605.2" x2="339.85" y2="605.2" stroke="#3c7fbd" stroke-width="1"/>
<line x1="326.7" y1="588.2" x2="326.7" y2="543.6" stroke="#3c7fbd" stroke-width="1"/>
<line x1="326.7" y1="630" x2="326.7" y2="689" stroke="#3c7fbd" stroke-width="1"/>
<line x1="319.7" y1="543.6" x2="333.7" y2="543.6" stroke="#3c7fbd" stroke-width="1"/>
<line x1="319.7" y1="689" x2="333.7" y2="689" stroke="#3c7fbd" stroke-width="1"/>
<circle cx="326.7" cy="696.3" r="1.1" fill="#3c7fbd"/>
<rect x="352.85" y="587.4" width="26.3" height="19.8" fill="#fff" stroke="#f0883a" stroke-width="1"/>
<line x1="352.85" y1="597" x2="379.15" y2="597" stroke="#f0883a" stroke-width="1"/>
<line x1="366" y1="587.4" x2="366" y2="557.6" stroke="#f0883a" stroke-width="1"/>
<line x1="366" y1="607.2" x2="366" y2="635.5" stroke="#f0883a" stroke-width="1"/>
<line x1="359" y1="557.6" x2="373" y2="557.6" stroke="#f0883a" stroke-width="1"/>
<line x1="359" y1="635.5" x2="373" y2="635.5" stroke="#f0883a" stroke-width="1"/>
<circle cx="366" cy="638.3" r="1.1" fill="#f0883a"/>
<circle cx="366" cy="639.5" r="1.1" fill="#f0883a"/>
<circle cx="366" cy="640.8" r="1.1" fill="#f0883a"/>
<circle cx="366" cy="641.9" r="1.1" fill="#f0883a"/>
<circle cx="366" cy="645.2" r="1.1" fill="#f0883a"/>
<circle cx="366" cy="646.4" r="1.1" fill="#f0883a"/>
<circle cx="366" cy="647.7" r="1.1" fill="#f0883a"/>
<circle cx="366" cy="648.9" r="1.1" fill="#f0883a"/>
<circle cx="366" cy="652" r="1.1" fill="#f0883a"/>
<circle cx="366" cy="658.8" r="1.1" fill="#f0883a"/>
<circle cx="366" cy="686.7" r="1.1" fill="#f0883a"/>
<line x1="346.1" y1="701" x2="346.1" y2="703" stroke="#8a8a8a" stroke-width="0.6"/>
<text x="346.1" y="710" font-size="7.31" text-anchor="middle" stroke="#111111" textLength="31.7" lengthAdjust="spacingAndGlyphs">EPZ5676</text>
<text x="346.1" y="535" font-size="6.64" text-anchor="middle" stroke="#111111" textLength="46.57" lengthAdjust="spacingAndGlyphs">p = 2.459e-20</text>
<rect x="405.3" y="587.7" width="26.3" height="42" fill="#fff" stroke="#3c7fbd" stroke-width="1"/>
<line x1="405.3" y1="602.8" x2="431.6" y2="602.8" stroke="#3c7fbd" stroke-width="1"/>
<line x1="418.45" y1="587.7" x2="418.45" y2="552.6" stroke="#3c7fbd" stroke-width="1"/>
<line x1="418.45" y1="629.7" x2="418.45" y2="688.1" stroke="#3c7fbd" stroke-width="1"/>
<line x1="411.45" y1="552.6" x2="425.45" y2="552.6" stroke="#3c7fbd" stroke-width="1"/>
<line x1="411.45" y1="688.1" x2="425.45" y2="688.1" stroke="#3c7fbd" stroke-width="1"/>
<rect x="444.6" y="587.4" width="26.3" height="19.5" fill="#fff" stroke="#f0883a" stroke-width="1"/>
<line x1="444.6" y1="596.4" x2="470.9" y2="596.4" stroke="#f0883a" stroke-width="1"/>
<line x1="457.75" y1="587.4" x2="457.75" y2="557.6" stroke="#f0883a" stroke-width="1"/>
<line x1="457.75" y1="606.9" x2="457.75" y2="635.5" stroke="#f0883a" stroke-width="1"/>
<line x1="450.75" y1="557.6" x2="464.75" y2="557.6" stroke="#f0883a" stroke-width="1"/>
<line x1="450.75" y1="635.5" x2="464.75" y2="635.5" stroke="#f0883a" stroke-width="1"/>
<circle cx="457.75" cy="638.3" r="1.1" fill="#f0883a"/>
<circle cx="457.75" cy="639.5" r="1.1" fill="#f0883a"/>
<circle cx="457.75" cy="640.8" r="1.1" fill="#f0883a"/>
<circle cx="457.75" cy="641.9" r="1.1" fill="#f0883a"/>
<circle cx="457.75" cy="645.2" r="1.1" fill="#f0883a"/>
<circle cx="457.75" cy="646.4" r="1.1" fill="#f0883a"/>
<circle cx="457.75" cy="647.7" r="1.1" fill="#f0883a"/>
<circle cx="457.75" cy="648.9" r="1.1" fill="#f0883a"/>
<circle cx="457.75" cy="652" r="1.1" fill="#f0883a"/>
<circle cx="457.75" cy="658.8" r="1.1" fill="#f0883a"/>
<circle cx="457.75" cy="686.7" r="1.1" fill="#f0883a"/>
<line x1="437.85" y1="701" x2="437.85" y2="703" stroke="#8a8a8a" stroke-width="0.6"/>
<text x="437.85" y="710" font-size="7.31" text-anchor="middle" stroke="#111111" textLength="39.77" lengthAdjust="spacingAndGlyphs">Fulvestrant</text>
<text x="437.85" y="535" font-size="6.64" text-anchor="middle" stroke="#111111" textLength="46.57" lengthAdjust="spacingAndGlyphs">p = 6.783e-13</text>
<rect x="497.05" y="590.3" width="26.3" height="41.7" fill="#fff" stroke="#3c7fbd" stroke-width="1"/>
<line x1="497.05" y1="602.8" x2="523.35" y2="602.8" stroke="#3c7fbd" stroke-width="1"/>
<line x1="510.2" y1="590.3" x2="510.2" y2="543.6" stroke="#3c7fbd" stroke-width="1"/>
<line x1="510.2" y1="632" x2="510.2" y2="688.1" stroke="#3c7fbd" stroke-width="1"/>
<line x1="503.2" y1="543.6" x2="517.2" y2="543.6" stroke="#3c7fbd" stroke-width="1"/>
<line x1="503.2" y1="688.1" x2="517.2" y2="688.1" stroke="#3c7fbd" stroke-width="1"/>
<rect x="536.35" y="587.4" width="26.3" height="20.4" fill="#fff" stroke="#f0883a" stroke-width="1"/>
<line x1="536.35" y1="597" x2="562.65" y2="597" stroke="#f0883a" stroke-width="1"/>
<line x1="549.5" y1="587.4" x2="549.5" y2="557.6" stroke="#f0883a" stroke-width="1"/>
<line x1="549.5" y1="607.8" x2="549.5" y2="635.5" stroke="#f0883a" stroke-width="1"/>
<line x1="542.5" y1="557.6" x2="556.5" y2="557.6" stroke="#f0883a" stroke-width="1"/>
<line x1="542.5" y1="635.5" x2="556.5" y2="635.5" stroke="#f0883a" stroke-width="1"/>
<circle cx="549.5" cy="638.3" r="1.1" fill="#f0883a"/>
<circle cx="549.5" cy="639.5" r="1.1" fill="#f0883a"/>
<circle cx="549.5" cy="640.8" r="1.1" fill="#f0883a"/>
<circle cx="549.5" cy="641.9" r="1.1" fill="#f0883a"/>
<circle cx="549.5" cy="645.2" r="1.1" fill="#f0883a"/>
<circle cx="549.5" cy="646.4" r="1.1" fill="#f0883a"/>
<circle cx="549.5" cy="647.7" r="1.1" fill="#f0883a"/>
<circle cx="549.5" cy="648.9" r="1.1" fill="#f0883a"/>
<circle cx="549.5" cy="652" r="1.1" fill="#f0883a"/>
<circle cx="549.5" cy="658.8" r="1.1" fill="#f0883a"/>
<circle cx="549.5" cy="686.7" r="1.1" fill="#f0883a"/>
<circle cx="549.5" cy="674.4" r="1.1" fill="#f0883a"/>
<line x1="529.6" y1="701" x2="529.6" y2="703" stroke="#8a8a8a" stroke-width="0.6"/>
<text x="529.6" y="710" font-size="7.31" text-anchor="middle" stroke="#111111" textLength="20.38" lengthAdjust="spacingAndGlyphs">WIKI4</text>
<text x="529.6" y="535" font-size="6.64" text-anchor="middle" stroke="#111111" textLength="46.57" lengthAdjust="spacingAndGlyphs">p = 6.591e-20</text>
<text x="88.4" y="612.35" font-size="7.21" text-anchor="middle" stroke="#111111" textLength="58.7" lengthAdjust="spacingAndGlyphs" transform="rotate(-90 88.4 609.8)">Gene Expression</text>
<rect x="594.8" y="599.2" width="59.6" height="21" rx="1.5" fill="#fff" stroke="#e0e0e0" stroke-width="0.7"/>
<line x1="596.5" y1="603.9" x2="611.1" y2="603.9" stroke="#3c7fbd" stroke-width="1.3"/>
<line x1="596.5" y1="614" x2="611.1" y2="614" stroke="#f0883a" stroke-width="1.3"/>
<text x="615.7" y="606.09" font-size="7.06" stroke="#111111" textLength="37.11" lengthAdjust="spacingAndGlyphs">High Score</text>
<text x="615.7" y="616.19" font-size="7.06" stroke="#111111" textLength="34.85" lengthAdjust="spacingAndGlyphs">Low Score</text>
<text x="67.67" y="535.2" font-size="15.6" font-weight="bold" fill="#000">f</text>
<line x1="208.9" y1="831.7" x2="170.8" y2="749.7" stroke="#707070" stroke-width="1.3"/>
<line x1="208.9" y1="831.7" x2="243.1" y2="753.6" stroke="#707070" stroke-width="1.3"/>
<line x1="208.9" y1="831.7" x2="133" y2="792.3" stroke="#707070" stroke-width="2"/>
<line x1="208.9" y1="831.7" x2="258" y2="803.6" stroke="#707070" stroke-width="3"/>
<line x1="208.9" y1="831.7" x2="319.3" y2="810.9" stroke="#707070" stroke-width="1.4"/>
<line x1="208.9" y1="831.7" x2="89.7" y2="834.5" stroke="#707070" stroke-width="1"/>
<line x1="208.9" y1="831.7" x2="140.4" y2="872.6" stroke="#707070" stroke-width="2"/>
<line x1="208.9" y1="831.7" x2="179.6" y2="912.3" stroke="#707070" stroke-width="1.4"/>
<line x1="208.9" y1="831.7" x2="253.7" y2="918.3" stroke="#707070" stroke-width="1.1"/>
<line x1="208.9" y1="831.7" x2="307" y2="873.2" stroke="#707070" stroke-width="1.4"/>
<circle cx="170.8" cy="749.7" r="9" fill="#eaa32a"/>
<circle cx="243.1" cy="753.6" r="9.7" fill="#eaa32a"/>
<circle cx="133" cy="792.3" r="10" fill="#eaa32a"/>
<circle cx="258" cy="803.6" r="12.7" fill="#eaa32a"/>
<circle cx="319.3" cy="810.9" r="8.9" fill="#eaa32a"/>
<circle cx="89.7" cy="834.5" r="8.6" fill="#eaa32a"/>
<circle cx="140.4" cy="872.6" r="10.2" fill="#eaa32a"/>
<circle cx="179.6" cy="912.3" r="9.1" fill="#eaa32a"/>
<circle cx="253.7" cy="918.3" r="7.9" fill="#eaa32a"/>
<circle cx="307" cy="873.2" r="8.8" fill="#eaa32a"/>
<circle cx="208.9" cy="831.7" r="15.8" fill="#8dd6ea"/>
<text x="170.8" y="747.85" font-size="7.42" text-anchor="middle" fill="#111" stroke="#111" textLength="41.82" lengthAdjust="spacingAndGlyphs">One carbon</text>
<text x="170.8" y="756.15" font-size="7.42" text-anchor="middle" fill="#111" stroke="#111" textLength="49.4" lengthAdjust="spacingAndGlyphs">pool by folate</text>
<text x="243.1" y="751.75" font-size="7.42" text-anchor="middle" fill="#111" stroke="#111" textLength="15.86" lengthAdjust="spacingAndGlyphs">DNA</text>
<text x="243.1" y="760.05" font-size="7.42" text-anchor="middle" fill="#111" stroke="#111" textLength="37.97" lengthAdjust="spacingAndGlyphs">replication</text>
<text x="133" y="794.6" font-size="7.42" text-anchor="middle" fill="#111" stroke="#111" textLength="45.73" lengthAdjust="spacingAndGlyphs">Gap junction</text>
<text x="258" y="801.75" font-size="7.42" text-anchor="middle" fill="#111" stroke="#111" textLength="34.73" lengthAdjust="spacingAndGlyphs">Mismatch</text>
<text x="258" y="810.05" font-size="7.42" text-anchor="middle" fill="#111" stroke="#111" textLength="21.17" lengthAdjust="spacingAndGlyphs">repair</text>
<text x="319.3" y="813.2" font-size="7.42" text-anchor="middle" fill="#111" stroke="#111" textLength="35.58" lengthAdjust="spacingAndGlyphs">Ribosome</text>
<text x="89.7" y="828.5" font-size="7.42" text-anchor="middle" fill="#111" stroke="#111" textLength="38.57" lengthAdjust="spacingAndGlyphs">Nucleotide</text>
<text x="89.7" y="836.8" font-size="7.42" text-anchor="middle" fill="#111" stroke="#111" textLength="29.12" lengthAdjust="spacingAndGlyphs">excision</text>
<text x="89.7" y="845.1" font-size="7.42" text-anchor="middle" fill="#111" stroke="#111" textLength="21.17" lengthAdjust="spacingAndGlyphs">repair</text>
<text x="140.4" y="870.75" font-size="7.42" text-anchor="middle" fill="#111" stroke="#111" textLength="41.04" lengthAdjust="spacingAndGlyphs">Propanoate</text>
<text x="140.4" y="879.05" font-size="7.42" text-anchor="middle" fill="#111" stroke="#111" textLength="42.42" lengthAdjust="spacingAndGlyphs">metabolism</text>
<text x="179.6" y="914.6" font-size="7.42" text-anchor="middle" fill="#111" stroke="#111" textLength="37.82" lengthAdjust="spacingAndGlyphs">Mitophagy</text>
<text x="253.7" y="912.3" font-size="7.42" text-anchor="middle" fill="#111" stroke="#111" textLength="39.75" lengthAdjust="spacingAndGlyphs">Pathogenic</text>
<text x="253.7" y="920.6" font-size="7.42" text-anchor="middle" fill="#111" stroke="#111" textLength="41.15" lengthAdjust="spacingAndGlyphs">Escherichia</text>
<text x="253.7" y="928.9" font-size="7.42" text-anchor="middle" fill="#111" stroke="#111" textLength="45.93" lengthAdjust="spacingAndGlyphs">coli infection</text>
<text x="307" y="875.5" font-size="7.42" text-anchor="middle" fill="#111" stroke="#111" textLength="41.89" lengthAdjust="spacingAndGlyphs">Phagosome</text>
<text x="208.9" y="829.85" font-size="7.42" text-anchor="middle" fill="#111" stroke="#111" textLength="23.6" lengthAdjust="spacingAndGlyphs">Top 10</text>
<text x="208.9" y="838.15" font-size="7.42" text-anchor="middle" fill="#111" stroke="#111" textLength="34.13" lengthAdjust="spacingAndGlyphs">Pathways</text>
<text x="66.37" y="740.4" font-size="15.8" font-weight="bold" fill="#000">g</text>
<path d="M387.4 754.1 H392.67 V766.17 H397.93 V776.74 H403.2 V784.28 H408.47 V796.35 H413.73 V802.39 H419 V809.93 H424.27 V814.46 H429.54 V822 H434.8 V829.55 H440.07 V837.1 H445.34 V841.62 H450.6 V844.64 H455.87 V847.66 H498.01 V856.71 H503.27 V867.27 H508.54 V874.82 H555.94 V905" fill="none" stroke="#3a84c0" stroke-width="1.2"/>
<path d="M387.4 754.1 H392.67 V776.74 H397.93 V796.35 H403.2 V806.91 H408.47 V817.48 H413.73 V826.53 H419 V837.1 H424.27 V843.13 H429.54 V849.17 H434.8 V852.18 H440.07 V856.71 H445.34 V862.75 H450.6 V867.27 H455.87 V871.8 H461.14 V874.82 H471.67 V877.84 H498.01 V886.89 H503.27 V889.91 H550.68 V892.93 H555.94 V892.93" fill="none" stroke="#f0913f" stroke-width="1.2"/>
<rect x="387.6" y="746" width="184.8" height="159" fill="none" stroke="#dedede" stroke-width="0.8"/>
<line x1="385.6" y1="905" x2="387.6" y2="905" stroke="#8a8a8a" stroke-width="0.6"/>
<text x="384.4" y="907.34" font-size="7.52" text-anchor="end" stroke="#111111" textLength="11.61" lengthAdjust="spacingAndGlyphs">0.0</text>
<line x1="385.6" y1="874.82" x2="387.6" y2="874.82" stroke="#8a8a8a" stroke-width="0.6"/>
<text x="384.4" y="877.16" font-size="7.52" text-anchor="end" stroke="#111111" textLength="11.61" lengthAdjust="spacingAndGlyphs">0.2</text>
<line x1="385.6" y1="844.64" x2="387.6" y2="844.64" stroke="#8a8a8a" stroke-width="0.6"/>
<text x="384.4" y="846.98" font-size="7.52" text-anchor="end" stroke="#111111" textLength="11.61" lengthAdjust="spacingAndGlyphs">0.4</text>
<line x1="385.6" y1="814.46" x2="387.6" y2="814.46" stroke="#8a8a8a" stroke-width="0.6"/>
<text x="384.4" y="816.8" font-size="7.52" text-anchor="end" stroke="#111111" textLength="11.61" lengthAdjust="spacingAndGlyphs">0.6</text>
<line x1="385.6" y1="784.28" x2="387.6" y2="784.28" stroke="#8a8a8a" stroke-width="0.6"/>
<text x="384.4" y="786.62" font-size="7.52" text-anchor="end" stroke="#111111" textLength="11.61" lengthAdjust="spacingAndGlyphs">0.8</text>
<line x1="385.6" y1="754.1" x2="387.6" y2="754.1" stroke="#8a8a8a" stroke-width="0.6"/>
<text x="384.4" y="756.44" font-size="7.52" text-anchor="end" stroke="#111111" textLength="11.61" lengthAdjust="spacingAndGlyphs">1.0</text>
<line x1="387.4" y1="905" x2="387.4" y2="907" stroke="#8a8a8a" stroke-width="0.6"/>
<text x="387.4" y="913.27" font-size="7.31" text-anchor="middle" stroke="#111111" textLength="4.52" lengthAdjust="spacingAndGlyphs">0</text>
<line x1="413.73" y1="905" x2="413.73" y2="907" stroke="#8a8a8a" stroke-width="0.6"/>
<text x="413.73" y="913.27" font-size="7.31" text-anchor="middle" stroke="#111111" textLength="9.03" lengthAdjust="spacingAndGlyphs">50</text>
<line x1="440.07" y1="905" x2="440.07" y2="907" stroke="#8a8a8a" stroke-width="0.6"/>
<text x="440.07" y="913.27" font-size="7.31" text-anchor="middle" stroke="#111111" textLength="13.55" lengthAdjust="spacingAndGlyphs">100</text>
<line x1="466.4" y1="905" x2="466.4" y2="907" stroke="#8a8a8a" stroke-width="0.6"/>
<text x="466.4" y="913.27" font-size="7.31" text-anchor="middle" stroke="#111111" textLength="13.55" lengthAdjust="spacingAndGlyphs">150</text>
<line x1="492.74" y1="905" x2="492.74" y2="907" stroke="#8a8a8a" stroke-width="0.6"/>
<text x="492.74" y="913.27" font-size="7.31" text-anchor="middle" stroke="#111111" textLength="13.55" lengthAdjust="spacingAndGlyphs">200</text>
<line x1="519.07" y1="905" x2="519.07" y2="907" stroke="#8a8a8a" stroke-width="0.6"/>
<text x="519.07" y="913.27" font-size="7.31" text-anchor="middle" stroke="#111111" textLength="13.55" lengthAdjust="spacingAndGlyphs">250</text>
<line x1="545.41" y1="905" x2="545.41" y2="907" stroke="#8a8a8a" stroke-width="0.6"/>
<text x="545.41" y="913.27" font-size="7.31" text-anchor="middle" stroke="#111111" textLength="13.55" lengthAdjust="spacingAndGlyphs">300</text>
<text x="479.5" y="922.26" font-size="8.24" text-anchor="middle" stroke="#111111" textLength="29.24" lengthAdjust="spacingAndGlyphs">Months</text>
<text x="367" y="828.7" font-size="8.19" text-anchor="middle" stroke="#111111" textLength="64.49" lengthAdjust="spacingAndGlyphs" transform="rotate(-90 367 825.8)">Percent Survival</text>
<text x="479.6" y="753.7" font-size="7.21" text-anchor="middle" stroke="#111111" textLength="69.64" lengthAdjust="spacingAndGlyphs">Logrank p = 0.0051</text>
<text x="479.6" y="761.85" font-size="7.21" text-anchor="middle" stroke="#111111" textLength="52.3" lengthAdjust="spacingAndGlyphs">HR(high) = 1.7</text>
<text x="479.6" y="770" font-size="7.21" text-anchor="middle" stroke="#111111" textLength="54.84" lengthAdjust="spacingAndGlyphs">p(HR) = 0.0057</text>
<rect x="582.4" y="814.3" width="70.1" height="22.9" rx="1.5" fill="#fff" stroke="#e0e0e0" stroke-width="0.7"/>
<line x1="585" y1="820" x2="599.6" y2="820" stroke="#6aa3d0" stroke-width="1.2"/>
<line x1="585" y1="830.7" x2="599.6" y2="830.7" stroke="#f2a468" stroke-width="1.4"/>
<text x="604.7" y="822.24" font-size="7.21" stroke="#111111" textLength="42.69" lengthAdjust="spacingAndGlyphs">Low RPL37A</text>
<text x="604.7" y="832.94" font-size="7.21" stroke="#111111" textLength="44.99" lengthAdjust="spacingAndGlyphs">High RPL37A</text>
<text x="352.01" y="743.9" font-size="15.6" font-weight="bold" fill="#000">h</text>
</svg>
</body></html>
